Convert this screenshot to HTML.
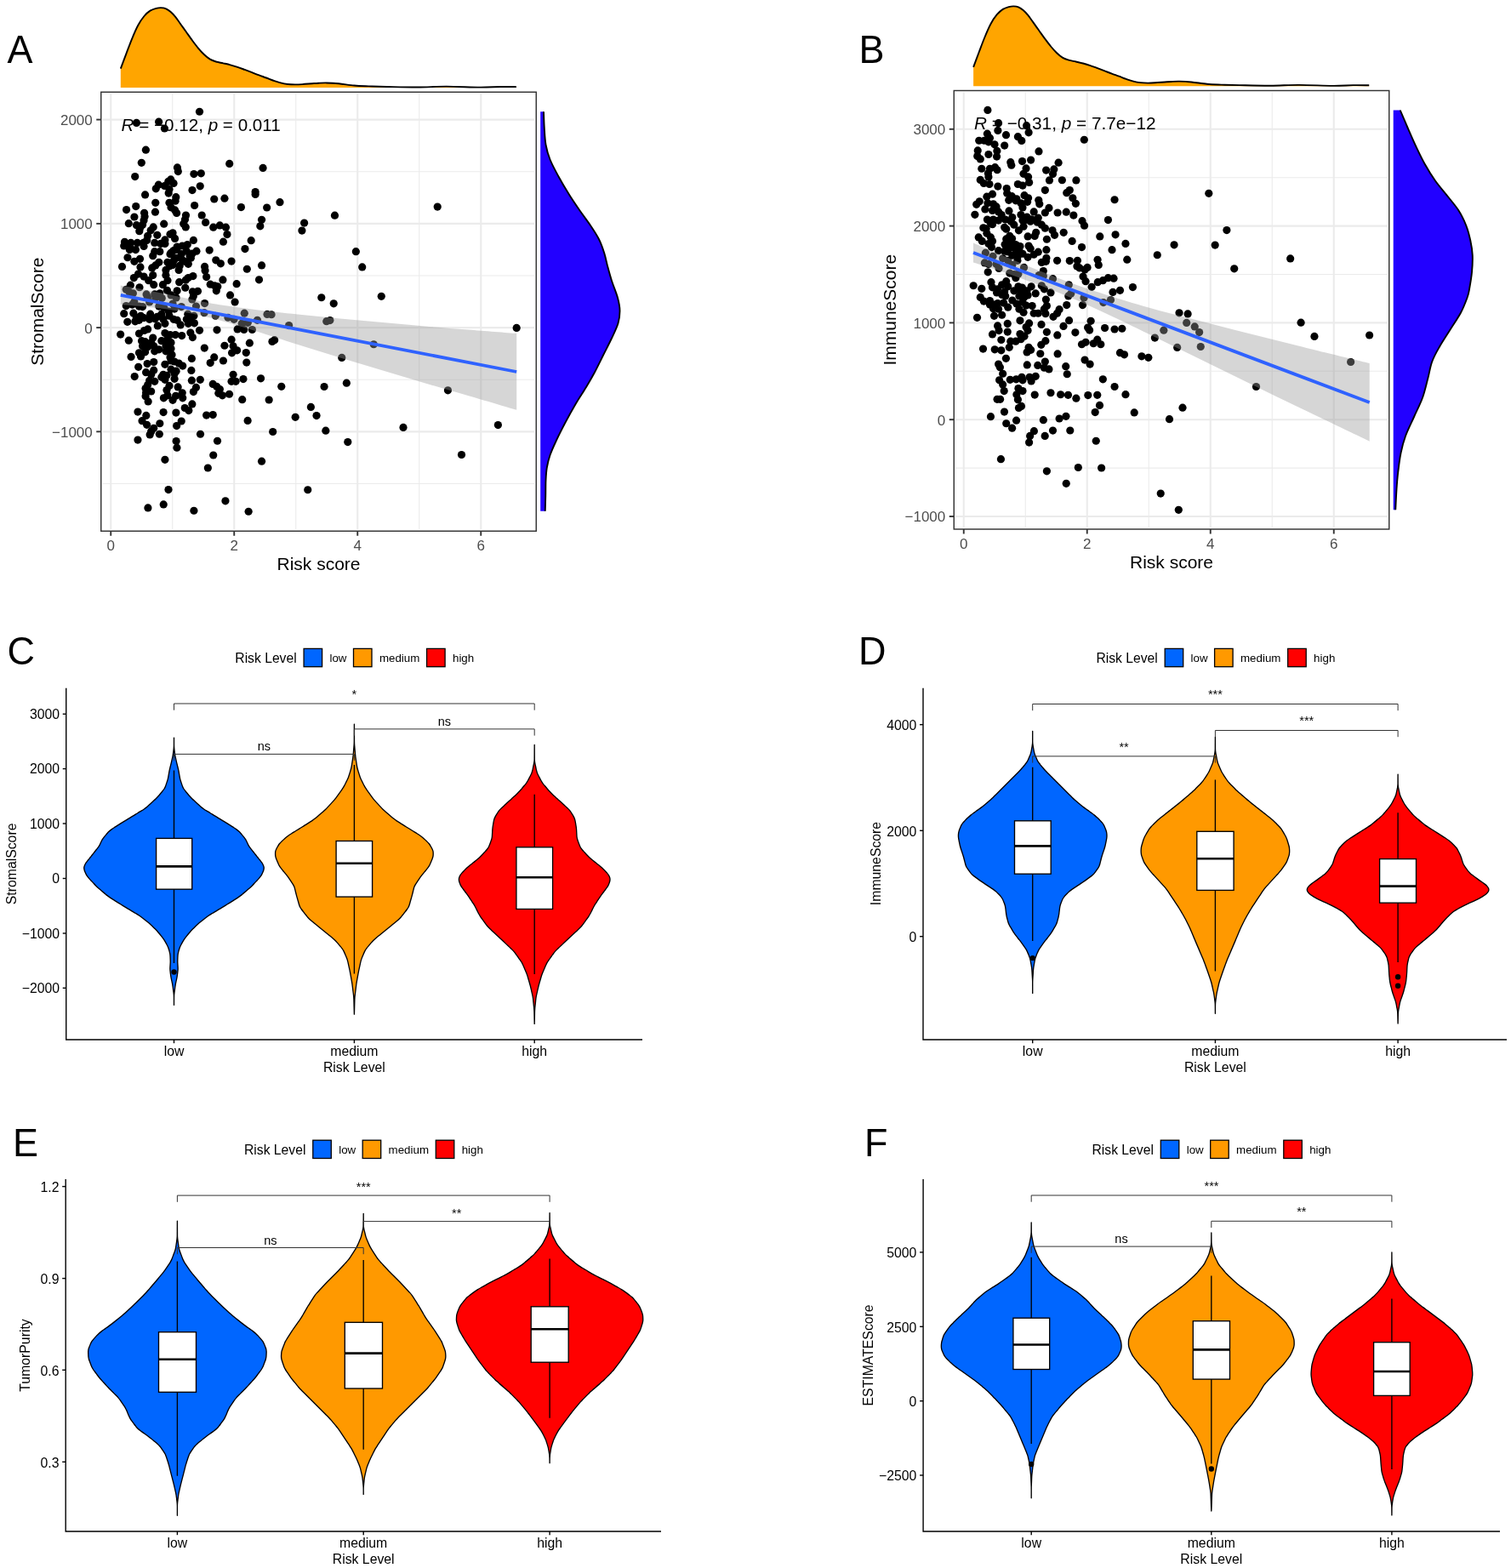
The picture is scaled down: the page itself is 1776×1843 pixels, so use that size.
<!DOCTYPE html>
<html lang="en">
<head>
<meta charset="utf-8">
<title>Risk score versus stromal, immune, ESTIMATE scores and tumor purity</title>
<style>
html,body{margin:0;padding:0;background:#fff;}
body{width:1776px;height:1843px;overflow:hidden;}
svg{display:block;font-family:"Liberation Sans",Arial,Helvetica,sans-serif;}
</style>
</head>
<body>
<svg width="1776" height="1843" viewBox="0 0 1776 1843">
<rect width="1776" height="1843" fill="#fff"/>
<g stroke="#ebebeb" fill="none">
<line x1="202.75" y1="110.35" x2="202.75" y2="622.15" stroke-width="1.1"/>
<line x1="347.75" y1="110.35" x2="347.75" y2="622.15" stroke-width="1.1"/>
<line x1="492.75" y1="110.35" x2="492.75" y2="622.15" stroke-width="1.1"/>
<line x1="120.85" y1="201.73" x2="628.15" y2="201.73" stroke-width="1.1"/>
<line x1="120.85" y1="323.98" x2="628.15" y2="323.98" stroke-width="1.1"/>
<line x1="120.85" y1="446.23" x2="628.15" y2="446.23" stroke-width="1.1"/>
<line x1="120.85" y1="568.48" x2="628.15" y2="568.48" stroke-width="1.1"/>
<line x1="130.25" y1="110.35" x2="130.25" y2="622.15" stroke-width="2.1"/>
<line x1="275.25" y1="110.35" x2="275.25" y2="622.15" stroke-width="2.1"/>
<line x1="420.25" y1="110.35" x2="420.25" y2="622.15" stroke-width="2.1"/>
<line x1="565.25" y1="110.35" x2="565.25" y2="622.15" stroke-width="2.1"/>
<line x1="120.85" y1="140.6" x2="628.15" y2="140.6" stroke-width="2.1"/>
<line x1="120.85" y1="262.85" x2="628.15" y2="262.85" stroke-width="2.1"/>
<line x1="120.85" y1="385.1" x2="628.15" y2="385.1" stroke-width="2.1"/>
<line x1="120.85" y1="507.35" x2="628.15" y2="507.35" stroke-width="2.1"/>
</g>
<g fill="#000">
<circle cx="234.5" cy="131.23" r="4.6"/>
<circle cx="160.44" cy="144.42" r="4.6"/>
<circle cx="186.62" cy="143.21" r="4.6"/>
<circle cx="193.41" cy="151.02" r="4.6"/>
<circle cx="171.4" cy="176.18" r="4.6"/>
<circle cx="166.32" cy="191.3" r="4.6"/>
<circle cx="269.71" cy="192.41" r="4.6"/>
<circle cx="309.08" cy="197.39" r="4.6"/>
<circle cx="208.43" cy="196.88" r="4.6"/>
<circle cx="209.34" cy="201.55" r="4.6"/>
<circle cx="227.91" cy="204.59" r="4.6"/>
<circle cx="236.33" cy="203.78" r="4.6"/>
<circle cx="158.71" cy="207.53" r="4.6"/>
<circle cx="200.72" cy="210.88" r="4.6"/>
<circle cx="197.78" cy="213.42" r="4.6"/>
<circle cx="204.07" cy="215.45" r="4.6"/>
<circle cx="186.31" cy="217.17" r="4.6"/>
<circle cx="193.41" cy="218.49" r="4.6"/>
<circle cx="183.27" cy="221.84" r="4.6"/>
<circle cx="198.99" cy="222.55" r="4.6"/>
<circle cx="235.22" cy="218.79" r="4.6"/>
<circle cx="225.98" cy="223.56" r="4.6"/>
<circle cx="198.18" cy="227.11" r="4.6"/>
<circle cx="170.58" cy="228.94" r="4.6"/>
<circle cx="300.15" cy="225.59" r="4.6"/>
<circle cx="300.15" cy="228.43" r="4.6"/>
<circle cx="206.81" cy="231.68" r="4.6"/>
<circle cx="206.1" cy="236.25" r="4.6"/>
<circle cx="251.75" cy="234.01" r="4.6"/>
<circle cx="263.93" cy="233.2" r="4.6"/>
<circle cx="182.76" cy="238.28" r="4.6"/>
<circle cx="198.99" cy="238.28" r="4.6"/>
<circle cx="228.62" cy="241.52" r="4.6"/>
<circle cx="159.73" cy="242.54" r="4.6"/>
<circle cx="283.41" cy="243.55" r="4.6"/>
<circle cx="201.02" cy="243.86" r="4.6"/>
<circle cx="148.57" cy="246.59" r="4.6"/>
<circle cx="205.59" cy="246.9" r="4.6"/>
<circle cx="182.46" cy="249.13" r="4.6"/>
<circle cx="207.62" cy="250.45" r="4.6"/>
<circle cx="169.57" cy="250.25" r="4.6"/>
<circle cx="218.47" cy="252.99" r="4.6"/>
<circle cx="237.24" cy="252.99" r="4.6"/>
<circle cx="157.9" cy="255.02" r="4.6"/>
<circle cx="170.08" cy="254.51" r="4.6"/>
<circle cx="169.06" cy="259.07" r="4.6"/>
<circle cx="217.46" cy="258.06" r="4.6"/>
<circle cx="307.56" cy="258.36" r="4.6"/>
<circle cx="151.31" cy="262.63" r="4.6"/>
<circle cx="192.7" cy="263.13" r="4.6"/>
<circle cx="241.61" cy="261.41" r="4.6"/>
<circle cx="215.73" cy="262.93" r="4.6"/>
<circle cx="160.44" cy="264.66" r="4.6"/>
<circle cx="167.54" cy="264.15" r="4.6"/>
<circle cx="258.35" cy="264.96" r="4.6"/>
<circle cx="305.83" cy="265.87" r="4.6"/>
<circle cx="218.27" cy="266.89" r="4.6"/>
<circle cx="250.74" cy="267.19" r="4.6"/>
<circle cx="265.45" cy="267.19" r="4.6"/>
<circle cx="180.22" cy="266.89" r="4.6"/>
<circle cx="164.5" cy="268.21" r="4.6"/>
<circle cx="177.18" cy="270.74" r="4.6"/>
<circle cx="163.79" cy="271.76" r="4.6"/>
<circle cx="203.05" cy="273.79" r="4.6"/>
<circle cx="200.01" cy="275.31" r="4.6"/>
<circle cx="266.97" cy="275.61" r="4.6"/>
<circle cx="184.79" cy="276.32" r="4.6"/>
<circle cx="173.63" cy="277.34" r="4.6"/>
<circle cx="205.59" cy="280.38" r="4.6"/>
<circle cx="193.92" cy="281.9" r="4.6"/>
<circle cx="227.4" cy="282.41" r="4.6"/>
<circle cx="295.18" cy="282.72" r="4.6"/>
<circle cx="262.41" cy="284.14" r="4.6"/>
<circle cx="146.54" cy="284.24" r="4.6"/>
<circle cx="153.84" cy="285.45" r="4.6"/>
<circle cx="161.45" cy="285.45" r="4.6"/>
<circle cx="168.56" cy="285.45" r="4.6"/>
<circle cx="172.61" cy="282.41" r="4.6"/>
<circle cx="181.75" cy="285.45" r="4.6"/>
<circle cx="188.85" cy="286.47" r="4.6"/>
<circle cx="193.92" cy="286.47" r="4.6"/>
<circle cx="145.73" cy="289.01" r="4.6"/>
<circle cx="152.83" cy="290.53" r="4.6"/>
<circle cx="169.06" cy="289.51" r="4.6"/>
<circle cx="159.42" cy="293.57" r="4.6"/>
<circle cx="152.32" cy="293.57" r="4.6"/>
<circle cx="208.12" cy="290.02" r="4.6"/>
<circle cx="214.21" cy="289.01" r="4.6"/>
<circle cx="220.3" cy="287.48" r="4.6"/>
<circle cx="287.97" cy="292.56" r="4.6"/>
<circle cx="246.17" cy="294.08" r="4.6"/>
<circle cx="204.07" cy="294.59" r="4.6"/>
<circle cx="230.95" cy="295.15" r="4.6"/>
<circle cx="225.88" cy="298.19" r="4.6"/>
<circle cx="181.75" cy="295.65" r="4.6"/>
<circle cx="187.83" cy="295.65" r="4.6"/>
<circle cx="213.2" cy="298.7" r="4.6"/>
<circle cx="149.99" cy="302.76" r="4.6"/>
<circle cx="200.01" cy="298.7" r="4.6"/>
<circle cx="179.72" cy="300.73" r="4.6"/>
<circle cx="164.5" cy="304.28" r="4.6"/>
<circle cx="157.9" cy="307.32" r="4.6"/>
<circle cx="253.78" cy="305.8" r="4.6"/>
<circle cx="259.36" cy="309.86" r="4.6"/>
<circle cx="272.05" cy="307.12" r="4.6"/>
<circle cx="201.02" cy="297.18" r="4.6"/>
<circle cx="207.11" cy="303.26" r="4.6"/>
<circle cx="219.29" cy="295.15" r="4.6"/>
<circle cx="224.36" cy="303.26" r="4.6"/>
<circle cx="217.26" cy="307.32" r="4.6"/>
<circle cx="196.96" cy="308.34" r="4.6"/>
<circle cx="203.05" cy="311.38" r="4.6"/>
<circle cx="211.17" cy="312.39" r="4.6"/>
<circle cx="221.31" cy="310.37" r="4.6"/>
<circle cx="194.94" cy="317.47" r="4.6"/>
<circle cx="210.15" cy="317.47" r="4.6"/>
<circle cx="186.82" cy="308.34" r="4.6"/>
<circle cx="182.76" cy="311.89" r="4.6"/>
<circle cx="178.7" cy="314.93" r="4.6"/>
<circle cx="165" cy="313.92" r="4.6"/>
<circle cx="143.49" cy="313.41" r="4.6"/>
<circle cx="240.59" cy="313.41" r="4.6"/>
<circle cx="241.1" cy="317.97" r="4.6"/>
<circle cx="290.31" cy="316.25" r="4.6"/>
<circle cx="307.56" cy="311.89" r="4.6"/>
<circle cx="179.72" cy="323.56" r="4.6"/>
<circle cx="162.47" cy="322.03" r="4.6"/>
<circle cx="157.39" cy="326.6" r="4.6"/>
<circle cx="169.06" cy="325.08" r="4.6"/>
<circle cx="174.64" cy="329.64" r="4.6"/>
<circle cx="180.73" cy="334.72" r="4.6"/>
<circle cx="194.94" cy="323.56" r="4.6"/>
<circle cx="196.96" cy="329.64" r="4.6"/>
<circle cx="191.38" cy="334.72" r="4.6"/>
<circle cx="210.66" cy="331.67" r="4.6"/>
<circle cx="226.9" cy="324.57" r="4.6"/>
<circle cx="221.31" cy="326.6" r="4.6"/>
<circle cx="218.27" cy="329.14" r="4.6"/>
<circle cx="217.76" cy="338.27" r="4.6"/>
<circle cx="242.62" cy="325.58" r="4.6"/>
<circle cx="261.9" cy="328.93" r="4.6"/>
<circle cx="304.51" cy="328.83" r="4.6"/>
<circle cx="278.13" cy="333.7" r="4.6"/>
<circle cx="247.19" cy="334.21" r="4.6"/>
<circle cx="252.26" cy="335.73" r="4.6"/>
<circle cx="255.81" cy="336.75" r="4.6"/>
<circle cx="254.29" cy="341.82" r="4.6"/>
<circle cx="153.34" cy="335.22" r="4.6"/>
<circle cx="163.99" cy="337.76" r="4.6"/>
<circle cx="148.26" cy="340.3" r="4.6"/>
<circle cx="156.38" cy="344.86" r="4.6"/>
<circle cx="172.11" cy="345.88" r="4.6"/>
<circle cx="196.46" cy="341.31" r="4.6"/>
<circle cx="208.12" cy="341.82" r="4.6"/>
<circle cx="187.83" cy="344.86" r="4.6"/>
<circle cx="181.75" cy="345.88" r="4.6"/>
<circle cx="201.02" cy="346.89" r="4.6"/>
<circle cx="207.11" cy="349.94" r="4.6"/>
<circle cx="226.39" cy="342.83" r="4.6"/>
<circle cx="232.48" cy="342.33" r="4.6"/>
<circle cx="227.4" cy="347.91" r="4.6"/>
<circle cx="225.88" cy="351.96" r="4.6"/>
<circle cx="270.52" cy="346.89" r="4.6"/>
<circle cx="276.1" cy="355.01" r="4.6"/>
<circle cx="240.59" cy="356.53" r="4.6"/>
<circle cx="148.26" cy="359.57" r="4.6"/>
<circle cx="155.37" cy="358.05" r="4.6"/>
<circle cx="163.48" cy="360.08" r="4.6"/>
<circle cx="167.54" cy="360.59" r="4.6"/>
<circle cx="175.66" cy="355.01" r="4.6"/>
<circle cx="186.82" cy="360.08" r="4.6"/>
<circle cx="192.91" cy="362.11" r="4.6"/>
<circle cx="203.05" cy="357.04" r="4.6"/>
<circle cx="205.08" cy="363.12" r="4.6"/>
<circle cx="213.2" cy="360.59" r="4.6"/>
<circle cx="230.45" cy="360.08" r="4.6"/>
<circle cx="220.81" cy="369.21" r="4.6"/>
<circle cx="227.91" cy="371.24" r="4.6"/>
<circle cx="240.09" cy="367.69" r="4.6"/>
<circle cx="253.28" cy="371.24" r="4.6"/>
<circle cx="267.99" cy="373.27" r="4.6"/>
<circle cx="287.26" cy="368.2" r="4.6"/>
<circle cx="302.48" cy="376.31" r="4.6"/>
<circle cx="275.09" cy="375.3" r="4.6"/>
<circle cx="284.22" cy="380.37" r="4.6"/>
<circle cx="291.32" cy="379.36" r="4.6"/>
<circle cx="145.73" cy="368.71" r="4.6"/>
<circle cx="156.89" cy="368.2" r="4.6"/>
<circle cx="165.51" cy="371.24" r="4.6"/>
<circle cx="160.44" cy="373.27" r="4.6"/>
<circle cx="149.78" cy="378.34" r="4.6"/>
<circle cx="158.92" cy="377.84" r="4.6"/>
<circle cx="163.48" cy="376.31" r="4.6"/>
<circle cx="176.67" cy="369.21" r="4.6"/>
<circle cx="175.66" cy="375.3" r="4.6"/>
<circle cx="184.79" cy="372.26" r="4.6"/>
<circle cx="189.86" cy="369.21" r="4.6"/>
<circle cx="191.89" cy="375.3" r="4.6"/>
<circle cx="198.99" cy="371.24" r="4.6"/>
<circle cx="204.07" cy="375.3" r="4.6"/>
<circle cx="208.12" cy="376.31" r="4.6"/>
<circle cx="212.18" cy="381.9" r="4.6"/>
<circle cx="193.92" cy="380.37" r="4.6"/>
<circle cx="185.3" cy="382.91" r="4.6"/>
<circle cx="219.29" cy="375.3" r="4.6"/>
<circle cx="224.36" cy="376.31" r="4.6"/>
<circle cx="221.31" cy="380.37" r="4.6"/>
<circle cx="228.42" cy="379.87" r="4.6"/>
<circle cx="234.5" cy="388.29" r="4.6"/>
<circle cx="255" cy="387.78" r="4.6"/>
<circle cx="279.15" cy="386.97" r="4.6"/>
<circle cx="286.76" cy="387.48" r="4.6"/>
<circle cx="296.4" cy="387.48" r="4.6"/>
<circle cx="141.67" cy="393.06" r="4.6"/>
<circle cx="151.31" cy="400.16" r="4.6"/>
<circle cx="163.48" cy="392.04" r="4.6"/>
<circle cx="169.57" cy="388.49" r="4.6"/>
<circle cx="173.63" cy="386.97" r="4.6"/>
<circle cx="193.92" cy="391.53" r="4.6"/>
<circle cx="200.01" cy="393.56" r="4.6"/>
<circle cx="206.1" cy="393.56" r="4.6"/>
<circle cx="213.71" cy="394.58" r="4.6"/>
<circle cx="223.85" cy="391.03" r="4.6"/>
<circle cx="226.39" cy="396.61" r="4.6"/>
<circle cx="179.72" cy="397.11" r="4.6"/>
<circle cx="166.53" cy="400.67" r="4.6"/>
<circle cx="170.58" cy="401.68" r="4.6"/>
<circle cx="177.69" cy="402.69" r="4.6"/>
<circle cx="189.86" cy="400.67" r="4.6"/>
<circle cx="195.95" cy="399.65" r="4.6"/>
<circle cx="201.02" cy="402.69" r="4.6"/>
<circle cx="272.05" cy="399.14" r="4.6"/>
<circle cx="293.35" cy="403.2" r="4.6"/>
<circle cx="263.93" cy="406.25" r="4.6"/>
<circle cx="274.07" cy="406.75" r="4.6"/>
<circle cx="278.64" cy="411.83" r="4.6"/>
<circle cx="272.55" cy="414.87" r="4.6"/>
<circle cx="289.29" cy="414.57" r="4.6"/>
<circle cx="240.29" cy="409.09" r="4.6"/>
<circle cx="167.54" cy="406.75" r="4.6"/>
<circle cx="173.63" cy="407.77" r="4.6"/>
<circle cx="180.73" cy="406.75" r="4.6"/>
<circle cx="186.82" cy="410.81" r="4.6"/>
<circle cx="194.94" cy="406.75" r="4.6"/>
<circle cx="201.02" cy="409.8" r="4.6"/>
<circle cx="163.48" cy="414.87" r="4.6"/>
<circle cx="170.58" cy="413.86" r="4.6"/>
<circle cx="181.75" cy="412.84" r="4.6"/>
<circle cx="194.94" cy="412.84" r="4.6"/>
<circle cx="202.04" cy="416.9" r="4.6"/>
<circle cx="165.51" cy="418.93" r="4.6"/>
<circle cx="154.05" cy="419.44" r="4.6"/>
<circle cx="200.01" cy="419.94" r="4.6"/>
<circle cx="225.37" cy="421.47" r="4.6"/>
<circle cx="251.75" cy="419.94" r="4.6"/>
<circle cx="247.19" cy="426.54" r="4.6"/>
<circle cx="262.41" cy="424" r="4.6"/>
<circle cx="289.8" cy="426.03" r="4.6"/>
<circle cx="205.08" cy="425.02" r="4.6"/>
<circle cx="210.15" cy="427.05" r="4.6"/>
<circle cx="214.72" cy="430.09" r="4.6"/>
<circle cx="201.02" cy="424" r="4.6"/>
<circle cx="180.73" cy="425.52" r="4.6"/>
<circle cx="173.12" cy="427.55" r="4.6"/>
<circle cx="193.92" cy="428.36" r="4.6"/>
<circle cx="162.67" cy="431.31" r="4.6"/>
<circle cx="201.02" cy="434.15" r="4.6"/>
<circle cx="207.11" cy="436.18" r="4.6"/>
<circle cx="224.87" cy="435.47" r="4.6"/>
<circle cx="180.73" cy="435.16" r="4.6"/>
<circle cx="171.6" cy="437.7" r="4.6"/>
<circle cx="177.69" cy="440.24" r="4.6"/>
<circle cx="191.89" cy="440.24" r="4.6"/>
<circle cx="195.95" cy="441.25" r="4.6"/>
<circle cx="189.86" cy="443.28" r="4.6"/>
<circle cx="193.92" cy="446.32" r="4.6"/>
<circle cx="205.08" cy="439.22" r="4.6"/>
<circle cx="274.07" cy="440.24" r="4.6"/>
<circle cx="158.21" cy="442.57" r="4.6"/>
<circle cx="205.08" cy="445.31" r="4.6"/>
<circle cx="225.37" cy="447.13" r="4.6"/>
<circle cx="235.32" cy="446.32" r="4.6"/>
<circle cx="272.05" cy="448.35" r="4.6"/>
<circle cx="277.12" cy="448.35" r="4.6"/>
<circle cx="285.95" cy="445.61" r="4.6"/>
<circle cx="306.54" cy="444.8" r="4.6"/>
<circle cx="175.66" cy="447.34" r="4.6"/>
<circle cx="181.75" cy="448.35" r="4.6"/>
<circle cx="173.63" cy="452.41" r="4.6"/>
<circle cx="250.23" cy="451.4" r="4.6"/>
<circle cx="254.8" cy="454.44" r="4.6"/>
<circle cx="258.35" cy="457.48" r="4.6"/>
<circle cx="198.99" cy="453.43" r="4.6"/>
<circle cx="209.14" cy="454.95" r="4.6"/>
<circle cx="230.45" cy="455.45" r="4.6"/>
<circle cx="195.95" cy="458.5" r="4.6"/>
<circle cx="227.4" cy="460.53" r="4.6"/>
<circle cx="171.09" cy="456.47" r="4.6"/>
<circle cx="177.69" cy="460.02" r="4.6"/>
<circle cx="171.6" cy="461.54" r="4.6"/>
<circle cx="256.83" cy="462.25" r="4.6"/>
<circle cx="261.39" cy="464.78" r="4.6"/>
<circle cx="269.51" cy="463.26" r="4.6"/>
<circle cx="171.09" cy="465.8" r="4.6"/>
<circle cx="174.14" cy="471.89" r="4.6"/>
<circle cx="196.96" cy="464.78" r="4.6"/>
<circle cx="192.4" cy="467.83" r="4.6"/>
<circle cx="214.21" cy="461.74" r="4.6"/>
<circle cx="206.6" cy="465.29" r="4.6"/>
<circle cx="214.72" cy="467.83" r="4.6"/>
<circle cx="203.05" cy="470.37" r="4.6"/>
<circle cx="284.73" cy="469.66" r="4.6"/>
<circle cx="225.88" cy="474.93" r="4.6"/>
<circle cx="217.26" cy="479.5" r="4.6"/>
<circle cx="221.82" cy="482.54" r="4.6"/>
<circle cx="161.96" cy="484.06" r="4.6"/>
<circle cx="171.8" cy="488.43" r="4.6"/>
<circle cx="192.09" cy="484.57" r="4.6"/>
<circle cx="206.91" cy="485.08" r="4.6"/>
<circle cx="242.62" cy="488.12" r="4.6"/>
<circle cx="250.23" cy="487.61" r="4.6"/>
<circle cx="167.03" cy="494.72" r="4.6"/>
<circle cx="172.61" cy="499.28" r="4.6"/>
<circle cx="187.83" cy="497.76" r="4.6"/>
<circle cx="213.2" cy="495.02" r="4.6"/>
<circle cx="207.62" cy="500.6" r="4.6"/>
<circle cx="291.12" cy="494.41" r="4.6"/>
<circle cx="180.73" cy="503.34" r="4.6"/>
<circle cx="177.69" cy="506.89" r="4.6"/>
<circle cx="176.16" cy="510.95" r="4.6"/>
<circle cx="187.33" cy="510.24" r="4.6"/>
<circle cx="235.52" cy="510.24" r="4.6"/>
<circle cx="161.96" cy="517.04" r="4.6"/>
<circle cx="207.11" cy="518.56" r="4.6"/>
<circle cx="207.92" cy="526.17" r="4.6"/>
<circle cx="255.51" cy="518.25" r="4.6"/>
<circle cx="250.74" cy="535" r="4.6"/>
<circle cx="193.92" cy="540.37" r="4.6"/>
<circle cx="307.56" cy="542.2" r="4.6"/>
<circle cx="244.35" cy="550.01" r="4.6"/>
<circle cx="197.98" cy="575.58" r="4.6"/>
<circle cx="264.94" cy="588.87" r="4.6"/>
<circle cx="192.2" cy="592.93" r="4.6"/>
<circle cx="173.93" cy="596.89" r="4.6"/>
<circle cx="227.91" cy="600.24" r="4.6"/>
<circle cx="292.13" cy="601.25" r="4.6"/>
<circle cx="328.97" cy="237.7" r="4.6"/>
<circle cx="313.66" cy="244.01" r="4.6"/>
<circle cx="357.62" cy="262.03" r="4.6"/>
<circle cx="354.92" cy="271.04" r="4.6"/>
<circle cx="393.48" cy="253.2" r="4.6"/>
<circle cx="514.2" cy="243.11" r="4.6"/>
<circle cx="418.34" cy="295.72" r="4.6"/>
<circle cx="425.73" cy="313.92" r="4.6"/>
<circle cx="377.8" cy="349.77" r="4.6"/>
<circle cx="392.22" cy="356.8" r="4.6"/>
<circle cx="448.25" cy="348.33" r="4.6"/>
<circle cx="314.02" cy="369.41" r="4.6"/>
<circle cx="319.06" cy="369.77" r="4.6"/>
<circle cx="383.75" cy="377.7" r="4.6"/>
<circle cx="387.89" cy="376.62" r="4.6"/>
<circle cx="339.6" cy="382.57" r="4.6"/>
<circle cx="607.17" cy="385.45" r="4.6"/>
<circle cx="319.96" cy="401.49" r="4.6"/>
<circle cx="322.67" cy="399.68" r="4.6"/>
<circle cx="439.24" cy="404.73" r="4.6"/>
<circle cx="401.77" cy="420.41" r="4.6"/>
<circle cx="330.77" cy="454.32" r="4.6"/>
<circle cx="316.18" cy="470" r="4.6"/>
<circle cx="381.05" cy="454.5" r="4.6"/>
<circle cx="407.35" cy="450.18" r="4.6"/>
<circle cx="365.37" cy="478.47" r="4.6"/>
<circle cx="372.04" cy="488.56" r="4.6"/>
<circle cx="347.17" cy="490.36" r="4.6"/>
<circle cx="320.68" cy="507.48" r="4.6"/>
<circle cx="382.85" cy="506.22" r="4.6"/>
<circle cx="408.79" cy="519.55" r="4.6"/>
<circle cx="474.02" cy="502.43" r="4.6"/>
<circle cx="526.45" cy="458.83" r="4.6"/>
<circle cx="585.37" cy="499.55" r="4.6"/>
<circle cx="542.49" cy="534.5" r="4.6"/>
<circle cx="361.77" cy="575.77" r="4.6"/>
<circle cx="199.01" cy="309.95" r="4.6"/>
<circle cx="152.22" cy="343.64" r="4.6"/>
<circle cx="173.43" cy="349.25" r="4.6"/>
<circle cx="182.79" cy="349.88" r="4.6"/>
<circle cx="190.27" cy="350.5" r="4.6"/>
<circle cx="157.83" cy="354.87" r="4.6"/>
<circle cx="182.16" cy="374.83" r="4.6"/>
<circle cx="169.06" cy="373.58" r="4.6"/>
<circle cx="198.38" cy="366.1" r="4.6"/>
<circle cx="207.84" cy="293.28" r="4.6"/>
<circle cx="204.46" cy="305.95" r="4.6"/>
<circle cx="214.59" cy="305.95" r="4.6"/>
<circle cx="199.39" cy="312.7" r="4.6"/>
<circle cx="223.04" cy="300.88" r="4.6"/>
</g>
<path d="M141.8,335.5C146.5,336.33 160.3,338.67 170,340.5C179.7,342.33 190,344.42 200,346.5C210,348.58 220,351 230,353C240,355 248.33,356.67 260,358.5C271.67,360.33 285,362.17 300,364C315,365.83 333.33,367.75 350,369.5C366.67,371.25 383.33,372.92 400,374.5C416.67,376.08 433.33,377.5 450,379C466.67,380.5 483.33,382.08 500,383.5C516.67,384.92 532.13,386.08 550,387.5C567.87,388.92 597.67,391.25 607.2,392L607.2,481.8C597.67,479 567.87,470.22 550,465C532.13,459.78 516.67,455.42 500,450.5C483.33,445.58 466.67,440.5 450,435.5C433.33,430.5 416.67,425.58 400,420.5C383.33,415.42 366.67,410.25 350,405C333.33,399.75 315,393.67 300,389C285,384.33 271.67,380.25 260,377C248.33,373.75 240,371.67 230,369.5C220,367.33 210,365.5 200,364C190,362.5 179.7,361.5 170,360.5C160.3,359.5 146.5,358.42 141.8,358Z" fill="#999" fill-opacity="0.4"/>
<line x1="141.8" y1="346.8" x2="607.2" y2="437" stroke="#2f62ff" stroke-width="3.8"/>
<text x="142.5" y="154.3" font-size="20.65" text-anchor="start" fill="#000"><tspan font-style="italic">R</tspan> = −0.12, <tspan font-style="italic">p</tspan> = 0.011</text>
<rect x="118.75" y="108.25" width="511.5" height="516" fill="none" stroke="#333" stroke-width="1.45"/>
<g stroke="#333" stroke-width="1.9">
<line x1="130.25" y1="624.25" x2="130.25" y2="629.75"/>
<line x1="275.25" y1="624.25" x2="275.25" y2="629.75"/>
<line x1="420.25" y1="624.25" x2="420.25" y2="629.75"/>
<line x1="565.25" y1="624.25" x2="565.25" y2="629.75"/>
<line x1="113.25" y1="140.6" x2="118.75" y2="140.6"/>
<line x1="113.25" y1="262.85" x2="118.75" y2="262.85"/>
<line x1="113.25" y1="385.1" x2="118.75" y2="385.1"/>
<line x1="113.25" y1="507.35" x2="118.75" y2="507.35"/>
</g>
<text x="130.25" y="646.85" font-size="17.0" text-anchor="middle" fill="#4d4d4d">0</text>
<text x="275.25" y="646.85" font-size="17.0" text-anchor="middle" fill="#4d4d4d">2</text>
<text x="420.25" y="646.85" font-size="17.0" text-anchor="middle" fill="#4d4d4d">4</text>
<text x="565.25" y="646.85" font-size="17.0" text-anchor="middle" fill="#4d4d4d">6</text>
<text x="108.75" y="147" font-size="17.0" text-anchor="end" fill="#4d4d4d">2000</text>
<text x="108.75" y="269.25" font-size="17.0" text-anchor="end" fill="#4d4d4d">1000</text>
<text x="108.75" y="391.5" font-size="17.0" text-anchor="end" fill="#4d4d4d">0</text>
<text x="108.75" y="513.75" font-size="17.0" text-anchor="end" fill="#4d4d4d">−1000</text>
<text x="374.5" y="669.5" font-size="21" text-anchor="middle" fill="#000">Risk score</text>
<text transform="translate(51.3,366.25) rotate(-90)" font-size="21" text-anchor="middle" fill="#000">StromalScore</text>
<path d="M141.82,80.66C142.9,77.77 146.05,69.28 148.3,63.34C150.55,57.41 152.99,50.68 155.34,45.05C157.68,39.41 160.03,33.9 162.38,29.56C164.72,25.22 167.07,21.82 169.41,19C171.76,16.19 174.11,14.19 176.45,12.67C178.8,11.14 181.38,10.44 183.49,9.85C185.6,9.27 187.24,9.1 189.12,9.15C191,9.2 192.88,9.36 194.75,10.14C196.63,10.91 198.51,12.2 200.38,13.8C202.26,15.39 204.14,17.43 206.01,19.71C207.89,21.98 209.53,24.52 211.64,27.45C213.76,30.38 216.34,34.02 218.68,37.3C221.03,40.59 223.37,43.99 225.72,47.16C228.07,50.32 230.41,53.49 232.76,56.31C235.11,59.12 237.45,61.82 239.8,64.05C242.14,66.28 244.49,68.27 246.84,69.68C249.18,71.09 251.29,71.72 253.87,72.49C256.45,73.27 259.5,73.69 262.32,74.32C265.14,74.96 267.95,75.54 270.77,76.3C273.58,77.05 276.4,77.89 279.21,78.83C282.03,79.77 284.84,80.87 287.66,81.93C290.47,82.98 293.29,84.08 296.1,85.16C298.92,86.24 301.73,87.35 304.55,88.4C307.36,89.46 310.18,90.44 313,91.5C315.81,92.55 318.63,93.75 321.44,94.74C324.26,95.72 327.07,96.71 329.89,97.41C332.7,98.11 335.52,98.63 338.33,98.96C341.15,99.29 343.96,99.36 346.78,99.38C349.59,99.4 351.94,99.29 355.23,99.1C358.51,98.91 363.32,98.48 366.49,98.25C369.65,98.03 371.29,97.86 374.22,97.73C377.15,97.59 380.09,97.35 384.08,97.44C388.06,97.54 392.76,97.77 398.15,98.29C403.55,98.8 410.59,100.02 416.45,100.54C422.32,101.06 427.01,101.15 433.34,101.39C439.68,101.62 444.84,101.76 454.46,101.95C464.08,102.14 479.33,102.56 491.06,102.51C502.79,102.46 512.64,101.64 524.84,101.67C537.04,101.69 553.7,102.61 564.26,102.65C574.81,102.7 581.08,102.04 588.19,101.95C595.3,101.85 603.79,102.07 606.91,102.09L606.91,103L141.82,103Z" fill="#ffa500"/>
<path d="M141.82,80.66C142.9,77.77 146.05,69.28 148.3,63.34C150.55,57.41 152.99,50.68 155.34,45.05C157.68,39.41 160.03,33.9 162.38,29.56C164.72,25.22 167.07,21.82 169.41,19C171.76,16.19 174.11,14.19 176.45,12.67C178.8,11.14 181.38,10.44 183.49,9.85C185.6,9.27 187.24,9.1 189.12,9.15C191,9.2 192.88,9.36 194.75,10.14C196.63,10.91 198.51,12.2 200.38,13.8C202.26,15.39 204.14,17.43 206.01,19.71C207.89,21.98 209.53,24.52 211.64,27.45C213.76,30.38 216.34,34.02 218.68,37.3C221.03,40.59 223.37,43.99 225.72,47.16C228.07,50.32 230.41,53.49 232.76,56.31C235.11,59.12 237.45,61.82 239.8,64.05C242.14,66.28 244.49,68.27 246.84,69.68C249.18,71.09 251.29,71.72 253.87,72.49C256.45,73.27 259.5,73.69 262.32,74.32C265.14,74.96 267.95,75.54 270.77,76.3C273.58,77.05 276.4,77.89 279.21,78.83C282.03,79.77 284.84,80.87 287.66,81.93C290.47,82.98 293.29,84.08 296.1,85.16C298.92,86.24 301.73,87.35 304.55,88.4C307.36,89.46 310.18,90.44 313,91.5C315.81,92.55 318.63,93.75 321.44,94.74C324.26,95.72 327.07,96.71 329.89,97.41C332.7,98.11 335.52,98.63 338.33,98.96C341.15,99.29 343.96,99.36 346.78,99.38C349.59,99.4 351.94,99.29 355.23,99.1C358.51,98.91 363.32,98.48 366.49,98.25C369.65,98.03 371.29,97.86 374.22,97.73C377.15,97.59 380.09,97.35 384.08,97.44C388.06,97.54 392.76,97.77 398.15,98.29C403.55,98.8 410.59,100.02 416.45,100.54C422.32,101.06 427.01,101.15 433.34,101.39C439.68,101.62 444.84,101.76 454.46,101.95C464.08,102.14 479.33,102.56 491.06,102.51C502.79,102.46 512.64,101.64 524.84,101.67C537.04,101.69 553.7,102.61 564.26,102.65C574.81,102.7 581.08,102.04 588.19,101.95C595.3,101.85 603.79,102.07 606.91,102.09" fill="none" stroke="#000" stroke-width="1.9" stroke-linejoin="round"/>
<path d="M639,131.25C639.12,134.38 639.33,143.54 639.75,150C640.17,156.46 640.38,163.75 641.5,170C642.62,176.25 644,181.25 646.5,187.5C649,193.75 652.75,200.62 656.5,207.5C660.25,214.38 664.83,222.08 669,228.75C673.17,235.42 677.33,241.46 681.5,247.5C685.67,253.54 690.25,259.38 694,265C697.75,270.62 701.29,275.83 704,281.25C706.71,286.67 708.58,292.29 710.25,297.5C711.92,302.71 712.54,307.08 714,312.5C715.46,317.92 717,323.75 719,330C721,336.25 724.42,344.17 726,350C727.58,355.83 728.42,360 728.5,365C728.58,370 728.08,374.58 726.5,380C724.92,385.42 721.92,391.25 719,397.5C716.08,403.75 712.33,410.83 709,417.5C705.67,424.17 702.33,431.25 699,437.5C695.67,443.75 692.75,448.75 689,455C685.25,461.25 680.67,467.92 676.5,475C672.33,482.08 667.75,490.42 664,497.5C660.25,504.58 656.92,511.25 654,517.5C651.08,523.75 648.38,529.58 646.5,535C644.62,540.42 643.58,545 642.75,550C641.92,555 641.75,559.58 641.5,565C641.25,570.42 641.38,576.54 641.25,582.5C641.12,588.46 640.83,597.71 640.75,600.75L635.2,600.75L635.2,131.25Z" fill="#2200ff"/>
<path d="M639,131.25C639.12,134.38 639.33,143.54 639.75,150C640.17,156.46 640.38,163.75 641.5,170C642.62,176.25 644,181.25 646.5,187.5C649,193.75 652.75,200.62 656.5,207.5C660.25,214.38 664.83,222.08 669,228.75C673.17,235.42 677.33,241.46 681.5,247.5C685.67,253.54 690.25,259.38 694,265C697.75,270.62 701.29,275.83 704,281.25C706.71,286.67 708.58,292.29 710.25,297.5C711.92,302.71 712.54,307.08 714,312.5C715.46,317.92 717,323.75 719,330C721,336.25 724.42,344.17 726,350C727.58,355.83 728.42,360 728.5,365C728.58,370 728.08,374.58 726.5,380C724.92,385.42 721.92,391.25 719,397.5C716.08,403.75 712.33,410.83 709,417.5C705.67,424.17 702.33,431.25 699,437.5C695.67,443.75 692.75,448.75 689,455C685.25,461.25 680.67,467.92 676.5,475C672.33,482.08 667.75,490.42 664,497.5C660.25,504.58 656.92,511.25 654,517.5C651.08,523.75 648.38,529.58 646.5,535C644.62,540.42 643.58,545 642.75,550C641.92,555 641.75,559.58 641.5,565C641.25,570.42 641.38,576.54 641.25,582.5C641.12,588.46 640.83,597.71 640.75,600.75" fill="none" stroke="#000" stroke-width="1.9" stroke-linejoin="round"/>
<text transform="translate(8.6,74.3) scale(1,1.045)" font-size="45" fill="#000">A</text>
<g stroke="#ebebeb" fill="none">
<line x1="1205.25" y1="108.6" x2="1205.25" y2="619.9" stroke-width="1.1"/>
<line x1="1350.25" y1="108.6" x2="1350.25" y2="619.9" stroke-width="1.1"/>
<line x1="1495.25" y1="108.6" x2="1495.25" y2="619.9" stroke-width="1.1"/>
<line x1="1123.35" y1="208.7" x2="1630.65" y2="208.7" stroke-width="1.1"/>
<line x1="1123.35" y1="322.5" x2="1630.65" y2="322.5" stroke-width="1.1"/>
<line x1="1123.35" y1="436.3" x2="1630.65" y2="436.3" stroke-width="1.1"/>
<line x1="1123.35" y1="550.1" x2="1630.65" y2="550.1" stroke-width="1.1"/>
<line x1="1132.75" y1="108.6" x2="1132.75" y2="619.9" stroke-width="2.1"/>
<line x1="1277.75" y1="108.6" x2="1277.75" y2="619.9" stroke-width="2.1"/>
<line x1="1422.75" y1="108.6" x2="1422.75" y2="619.9" stroke-width="2.1"/>
<line x1="1567.75" y1="108.6" x2="1567.75" y2="619.9" stroke-width="2.1"/>
<line x1="1123.35" y1="151.8" x2="1630.65" y2="151.8" stroke-width="2.1"/>
<line x1="1123.35" y1="265.6" x2="1630.65" y2="265.6" stroke-width="2.1"/>
<line x1="1123.35" y1="379.4" x2="1630.65" y2="379.4" stroke-width="2.1"/>
<line x1="1123.35" y1="493.2" x2="1630.65" y2="493.2" stroke-width="2.1"/>
<line x1="1123.35" y1="607" x2="1630.65" y2="607" stroke-width="2.1"/>
</g>
<g fill="#000">
<circle cx="1160.9" cy="129.45" r="4.6"/>
<circle cx="1173.58" cy="144.67" r="4.6"/>
<circle cx="1206.56" cy="147.71" r="4.6"/>
<circle cx="1172.87" cy="153.4" r="4.6"/>
<circle cx="1209.1" cy="155.83" r="4.6"/>
<circle cx="1160.39" cy="157.15" r="4.6"/>
<circle cx="1182.51" cy="158.67" r="4.6"/>
<circle cx="1196.41" cy="160.7" r="4.6"/>
<circle cx="1163.44" cy="162.22" r="4.6"/>
<circle cx="1200.78" cy="165.47" r="4.6"/>
<circle cx="1150.76" cy="165.27" r="4.6"/>
<circle cx="1156.84" cy="165.27" r="4.6"/>
<circle cx="1161.92" cy="166.79" r="4.6"/>
<circle cx="1169.02" cy="169.83" r="4.6"/>
<circle cx="1180.69" cy="171.05" r="4.6"/>
<circle cx="1274.34" cy="164.25" r="4.6"/>
<circle cx="1149.23" cy="176.94" r="4.6"/>
<circle cx="1171.86" cy="177.44" r="4.6"/>
<circle cx="1220.97" cy="177.95" r="4.6"/>
<circle cx="1161.92" cy="181.5" r="4.6"/>
<circle cx="1171.56" cy="184.04" r="4.6"/>
<circle cx="1148.73" cy="183.53" r="4.6"/>
<circle cx="1152.28" cy="186.88" r="4.6"/>
<circle cx="1187.79" cy="190.63" r="4.6"/>
<circle cx="1188.8" cy="194.18" r="4.6"/>
<circle cx="1201.49" cy="189.62" r="4.6"/>
<circle cx="1211.63" cy="188.1" r="4.6"/>
<circle cx="1244.1" cy="191.14" r="4.6"/>
<circle cx="1153.8" cy="198.24" r="4.6"/>
<circle cx="1163.44" cy="198.24" r="4.6"/>
<circle cx="1169.53" cy="196.72" r="4.6"/>
<circle cx="1172.06" cy="199.76" r="4.6"/>
<circle cx="1206.05" cy="197.94" r="4.6"/>
<circle cx="1229.59" cy="200.07" r="4.6"/>
<circle cx="1238.82" cy="198.95" r="4.6"/>
<circle cx="1237.5" cy="204.53" r="4.6"/>
<circle cx="1203.01" cy="204.33" r="4.6"/>
<circle cx="1161.41" cy="203.82" r="4.6"/>
<circle cx="1161.92" cy="207.88" r="4.6"/>
<circle cx="1208.59" cy="207.88" r="4.6"/>
<circle cx="1209.6" cy="214.48" r="4.6"/>
<circle cx="1233.45" cy="211.94" r="4.6"/>
<circle cx="1248.36" cy="211.74" r="4.6"/>
<circle cx="1264.9" cy="211.94" r="4.6"/>
<circle cx="1152.28" cy="211.43" r="4.6"/>
<circle cx="1156.34" cy="215.49" r="4.6"/>
<circle cx="1162.93" cy="216.5" r="4.6"/>
<circle cx="1172.87" cy="219.04" r="4.6"/>
<circle cx="1196.41" cy="216.5" r="4.6"/>
<circle cx="1201.99" cy="218.03" r="4.6"/>
<circle cx="1183.22" cy="221.58" r="4.6"/>
<circle cx="1228.37" cy="223.61" r="4.6"/>
<circle cx="1183.73" cy="227.16" r="4.6"/>
<circle cx="1257.29" cy="223.61" r="4.6"/>
<circle cx="1253.74" cy="226.65" r="4.6"/>
<circle cx="1166.48" cy="228.17" r="4.6"/>
<circle cx="1159.89" cy="231.22" r="4.6"/>
<circle cx="1189.31" cy="230.71" r="4.6"/>
<circle cx="1204.02" cy="229.69" r="4.6"/>
<circle cx="1208.59" cy="232.74" r="4.6"/>
<circle cx="1194.89" cy="233.75" r="4.6"/>
<circle cx="1185.76" cy="235.28" r="4.6"/>
<circle cx="1220.76" cy="235.28" r="4.6"/>
<circle cx="1260.84" cy="232.74" r="4.6"/>
<circle cx="1264.39" cy="239.33" r="4.6"/>
<circle cx="1310.05" cy="234.77" r="4.6"/>
<circle cx="1151.26" cy="236.8" r="4.6"/>
<circle cx="1147.71" cy="240.35" r="4.6"/>
<circle cx="1160.9" cy="238.83" r="4.6"/>
<circle cx="1167.5" cy="239.84" r="4.6"/>
<circle cx="1171.05" cy="242.88" r="4.6"/>
<circle cx="1193.88" cy="235.78" r="4.6"/>
<circle cx="1199.96" cy="238.83" r="4.6"/>
<circle cx="1207.57" cy="237.3" r="4.6"/>
<circle cx="1221.78" cy="239.84" r="4.6"/>
<circle cx="1201.99" cy="243.9" r="4.6"/>
<circle cx="1232.94" cy="244.41" r="4.6"/>
<circle cx="1157.86" cy="245.93" r="4.6"/>
<circle cx="1166.48" cy="247.45" r="4.6"/>
<circle cx="1173.58" cy="248.97" r="4.6"/>
<circle cx="1185.96" cy="247.96" r="4.6"/>
<circle cx="1215.18" cy="248.97" r="4.6"/>
<circle cx="1228.37" cy="249.99" r="4.6"/>
<circle cx="1243.09" cy="249.99" r="4.6"/>
<circle cx="1253.23" cy="249.18" r="4.6"/>
<circle cx="1261.86" cy="253.03" r="4.6"/>
<circle cx="1145.89" cy="252.32" r="4.6"/>
<circle cx="1199.96" cy="252.52" r="4.6"/>
<circle cx="1177.14" cy="252.52" r="4.6"/>
<circle cx="1189.82" cy="255.57" r="4.6"/>
<circle cx="1207.07" cy="255.06" r="4.6"/>
<circle cx="1220.26" cy="256.07" r="4.6"/>
<circle cx="1160.39" cy="258.1" r="4.6"/>
<circle cx="1167.5" cy="258.1" r="4.6"/>
<circle cx="1173.58" cy="259.12" r="4.6"/>
<circle cx="1181.7" cy="258.1" r="4.6"/>
<circle cx="1188.3" cy="260.13" r="4.6"/>
<circle cx="1201.99" cy="259.12" r="4.6"/>
<circle cx="1211.12" cy="260.13" r="4.6"/>
<circle cx="1219.24" cy="261.15" r="4.6"/>
<circle cx="1272" cy="259.63" r="4.6"/>
<circle cx="1302.44" cy="258.61" r="4.6"/>
<circle cx="1191.85" cy="264.19" r="4.6"/>
<circle cx="1166.48" cy="263.68" r="4.6"/>
<circle cx="1203.01" cy="266.22" r="4.6"/>
<circle cx="1224.31" cy="264.19" r="4.6"/>
<circle cx="1274.54" cy="265.21" r="4.6"/>
<circle cx="1228.37" cy="268.25" r="4.6"/>
<circle cx="1237" cy="270.79" r="4.6"/>
<circle cx="1155.83" cy="267.74" r="4.6"/>
<circle cx="1180.69" cy="267.24" r="4.6"/>
<circle cx="1182.72" cy="269.26" r="4.6"/>
<circle cx="1197.43" cy="270.79" r="4.6"/>
<circle cx="1159.89" cy="274.34" r="4.6"/>
<circle cx="1217.72" cy="273.32" r="4.6"/>
<circle cx="1250.19" cy="273.32" r="4.6"/>
<circle cx="1239.53" cy="276.37" r="4.6"/>
<circle cx="1150.25" cy="278.9" r="4.6"/>
<circle cx="1164.45" cy="278.9" r="4.6"/>
<circle cx="1186.77" cy="277.38" r="4.6"/>
<circle cx="1208.08" cy="277.89" r="4.6"/>
<circle cx="1216.2" cy="277.38" r="4.6"/>
<circle cx="1182.72" cy="280.93" r="4.6"/>
<circle cx="1230.4" cy="281.24" r="4.6"/>
<circle cx="1292.8" cy="277.89" r="4.6"/>
<circle cx="1311.06" cy="275.86" r="4.6"/>
<circle cx="1260.13" cy="283.47" r="4.6"/>
<circle cx="1154.31" cy="283.47" r="4.6"/>
<circle cx="1166.48" cy="283.47" r="4.6"/>
<circle cx="1161.92" cy="286.51" r="4.6"/>
<circle cx="1187.79" cy="285.5" r="4.6"/>
<circle cx="1193.88" cy="287.53" r="4.6"/>
<circle cx="1198.95" cy="289.56" r="4.6"/>
<circle cx="1209.1" cy="289.05" r="4.6"/>
<circle cx="1165.47" cy="290.62" r="4.6"/>
<circle cx="1173.58" cy="294.68" r="4.6"/>
<circle cx="1158.37" cy="297.22" r="4.6"/>
<circle cx="1180.69" cy="295.19" r="4.6"/>
<circle cx="1185.76" cy="292.15" r="4.6"/>
<circle cx="1191.85" cy="291.13" r="4.6"/>
<circle cx="1197.94" cy="294.18" r="4.6"/>
<circle cx="1193.88" cy="297.22" r="4.6"/>
<circle cx="1201.99" cy="298.23" r="4.6"/>
<circle cx="1189.82" cy="300.26" r="4.6"/>
<circle cx="1195.91" cy="302.29" r="4.6"/>
<circle cx="1211.12" cy="292.15" r="4.6"/>
<circle cx="1220.26" cy="296.2" r="4.6"/>
<circle cx="1215.18" cy="299.25" r="4.6"/>
<circle cx="1208.08" cy="302.29" r="4.6"/>
<circle cx="1229.9" cy="293.67" r="4.6"/>
<circle cx="1229.9" cy="303.31" r="4.6"/>
<circle cx="1224.31" cy="308.38" r="4.6"/>
<circle cx="1229.39" cy="307.37" r="4.6"/>
<circle cx="1195.91" cy="306.35" r="4.6"/>
<circle cx="1271.49" cy="290.62" r="4.6"/>
<circle cx="1307.01" cy="293.67" r="4.6"/>
<circle cx="1242.58" cy="306.35" r="4.6"/>
<circle cx="1257.29" cy="306.55" r="4.6"/>
<circle cx="1266.42" cy="306.35" r="4.6"/>
<circle cx="1290.06" cy="305.34" r="4.6"/>
<circle cx="1291.28" cy="311.42" r="4.6"/>
<circle cx="1265.91" cy="312.95" r="4.6"/>
<circle cx="1268.96" cy="314.97" r="4.6"/>
<circle cx="1278.09" cy="314.47" r="4.6"/>
<circle cx="1275.05" cy="317" r="4.6"/>
<circle cx="1166.99" cy="301.28" r="4.6"/>
<circle cx="1178.66" cy="303.81" r="4.6"/>
<circle cx="1184.75" cy="306.35" r="4.6"/>
<circle cx="1157.35" cy="308.89" r="4.6"/>
<circle cx="1161.92" cy="310.41" r="4.6"/>
<circle cx="1171.05" cy="310.41" r="4.6"/>
<circle cx="1174.09" cy="315.48" r="4.6"/>
<circle cx="1189.82" cy="311.42" r="4.6"/>
<circle cx="1203.52" cy="314.47" r="4.6"/>
<circle cx="1226.34" cy="318.53" r="4.6"/>
<circle cx="1161.21" cy="319.84" r="4.6"/>
<circle cx="1186.77" cy="321.06" r="4.6"/>
<circle cx="1191.85" cy="322.58" r="4.6"/>
<circle cx="1196.92" cy="322.08" r="4.6"/>
<circle cx="1193.88" cy="326.64" r="4.6"/>
<circle cx="1221.27" cy="323.6" r="4.6"/>
<circle cx="1226.34" cy="324.61" r="4.6"/>
<circle cx="1237.5" cy="327.66" r="4.6"/>
<circle cx="1273.02" cy="325.12" r="4.6"/>
<circle cx="1276.06" cy="330.7" r="4.6"/>
<circle cx="1290.26" cy="331.72" r="4.6"/>
<circle cx="1296.35" cy="329.69" r="4.6"/>
<circle cx="1302.44" cy="326.64" r="4.6"/>
<circle cx="1309.03" cy="327.15" r="4.6"/>
<circle cx="1144.16" cy="335.77" r="4.6"/>
<circle cx="1153.8" cy="339.33" r="4.6"/>
<circle cx="1164.96" cy="331.72" r="4.6"/>
<circle cx="1182.72" cy="330.7" r="4.6"/>
<circle cx="1177.64" cy="334.76" r="4.6"/>
<circle cx="1166.48" cy="337.8" r="4.6"/>
<circle cx="1184.75" cy="336.79" r="4.6"/>
<circle cx="1172.57" cy="339.83" r="4.6"/>
<circle cx="1196.92" cy="336.79" r="4.6"/>
<circle cx="1212.14" cy="336.79" r="4.6"/>
<circle cx="1224.31" cy="335.77" r="4.6"/>
<circle cx="1227.36" cy="339.83" r="4.6"/>
<circle cx="1256.28" cy="334.76" r="4.6"/>
<circle cx="1283.16" cy="337.3" r="4.6"/>
<circle cx="1171.56" cy="343.89" r="4.6"/>
<circle cx="1180.69" cy="342.88" r="4.6"/>
<circle cx="1191.85" cy="341.86" r="4.6"/>
<circle cx="1199.96" cy="342.88" r="4.6"/>
<circle cx="1207.07" cy="341.86" r="4.6"/>
<circle cx="1217.21" cy="344.91" r="4.6"/>
<circle cx="1234.97" cy="343.89" r="4.6"/>
<circle cx="1308.02" cy="343.38" r="4.6"/>
<circle cx="1152.28" cy="349.47" r="4.6"/>
<circle cx="1156.34" cy="354.04" r="4.6"/>
<circle cx="1163.44" cy="353.53" r="4.6"/>
<circle cx="1181.7" cy="347.95" r="4.6"/>
<circle cx="1189.82" cy="353.02" r="4.6"/>
<circle cx="1197.94" cy="347.95" r="4.6"/>
<circle cx="1204.02" cy="348.96" r="4.6"/>
<circle cx="1208.08" cy="346.94" r="4.6"/>
<circle cx="1229.39" cy="352.01" r="4.6"/>
<circle cx="1255.77" cy="347.95" r="4.6"/>
<circle cx="1258.81" cy="344.91" r="4.6"/>
<circle cx="1274.03" cy="349.98" r="4.6"/>
<circle cx="1305.48" cy="352.52" r="4.6"/>
<circle cx="1296.86" cy="355.56" r="4.6"/>
<circle cx="1163.44" cy="358.1" r="4.6"/>
<circle cx="1169.53" cy="358.1" r="4.6"/>
<circle cx="1179.67" cy="356.07" r="4.6"/>
<circle cx="1184.75" cy="361.14" r="4.6"/>
<circle cx="1194.89" cy="357.08" r="4.6"/>
<circle cx="1201.99" cy="355.05" r="4.6"/>
<circle cx="1206.05" cy="359.11" r="4.6"/>
<circle cx="1213.15" cy="359.62" r="4.6"/>
<circle cx="1230.4" cy="359.62" r="4.6"/>
<circle cx="1253.74" cy="358.6" r="4.6"/>
<circle cx="1272.51" cy="358.6" r="4.6"/>
<circle cx="1167.5" cy="362.66" r="4.6"/>
<circle cx="1173.58" cy="363.17" r="4.6"/>
<circle cx="1197.94" cy="363.17" r="4.6"/>
<circle cx="1203.01" cy="367.23" r="4.6"/>
<circle cx="1227.36" cy="363.17" r="4.6"/>
<circle cx="1245.11" cy="363.68" r="4.6"/>
<circle cx="1168.51" cy="371.29" r="4.6"/>
<circle cx="1177.64" cy="370.27" r="4.6"/>
<circle cx="1215.18" cy="368.24" r="4.6"/>
<circle cx="1220.26" cy="368.24" r="4.6"/>
<circle cx="1228.88" cy="368.75" r="4.6"/>
<circle cx="1242.58" cy="368.24" r="4.6"/>
<circle cx="1238.01" cy="372.3" r="4.6"/>
<circle cx="1148.52" cy="373.31" r="4.6"/>
<circle cx="1198.95" cy="376.87" r="4.6"/>
<circle cx="1209.6" cy="379.91" r="4.6"/>
<circle cx="1256.58" cy="376.66" r="4.6"/>
<circle cx="1282.15" cy="377.37" r="4.6"/>
<circle cx="1172.57" cy="382.95" r="4.6"/>
<circle cx="1184.24" cy="380.42" r="4.6"/>
<circle cx="1224.01" cy="381.43" r="4.6"/>
<circle cx="1249.98" cy="383.46" r="4.6"/>
<circle cx="1206.05" cy="384.48" r="4.6"/>
<circle cx="1278.6" cy="384.98" r="4.6"/>
<circle cx="1280.63" cy="388.03" r="4.6"/>
<circle cx="1298.58" cy="385.49" r="4.6"/>
<circle cx="1310.05" cy="387.01" r="4.6"/>
<circle cx="1174.09" cy="388.53" r="4.6"/>
<circle cx="1184.24" cy="390.06" r="4.6"/>
<circle cx="1208.08" cy="388.53" r="4.6"/>
<circle cx="1230.4" cy="390.36" r="4.6"/>
<circle cx="1198.95" cy="392.59" r="4.6"/>
<circle cx="1263.88" cy="390.87" r="4.6"/>
<circle cx="1242.78" cy="393.91" r="4.6"/>
<circle cx="1166.48" cy="392.9" r="4.6"/>
<circle cx="1204.02" cy="395.13" r="4.6"/>
<circle cx="1176.83" cy="399.49" r="4.6"/>
<circle cx="1187.79" cy="401.22" r="4.6"/>
<circle cx="1193.88" cy="401.22" r="4.6"/>
<circle cx="1199.96" cy="398.68" r="4.6"/>
<circle cx="1228.88" cy="400.71" r="4.6"/>
<circle cx="1223.81" cy="405.28" r="4.6"/>
<circle cx="1271.49" cy="404.77" r="4.6"/>
<circle cx="1276.06" cy="402.23" r="4.6"/>
<circle cx="1285.19" cy="403.75" r="4.6"/>
<circle cx="1289.76" cy="399.19" r="4.6"/>
<circle cx="1293.82" cy="404.77" r="4.6"/>
<circle cx="1155.52" cy="410.04" r="4.6"/>
<circle cx="1169.22" cy="410.86" r="4.6"/>
<circle cx="1176.83" cy="411.87" r="4.6"/>
<circle cx="1186.27" cy="408.32" r="4.6"/>
<circle cx="1209.1" cy="408.32" r="4.6"/>
<circle cx="1211.63" cy="411.36" r="4.6"/>
<circle cx="1207.07" cy="413.9" r="4.6"/>
<circle cx="1222.79" cy="415.73" r="4.6"/>
<circle cx="1243.09" cy="415.93" r="4.6"/>
<circle cx="1182.41" cy="421.31" r="4.6"/>
<circle cx="1275.05" cy="423.03" r="4.6"/>
<circle cx="1281.13" cy="428.1" r="4.6"/>
<circle cx="1228.37" cy="425.06" r="4.6"/>
<circle cx="1173.58" cy="428.1" r="4.6"/>
<circle cx="1175.41" cy="431.66" r="4.6"/>
<circle cx="1207.27" cy="428.92" r="4.6"/>
<circle cx="1219.75" cy="429.42" r="4.6"/>
<circle cx="1227.36" cy="432.16" r="4.6"/>
<circle cx="1232.94" cy="433.89" r="4.6"/>
<circle cx="1252.72" cy="430.64" r="4.6"/>
<circle cx="1178.66" cy="439.26" r="4.6"/>
<circle cx="1254.25" cy="439.77" r="4.6"/>
<circle cx="1174.6" cy="446.87" r="4.6"/>
<circle cx="1187.28" cy="446.37" r="4.6"/>
<circle cx="1194.38" cy="445.86" r="4.6"/>
<circle cx="1200.98" cy="443.32" r="4.6"/>
<circle cx="1201.99" cy="446.87" r="4.6"/>
<circle cx="1210.11" cy="443.32" r="4.6"/>
<circle cx="1217.21" cy="442.31" r="4.6"/>
<circle cx="1212.14" cy="447.89" r="4.6"/>
<circle cx="1296.35" cy="445.86" r="4.6"/>
<circle cx="1178.66" cy="451.95" r="4.6"/>
<circle cx="1196.92" cy="456.51" r="4.6"/>
<circle cx="1201.99" cy="459.56" r="4.6"/>
<circle cx="1180.18" cy="459.56" r="4.6"/>
<circle cx="1310.05" cy="454.48" r="4.6"/>
<circle cx="1194.89" cy="463.77" r="4.6"/>
<circle cx="1216.2" cy="464.07" r="4.6"/>
<circle cx="1234.97" cy="461.74" r="4.6"/>
<circle cx="1246.64" cy="463.77" r="4.6"/>
<circle cx="1255.46" cy="464.28" r="4.6"/>
<circle cx="1264.9" cy="468.13" r="4.6"/>
<circle cx="1278.8" cy="464.58" r="4.6"/>
<circle cx="1289.76" cy="464.28" r="4.6"/>
<circle cx="1172.06" cy="469.35" r="4.6"/>
<circle cx="1175.61" cy="469.35" r="4.6"/>
<circle cx="1196.41" cy="469.86" r="4.6"/>
<circle cx="1200.47" cy="477.47" r="4.6"/>
<circle cx="1197.43" cy="479.5" r="4.6"/>
<circle cx="1292.5" cy="476.45" r="4.6"/>
<circle cx="1287.22" cy="484.57" r="4.6"/>
<circle cx="1180.48" cy="484.06" r="4.6"/>
<circle cx="1164.45" cy="489.64" r="4.6"/>
<circle cx="1194.59" cy="494.21" r="4.6"/>
<circle cx="1226.34" cy="493.7" r="4.6"/>
<circle cx="1245.11" cy="491.98" r="4.6"/>
<circle cx="1252.93" cy="489.34" r="4.6"/>
<circle cx="1182.72" cy="497.76" r="4.6"/>
<circle cx="1189.62" cy="503.14" r="4.6"/>
<circle cx="1215.39" cy="506.69" r="4.6"/>
<circle cx="1210.62" cy="512.47" r="4.6"/>
<circle cx="1209.6" cy="520.08" r="4.6"/>
<circle cx="1228.17" cy="512.47" r="4.6"/>
<circle cx="1237.5" cy="506.08" r="4.6"/>
<circle cx="1257.8" cy="505.98" r="4.6"/>
<circle cx="1288.24" cy="518.25" r="4.6"/>
<circle cx="1176.43" cy="539.66" r="4.6"/>
<circle cx="1230.4" cy="553.87" r="4.6"/>
<circle cx="1267.33" cy="549.5" r="4.6"/>
<circle cx="1294.63" cy="550.01" r="4.6"/>
<circle cx="1253.23" cy="568.28" r="4.6"/>
<circle cx="1322.96" cy="286.41" r="4.6"/>
<circle cx="1324.77" cy="305.15" r="4.6"/>
<circle cx="1360.26" cy="299.75" r="4.6"/>
<circle cx="1380.08" cy="287.86" r="4.6"/>
<circle cx="1420.8" cy="227.32" r="4.6"/>
<circle cx="1441.88" cy="270.56" r="4.6"/>
<circle cx="1428.19" cy="288.04" r="4.6"/>
<circle cx="1450.71" cy="315.78" r="4.6"/>
<circle cx="1516.66" cy="303.89" r="4.6"/>
<circle cx="1316.48" cy="341.37" r="4.6"/>
<circle cx="1331.43" cy="337.59" r="4.6"/>
<circle cx="1386.03" cy="367.86" r="4.6"/>
<circle cx="1396.12" cy="368.94" r="4.6"/>
<circle cx="1394.68" cy="379.39" r="4.6"/>
<circle cx="1404.23" cy="383.89" r="4.6"/>
<circle cx="1409.63" cy="390.56" r="4.6"/>
<circle cx="1367.83" cy="388.22" r="4.6"/>
<circle cx="1357.38" cy="397.05" r="4.6"/>
<circle cx="1383.68" cy="408.4" r="4.6"/>
<circle cx="1411.25" cy="407.5" r="4.6"/>
<circle cx="1529.09" cy="379.21" r="4.6"/>
<circle cx="1544.95" cy="395.42" r="4.6"/>
<circle cx="1609.63" cy="393.98" r="4.6"/>
<circle cx="1587.65" cy="425.51" r="4.6"/>
<circle cx="1318.82" cy="386.23" r="4.6"/>
<circle cx="1316.48" cy="414.7" r="4.6"/>
<circle cx="1321.52" cy="416.86" r="4.6"/>
<circle cx="1341.88" cy="418.85" r="4.6"/>
<circle cx="1349.81" cy="420.29" r="4.6"/>
<circle cx="1322.96" cy="463.69" r="4.6"/>
<circle cx="1333.23" cy="484.95" r="4.6"/>
<circle cx="1389.99" cy="479.19" r="4.6"/>
<circle cx="1374.5" cy="492.7" r="4.6"/>
<circle cx="1476.48" cy="454.5" r="4.6"/>
<circle cx="1364.23" cy="580.09" r="4.6"/>
<circle cx="1385.31" cy="599.37" r="4.6"/>
<circle cx="1212.63" cy="257.84" r="4.6"/>
<circle cx="1184.13" cy="295.83" r="4.6"/>
<circle cx="1181.12" cy="287.36" r="4.6"/>
<circle cx="1189.57" cy="280.61" r="4.6"/>
<circle cx="1177.74" cy="346.49" r="4.6"/>
<circle cx="1172.68" cy="356.62" r="4.6"/>
<circle cx="1201.39" cy="338.04" r="4.6"/>
<circle cx="1164.23" cy="262.03" r="4.6"/>
<circle cx="1159.16" cy="268.78" r="4.6"/>
<circle cx="1204.77" cy="258.65" r="4.6"/>
</g>
<path d="M1144,285.5C1150,288.08 1167.33,295.67 1180,301C1192.67,306.33 1206.67,312.17 1220,317.5C1233.33,322.83 1246.67,328.17 1260,333C1273.33,337.83 1285,341.75 1300,346.5C1315,351.25 1333.33,356.83 1350,361.5C1366.67,366.17 1383.33,370.17 1400,374.5C1416.67,378.83 1433.33,383.25 1450,387.5C1466.67,391.75 1483.33,395.83 1500,400C1516.67,404.17 1531.72,408 1550,412.5C1568.28,417 1599.75,424.58 1609.7,427L1609.7,518.7C1599.75,513.92 1568.28,498.78 1550,490C1531.72,481.22 1516.67,474.08 1500,466C1483.33,457.92 1466.67,449.67 1450,441.5C1433.33,433.33 1416.67,425.17 1400,417C1383.33,408.83 1366.67,400.58 1350,392.5C1333.33,384.42 1315,375.5 1300,368.5C1285,361.5 1273.33,356.17 1260,350.5C1246.67,344.83 1233.33,339.58 1220,334.5C1206.67,329.42 1192.67,324.33 1180,320C1167.33,315.67 1150,310.42 1144,308.5Z" fill="#999" fill-opacity="0.4"/>
<line x1="1144" y1="297" x2="1609.7" y2="473" stroke="#2f62ff" stroke-width="3.8"/>
<text x="1145" y="151.8" font-size="20.75" text-anchor="start" fill="#000"><tspan font-style="italic">R</tspan> = −0.31, <tspan font-style="italic">p</tspan> = 7.7e−12</text>
<rect x="1121.25" y="106.5" width="511.5" height="515.5" fill="none" stroke="#333" stroke-width="1.45"/>
<g stroke="#333" stroke-width="1.9">
<line x1="1132.75" y1="622" x2="1132.75" y2="627.5"/>
<line x1="1277.75" y1="622" x2="1277.75" y2="627.5"/>
<line x1="1422.75" y1="622" x2="1422.75" y2="627.5"/>
<line x1="1567.75" y1="622" x2="1567.75" y2="627.5"/>
<line x1="1115.75" y1="151.8" x2="1121.25" y2="151.8"/>
<line x1="1115.75" y1="265.6" x2="1121.25" y2="265.6"/>
<line x1="1115.75" y1="379.4" x2="1121.25" y2="379.4"/>
<line x1="1115.75" y1="493.2" x2="1121.25" y2="493.2"/>
<line x1="1115.75" y1="607" x2="1121.25" y2="607"/>
</g>
<text x="1132.75" y="644.6" font-size="17.0" text-anchor="middle" fill="#4d4d4d">0</text>
<text x="1277.75" y="644.6" font-size="17.0" text-anchor="middle" fill="#4d4d4d">2</text>
<text x="1422.75" y="644.6" font-size="17.0" text-anchor="middle" fill="#4d4d4d">4</text>
<text x="1567.75" y="644.6" font-size="17.0" text-anchor="middle" fill="#4d4d4d">6</text>
<text x="1111.25" y="158.2" font-size="17.0" text-anchor="end" fill="#4d4d4d">3000</text>
<text x="1111.25" y="272" font-size="17.0" text-anchor="end" fill="#4d4d4d">2000</text>
<text x="1111.25" y="385.8" font-size="17.0" text-anchor="end" fill="#4d4d4d">1000</text>
<text x="1111.25" y="499.6" font-size="17.0" text-anchor="end" fill="#4d4d4d">0</text>
<text x="1111.25" y="613.4" font-size="17.0" text-anchor="end" fill="#4d4d4d">−1000</text>
<text x="1377" y="667.5" font-size="21" text-anchor="middle" fill="#000">Risk score</text>
<text transform="translate(1053,364.25) rotate(-90)" font-size="21" text-anchor="middle" fill="#000">ImmuneScore</text>
<path d="M1144.12,78.86C1145.2,75.97 1148.35,67.48 1150.6,61.54C1152.85,55.61 1155.29,48.88 1157.64,43.25C1159.98,37.61 1162.33,32.1 1164.68,27.76C1167.02,23.42 1169.37,20.02 1171.71,17.2C1174.06,14.39 1176.41,12.39 1178.75,10.87C1181.1,9.34 1183.68,8.64 1185.79,8.05C1187.9,7.47 1189.54,7.3 1191.42,7.35C1193.3,7.4 1195.18,7.56 1197.05,8.34C1198.93,9.11 1200.81,10.4 1202.68,12C1204.56,13.59 1206.44,15.63 1208.31,17.91C1210.19,20.18 1211.83,22.72 1213.94,25.65C1216.06,28.58 1218.64,32.22 1220.98,35.5C1223.33,38.79 1225.67,42.19 1228.02,45.36C1230.37,48.52 1232.71,51.69 1235.06,54.51C1237.41,57.32 1239.75,60.02 1242.1,62.25C1244.44,64.48 1246.79,66.47 1249.14,67.88C1251.48,69.29 1253.59,69.92 1256.17,70.69C1258.75,71.47 1261.8,71.89 1264.62,72.52C1267.44,73.16 1270.25,73.74 1273.07,74.5C1275.88,75.25 1278.7,76.09 1281.51,77.03C1284.33,77.97 1287.14,79.07 1289.96,80.13C1292.77,81.18 1295.59,82.28 1298.4,83.36C1301.22,84.44 1304.03,85.55 1306.85,86.6C1309.66,87.66 1312.48,88.64 1315.3,89.7C1318.11,90.75 1320.93,91.95 1323.74,92.94C1326.56,93.92 1329.37,94.91 1332.19,95.61C1335,96.31 1337.82,96.83 1340.63,97.16C1343.45,97.49 1346.26,97.56 1349.08,97.58C1351.89,97.6 1354.24,97.49 1357.53,97.3C1360.81,97.11 1365.62,96.68 1368.79,96.45C1371.95,96.23 1373.59,96.06 1376.52,95.93C1379.45,95.79 1382.39,95.55 1386.38,95.64C1390.36,95.74 1395.06,95.97 1400.45,96.49C1405.85,97 1412.89,98.22 1418.75,98.74C1424.62,99.26 1429.31,99.35 1435.64,99.59C1441.98,99.82 1447.14,99.96 1456.76,100.15C1466.38,100.34 1481.63,100.76 1493.36,100.71C1505.09,100.66 1514.94,99.84 1527.14,99.87C1539.34,99.89 1556,100.81 1566.56,100.85C1577.11,100.9 1583.38,100.24 1590.49,100.15C1597.6,100.05 1606.09,100.27 1609.21,100.29L1609.21,101.2L1144.12,101.2Z" fill="#ffa500"/>
<path d="M1144.12,78.86C1145.2,75.97 1148.35,67.48 1150.6,61.54C1152.85,55.61 1155.29,48.88 1157.64,43.25C1159.98,37.61 1162.33,32.1 1164.68,27.76C1167.02,23.42 1169.37,20.02 1171.71,17.2C1174.06,14.39 1176.41,12.39 1178.75,10.87C1181.1,9.34 1183.68,8.64 1185.79,8.05C1187.9,7.47 1189.54,7.3 1191.42,7.35C1193.3,7.4 1195.18,7.56 1197.05,8.34C1198.93,9.11 1200.81,10.4 1202.68,12C1204.56,13.59 1206.44,15.63 1208.31,17.91C1210.19,20.18 1211.83,22.72 1213.94,25.65C1216.06,28.58 1218.64,32.22 1220.98,35.5C1223.33,38.79 1225.67,42.19 1228.02,45.36C1230.37,48.52 1232.71,51.69 1235.06,54.51C1237.41,57.32 1239.75,60.02 1242.1,62.25C1244.44,64.48 1246.79,66.47 1249.14,67.88C1251.48,69.29 1253.59,69.92 1256.17,70.69C1258.75,71.47 1261.8,71.89 1264.62,72.52C1267.44,73.16 1270.25,73.74 1273.07,74.5C1275.88,75.25 1278.7,76.09 1281.51,77.03C1284.33,77.97 1287.14,79.07 1289.96,80.13C1292.77,81.18 1295.59,82.28 1298.4,83.36C1301.22,84.44 1304.03,85.55 1306.85,86.6C1309.66,87.66 1312.48,88.64 1315.3,89.7C1318.11,90.75 1320.93,91.95 1323.74,92.94C1326.56,93.92 1329.37,94.91 1332.19,95.61C1335,96.31 1337.82,96.83 1340.63,97.16C1343.45,97.49 1346.26,97.56 1349.08,97.58C1351.89,97.6 1354.24,97.49 1357.53,97.3C1360.81,97.11 1365.62,96.68 1368.79,96.45C1371.95,96.23 1373.59,96.06 1376.52,95.93C1379.45,95.79 1382.39,95.55 1386.38,95.64C1390.36,95.74 1395.06,95.97 1400.45,96.49C1405.85,97 1412.89,98.22 1418.75,98.74C1424.62,99.26 1429.31,99.35 1435.64,99.59C1441.98,99.82 1447.14,99.96 1456.76,100.15C1466.38,100.34 1481.63,100.76 1493.36,100.71C1505.09,100.66 1514.94,99.84 1527.14,99.87C1539.34,99.89 1556,100.81 1566.56,100.85C1577.11,100.9 1583.38,100.24 1590.49,100.15C1597.6,100.05 1606.09,100.27 1609.21,100.29" fill="none" stroke="#000" stroke-width="1.9" stroke-linejoin="round"/>
<path d="M1645.75,129.5C1647.21,132.92 1651.38,142.83 1654.5,150C1657.62,157.17 1661.17,165.42 1664.5,172.5C1667.83,179.58 1670.75,185.83 1674.5,192.5C1678.25,199.17 1682.42,206.04 1687,212.5C1691.58,218.96 1697.42,225.42 1702,231.25C1706.58,237.08 1710.96,241.88 1714.5,247.5C1718.04,253.12 1720.96,259.17 1723.25,265C1725.54,270.83 1727,276.67 1728.25,282.5C1729.5,288.33 1730.46,293.75 1730.75,300C1731.04,306.25 1730.62,313.33 1730,320C1729.38,326.67 1727.92,335 1727,340C1726.08,345 1726.17,345.42 1724.5,350C1722.83,354.58 1720.33,361.25 1717,367.5C1713.67,373.75 1708.67,380.83 1704.5,387.5C1700.33,394.17 1695.54,401.25 1692,407.5C1688.46,413.75 1685.54,418.75 1683.25,425C1680.96,431.25 1680.12,437.92 1678.25,445C1676.38,452.08 1674.71,460 1672,467.5C1669.29,475 1665.33,482.5 1662,490C1658.67,497.5 1654.58,505.42 1652,512.5C1649.42,519.58 1647.96,525.42 1646.5,532.5C1645.04,539.58 1644.08,547.92 1643.25,555C1642.42,562.08 1642,567.62 1641.5,575C1641,582.38 1640.46,595.21 1640.25,599.25L1637.7,599.25L1637.7,129.5Z" fill="#2200ff"/>
<path d="M1645.75,129.5C1647.21,132.92 1651.38,142.83 1654.5,150C1657.62,157.17 1661.17,165.42 1664.5,172.5C1667.83,179.58 1670.75,185.83 1674.5,192.5C1678.25,199.17 1682.42,206.04 1687,212.5C1691.58,218.96 1697.42,225.42 1702,231.25C1706.58,237.08 1710.96,241.88 1714.5,247.5C1718.04,253.12 1720.96,259.17 1723.25,265C1725.54,270.83 1727,276.67 1728.25,282.5C1729.5,288.33 1730.46,293.75 1730.75,300C1731.04,306.25 1730.62,313.33 1730,320C1729.38,326.67 1727.92,335 1727,340C1726.08,345 1726.17,345.42 1724.5,350C1722.83,354.58 1720.33,361.25 1717,367.5C1713.67,373.75 1708.67,380.83 1704.5,387.5C1700.33,394.17 1695.54,401.25 1692,407.5C1688.46,413.75 1685.54,418.75 1683.25,425C1680.96,431.25 1680.12,437.92 1678.25,445C1676.38,452.08 1674.71,460 1672,467.5C1669.29,475 1665.33,482.5 1662,490C1658.67,497.5 1654.58,505.42 1652,512.5C1649.42,519.58 1647.96,525.42 1646.5,532.5C1645.04,539.58 1644.08,547.92 1643.25,555C1642.42,562.08 1642,567.62 1641.5,575C1641,582.38 1640.46,595.21 1640.25,599.25" fill="none" stroke="#000" stroke-width="1.9" stroke-linejoin="round"/>
<text transform="translate(1009.5,74.3) scale(1,1.045)" font-size="45" fill="#000">B</text>
<path d="M204.5,867.21C204.5,867.71 204.51,869.2 204.51,870.2C204.51,871.19 204.52,872.19 204.52,873.19C204.53,874.18 204.52,875.18 204.54,876.18C204.57,877.18 204.62,878.17 204.7,879.17C204.77,880.17 204.9,881.16 205.01,882.16C205.13,883.16 205.23,884.15 205.37,885.15C205.5,886.15 205.65,887.14 205.84,888.14C206.02,889.14 206.25,890.13 206.47,891.13C206.68,892.13 206.9,893.12 207.12,894.12C207.35,895.12 207.58,896.12 207.82,897.11C208.06,898.11 208.31,899.11 208.56,900.1C208.81,901.1 209.07,902.1 209.31,903.09C209.54,904.09 209.77,905.09 209.96,906.08C210.16,907.08 210.32,908.08 210.49,909.07C210.67,910.07 210.83,911.07 211.01,912.06C211.19,913.06 211.34,914.06 211.57,915.05C211.8,916.05 212.1,917.05 212.4,918.05C212.71,919.04 213.06,920.04 213.4,921.04C213.73,922.03 214.02,923.03 214.42,924.03C214.83,925.02 215.23,926.02 215.84,927.02C216.45,928.01 217.3,929.01 218.09,930.01C218.88,931 219.74,932 220.58,933C221.42,933.99 222.22,934.99 223.12,935.99C224.02,936.98 224.98,937.98 225.99,938.98C227,939.98 228.12,940.97 229.2,941.97C230.27,942.97 231.35,943.96 232.44,944.96C233.53,945.96 234.54,946.95 235.73,947.95C236.92,948.95 238.15,949.94 239.58,950.94C241.01,951.94 242.71,952.93 244.32,953.93C245.92,954.93 247.58,955.92 249.22,956.92C250.85,957.92 252.49,958.92 254.12,959.91C255.76,960.91 257.39,961.91 259.03,962.9C260.66,963.9 262.31,964.9 263.92,965.89C265.54,966.89 267.16,967.89 268.74,968.88C270.32,969.88 271.89,970.88 273.42,971.87C274.95,972.87 276.6,973.87 277.95,974.86C279.29,975.86 280.45,976.86 281.48,977.85C282.51,978.85 283.27,979.85 284.13,980.85C284.99,981.84 285.88,982.84 286.66,983.84C287.44,984.83 288.2,985.83 288.81,986.83C289.41,987.82 289.8,988.82 290.28,989.82C290.76,990.81 291.13,991.81 291.67,992.81C292.21,993.8 292.83,994.8 293.52,995.8C294.22,996.79 295.05,997.79 295.82,998.79C296.6,999.78 297.38,1000.78 298.17,1001.78C298.95,1002.78 299.73,1003.77 300.52,1004.77C301.3,1005.77 302.1,1006.76 302.89,1007.76C303.68,1008.76 304.5,1009.75 305.28,1010.75C306.06,1011.75 306.91,1012.74 307.58,1013.74C308.25,1014.74 308.86,1015.73 309.3,1016.73C309.74,1017.73 310.15,1018.72 310.24,1019.72C310.32,1020.72 310.08,1021.72 309.82,1022.71C309.56,1023.71 309.09,1024.71 308.67,1025.7C308.24,1026.7 307.88,1027.7 307.27,1028.69C306.66,1029.69 305.85,1030.69 305.02,1031.68C304.19,1032.68 303.2,1033.68 302.28,1034.67C301.36,1035.67 300.43,1036.67 299.5,1037.66C298.57,1038.66 297.67,1039.66 296.67,1040.65C295.67,1041.65 294.61,1042.65 293.5,1043.65C292.39,1044.64 291.18,1045.64 290.02,1046.64C288.85,1047.63 287.68,1048.63 286.5,1049.63C285.31,1050.62 284.2,1051.62 282.92,1052.62C281.63,1053.61 280.26,1054.61 278.78,1055.61C277.3,1056.6 275.63,1057.6 274.04,1058.6C272.44,1059.59 270.83,1060.59 269.22,1061.59C267.6,1062.58 266,1063.58 264.37,1064.58C262.75,1065.58 261.1,1066.57 259.45,1067.57C257.8,1068.57 256.13,1069.56 254.47,1070.56C252.81,1071.56 251.11,1072.55 249.5,1073.55C247.89,1074.55 246.27,1075.54 244.82,1076.54C243.38,1077.54 242.13,1078.53 240.83,1079.53C239.53,1080.53 238.27,1081.52 237.02,1082.52C235.77,1083.52 234.48,1084.52 233.32,1085.51C232.16,1086.51 231.11,1087.51 230.07,1088.5C229.02,1089.5 228.05,1090.5 227.06,1091.49C226.08,1092.49 225.06,1093.49 224.15,1094.48C223.24,1095.48 222.42,1096.48 221.6,1097.47C220.79,1098.47 220.02,1099.47 219.26,1100.46C218.49,1101.46 217.69,1102.46 217,1103.45C216.3,1104.45 215.69,1105.45 215.09,1106.45C214.49,1107.44 213.94,1108.44 213.39,1109.44C212.84,1110.43 212.25,1111.43 211.8,1112.43C211.35,1113.42 211.01,1114.42 210.68,1115.42C210.36,1116.41 210.1,1117.41 209.85,1118.41C209.6,1119.4 209.34,1120.4 209.19,1121.4C209.03,1122.39 209,1123.39 208.93,1124.39C208.87,1125.38 208.84,1126.38 208.81,1127.38C208.78,1128.38 208.74,1129.37 208.75,1130.37C208.76,1131.37 208.83,1132.36 208.88,1133.36C208.93,1134.36 209.02,1135.35 209.06,1136.35C209.1,1137.35 209.16,1138.34 209.12,1139.34C209.09,1140.34 208.97,1141.33 208.86,1142.33C208.75,1143.33 208.62,1144.32 208.48,1145.32C208.35,1146.32 208.22,1147.32 208.05,1148.31C207.88,1149.31 207.67,1150.31 207.46,1151.3C207.26,1152.3 207.03,1153.3 206.82,1154.29C206.62,1155.29 206.4,1156.29 206.23,1157.28C206.06,1158.28 205.93,1159.28 205.79,1160.27C205.65,1161.27 205.53,1162.27 205.4,1163.26C205.27,1164.26 205.13,1165.26 205.01,1166.25C204.89,1167.25 204.75,1168.25 204.67,1169.25C204.59,1170.24 204.56,1171.24 204.54,1172.24C204.51,1173.23 204.53,1174.23 204.52,1175.23C204.52,1176.22 204.52,1177.22 204.51,1178.22C204.51,1179.21 204.5,1180.71 204.5,1181.21L204.49,1178.22C204.49,1177.72 204.48,1176.22 204.48,1175.23C204.47,1174.23 204.49,1173.23 204.46,1172.24C204.44,1171.24 204.41,1170.24 204.33,1169.25C204.25,1168.25 204.11,1167.25 203.99,1166.25C203.87,1165.26 203.73,1164.26 203.6,1163.26C203.47,1162.27 203.35,1161.27 203.21,1160.27C203.07,1159.28 202.94,1158.28 202.77,1157.28C202.6,1156.29 202.38,1155.29 202.18,1154.29C201.97,1153.3 201.74,1152.3 201.54,1151.3C201.33,1150.31 201.12,1149.31 200.95,1148.31C200.78,1147.32 200.65,1146.32 200.52,1145.32C200.38,1144.32 200.25,1143.33 200.14,1142.33C200.03,1141.33 199.91,1140.34 199.88,1139.34C199.84,1138.34 199.9,1137.35 199.94,1136.35C199.98,1135.35 200.07,1134.36 200.12,1133.36C200.17,1132.36 200.24,1131.37 200.25,1130.37C200.26,1129.37 200.22,1128.38 200.19,1127.38C200.16,1126.38 200.13,1125.38 200.07,1124.39C200,1123.39 199.97,1122.39 199.81,1121.4C199.66,1120.4 199.4,1119.4 199.15,1118.41C198.9,1117.41 198.64,1116.41 198.32,1115.42C197.99,1114.42 197.65,1113.42 197.2,1112.43C196.75,1111.43 196.16,1110.43 195.61,1109.44C195.06,1108.44 194.51,1107.44 193.91,1106.45C193.31,1105.45 192.7,1104.45 192,1103.45C191.31,1102.46 190.51,1101.46 189.74,1100.46C188.98,1099.47 188.21,1098.47 187.4,1097.47C186.58,1096.48 185.76,1095.48 184.85,1094.48C183.94,1093.49 182.92,1092.49 181.94,1091.49C180.95,1090.5 179.98,1089.5 178.93,1088.5C177.89,1087.51 176.84,1086.51 175.68,1085.51C174.52,1084.52 173.23,1083.52 171.98,1082.52C170.73,1081.52 169.47,1080.53 168.17,1079.53C166.87,1078.53 165.62,1077.54 164.18,1076.54C162.73,1075.54 161.11,1074.55 159.5,1073.55C157.89,1072.55 156.19,1071.56 154.53,1070.56C152.87,1069.56 151.2,1068.57 149.55,1067.57C147.9,1066.57 146.25,1065.58 144.63,1064.58C143,1063.58 141.4,1062.58 139.78,1061.59C138.17,1060.59 136.56,1059.59 134.96,1058.6C133.37,1057.6 131.7,1056.6 130.22,1055.61C128.74,1054.61 127.37,1053.61 126.08,1052.62C124.8,1051.62 123.69,1050.62 122.5,1049.63C121.32,1048.63 120.15,1047.63 118.98,1046.64C117.82,1045.64 116.61,1044.64 115.5,1043.65C114.39,1042.65 113.33,1041.65 112.33,1040.65C111.33,1039.66 110.43,1038.66 109.5,1037.66C108.57,1036.67 107.64,1035.67 106.72,1034.67C105.8,1033.68 104.81,1032.68 103.98,1031.68C103.15,1030.69 102.34,1029.69 101.73,1028.69C101.12,1027.7 100.76,1026.7 100.33,1025.7C99.91,1024.71 99.44,1023.71 99.18,1022.71C98.92,1021.72 98.68,1020.72 98.76,1019.72C98.85,1018.72 99.26,1017.73 99.7,1016.73C100.14,1015.73 100.75,1014.74 101.42,1013.74C102.09,1012.74 102.94,1011.75 103.72,1010.75C104.5,1009.75 105.32,1008.76 106.11,1007.76C106.9,1006.76 107.7,1005.77 108.48,1004.77C109.27,1003.77 110.05,1002.78 110.83,1001.78C111.62,1000.78 112.4,999.78 113.18,998.79C113.95,997.79 114.78,996.79 115.48,995.8C116.17,994.8 116.79,993.8 117.33,992.81C117.87,991.81 118.24,990.81 118.72,989.82C119.2,988.82 119.59,987.82 120.19,986.83C120.8,985.83 121.56,984.83 122.34,983.84C123.12,982.84 124.01,981.84 124.87,980.85C125.73,979.85 126.49,978.85 127.52,977.85C128.55,976.86 129.71,975.86 131.05,974.86C132.4,973.87 134.05,972.87 135.58,971.87C137.11,970.88 138.68,969.88 140.26,968.88C141.84,967.89 143.46,966.89 145.08,965.89C146.69,964.9 148.34,963.9 149.97,962.9C151.61,961.91 153.24,960.91 154.88,959.91C156.51,958.92 158.15,957.92 159.78,956.92C161.42,955.92 163.08,954.93 164.68,953.93C166.29,952.93 167.99,951.94 169.42,950.94C170.85,949.94 172.08,948.95 173.27,947.95C174.46,946.95 175.47,945.96 176.56,944.96C177.65,943.96 178.73,942.97 179.8,941.97C180.88,940.97 182,939.98 183.01,938.98C184.02,937.98 184.98,936.98 185.88,935.99C186.78,934.99 187.58,933.99 188.42,933C189.26,932 190.12,931 190.91,930.01C191.7,929.01 192.55,928.01 193.16,927.02C193.77,926.02 194.17,925.02 194.58,924.03C194.98,923.03 195.27,922.03 195.6,921.04C195.94,920.04 196.29,919.04 196.6,918.05C196.9,917.05 197.2,916.05 197.43,915.05C197.66,914.06 197.81,913.06 197.99,912.06C198.17,911.07 198.33,910.07 198.51,909.07C198.68,908.08 198.84,907.08 199.04,906.08C199.23,905.09 199.46,904.09 199.69,903.09C199.93,902.1 200.19,901.1 200.44,900.1C200.69,899.11 200.94,898.11 201.18,897.11C201.42,896.12 201.65,895.12 201.88,894.12C202.1,893.12 202.32,892.13 202.53,891.13C202.75,890.13 202.98,889.14 203.16,888.14C203.35,887.14 203.5,886.15 203.63,885.15C203.77,884.15 203.87,883.16 203.99,882.16C204.1,881.16 204.23,880.17 204.3,879.17C204.38,878.17 204.43,877.18 204.46,876.18C204.48,875.18 204.47,874.18 204.48,873.19C204.48,872.19 204.49,871.19 204.49,870.2C204.49,869.2 204.5,867.71 204.5,867.21Z" fill="#0066ff" stroke="#000" stroke-width="1.35" stroke-linejoin="round"/>
<path d="M416.4,851.16C416.4,851.66 416.41,853.16 416.41,854.15C416.41,855.15 416.42,856.15 416.42,857.14C416.43,858.14 416.43,859.14 416.43,860.14C416.44,861.13 416.44,862.13 416.44,863.13C416.45,864.12 416.45,865.12 416.45,866.12C416.46,867.12 416.46,868.11 416.47,869.11C416.47,870.11 416.46,871.1 416.49,872.1C416.51,873.1 416.54,874.09 416.6,875.09C416.66,876.09 416.76,877.09 416.84,878.08C416.92,879.08 417.01,880.08 417.1,881.07C417.18,882.07 417.27,883.07 417.35,884.07C417.44,885.06 417.51,886.06 417.61,887.06C417.71,888.05 417.81,889.05 417.94,890.05C418.06,891.05 418.23,892.04 418.38,893.04C418.53,894.04 418.68,895.03 418.84,896.03C418.99,897.03 419.14,898.02 419.3,899.02C419.47,900.02 419.61,901.02 419.82,902.01C420.03,903.01 420.31,904.01 420.59,905C420.87,906 421.2,907 421.5,908C421.81,908.99 422.11,909.99 422.44,910.99C422.76,911.98 423.06,912.98 423.46,913.98C423.85,914.98 424.33,915.97 424.81,916.97C425.29,917.97 425.81,918.96 426.31,919.96C426.81,920.96 427.3,921.95 427.82,922.95C428.35,923.95 428.86,924.95 429.47,925.94C430.08,926.94 430.79,927.94 431.48,928.93C432.17,929.93 432.9,930.93 433.62,931.93C434.33,932.92 435.04,933.92 435.76,934.92C436.47,935.91 437.16,936.91 437.93,937.91C438.7,938.9 439.52,939.9 440.39,940.9C441.25,941.9 442.2,942.89 443.11,943.89C444.03,944.89 444.95,945.88 445.88,946.88C446.8,947.88 447.69,948.88 448.66,949.87C449.63,950.87 450.63,951.87 451.71,952.86C452.79,953.86 453.98,954.86 455.13,955.86C456.28,956.85 457.44,957.85 458.62,958.85C459.79,959.84 460.9,960.84 462.17,961.84C463.45,962.83 464.82,963.83 466.29,964.83C467.76,965.83 469.41,966.82 470.99,967.82C472.57,968.82 474.18,969.81 475.78,970.81C477.37,971.81 478.97,972.81 480.56,973.8C482.16,974.8 483.76,975.8 485.35,976.79C486.94,977.79 488.58,978.79 490.12,979.78C491.66,980.78 493.22,981.78 494.57,982.78C495.91,983.77 497.03,984.77 498.19,985.77C499.34,986.76 500.47,987.76 501.5,988.76C502.53,989.76 503.56,990.75 504.35,991.75C505.15,992.75 505.69,993.74 506.28,994.74C506.87,995.74 507.46,996.74 507.91,997.73C508.37,998.73 508.8,999.73 509.01,1000.72C509.23,1001.72 509.21,1002.72 509.2,1003.71C509.19,1004.71 509.15,1005.71 508.95,1006.71C508.74,1007.7 508.35,1008.7 507.98,1009.7C507.61,1010.69 507.16,1011.69 506.75,1012.69C506.33,1013.69 505.96,1014.68 505.48,1015.68C505.01,1016.68 504.54,1017.67 503.89,1018.67C503.25,1019.67 502.4,1020.67 501.6,1021.66C500.81,1022.66 499.95,1023.66 499.12,1024.65C498.29,1025.65 497.44,1026.65 496.64,1027.64C495.84,1028.64 495.05,1029.64 494.32,1030.64C493.59,1031.63 492.94,1032.63 492.27,1033.63C491.59,1034.62 490.93,1035.62 490.27,1036.62C489.62,1037.62 488.89,1038.61 488.33,1039.61C487.76,1040.61 487.26,1041.6 486.88,1042.6C486.49,1043.6 486.3,1044.59 486.03,1045.59C485.76,1046.59 485.53,1047.59 485.28,1048.58C485.03,1049.58 484.79,1050.58 484.53,1051.57C484.27,1052.57 484,1053.57 483.72,1054.57C483.45,1055.56 483.16,1056.56 482.87,1057.56C482.59,1058.55 482.31,1059.55 482.02,1060.55C481.73,1061.55 481.49,1062.54 481.15,1063.54C480.81,1064.54 480.49,1065.53 479.95,1066.53C479.41,1067.53 478.64,1068.52 477.91,1069.52C477.18,1070.52 476.35,1071.52 475.57,1072.51C474.79,1073.51 474.02,1074.51 473.22,1075.5C472.42,1076.5 471.7,1077.5 470.79,1078.5C469.88,1079.49 468.86,1080.49 467.76,1081.49C466.65,1082.48 465.36,1083.48 464.15,1084.48C462.93,1085.48 461.69,1086.47 460.46,1087.47C459.24,1088.47 458.01,1089.46 456.78,1090.46C455.56,1091.46 454.33,1092.45 453.1,1093.45C451.87,1094.45 450.65,1095.45 449.42,1096.44C448.19,1097.44 446.96,1098.44 445.74,1099.43C444.51,1100.43 443.24,1101.43 442.07,1102.43C440.91,1103.42 439.74,1104.42 438.74,1105.42C437.73,1106.41 436.92,1107.41 436.06,1108.41C435.2,1109.4 434.39,1110.4 433.56,1111.4C432.74,1112.4 431.85,1113.39 431.1,1114.39C430.35,1115.39 429.64,1116.38 429.07,1117.38C428.5,1118.38 428.12,1119.38 427.68,1120.37C427.24,1121.37 426.84,1122.37 426.42,1123.36C426.01,1124.36 425.56,1125.36 425.19,1126.36C424.82,1127.35 424.49,1128.35 424.21,1129.35C423.93,1130.34 423.74,1131.34 423.51,1132.34C423.29,1133.33 423.08,1134.33 422.86,1135.33C422.64,1136.33 422.42,1137.32 422.2,1138.32C421.99,1139.32 421.77,1140.31 421.57,1141.31C421.37,1142.31 421.18,1143.31 421,1144.3C420.81,1145.3 420.64,1146.3 420.46,1147.29C420.28,1148.29 420.1,1149.29 419.92,1150.28C419.74,1151.28 419.55,1152.28 419.38,1153.28C419.22,1154.27 419.06,1155.27 418.92,1156.27C418.78,1157.26 418.66,1158.26 418.54,1159.26C418.42,1160.26 418.29,1161.25 418.17,1162.25C418.05,1163.25 417.93,1164.24 417.8,1165.24C417.68,1166.24 417.55,1167.24 417.44,1168.23C417.32,1169.23 417.18,1170.23 417.09,1171.22C417,1172.22 416.94,1173.22 416.89,1174.21C416.84,1175.21 416.83,1176.21 416.8,1177.21C416.77,1178.2 416.75,1179.2 416.72,1180.2C416.7,1181.19 416.67,1182.19 416.65,1183.19C416.62,1184.19 416.59,1185.18 416.57,1186.18C416.54,1187.18 416.52,1188.17 416.49,1189.17C416.46,1190.17 416.41,1191.66 416.4,1192.16L416.31,1189.17C416.3,1188.67 416.26,1187.18 416.23,1186.18C416.21,1185.18 416.18,1184.19 416.15,1183.19C416.13,1182.19 416.1,1181.19 416.08,1180.2C416.05,1179.2 416.03,1178.2 416,1177.21C415.97,1176.21 415.96,1175.21 415.91,1174.21C415.86,1173.22 415.8,1172.22 415.71,1171.22C415.62,1170.23 415.48,1169.23 415.36,1168.23C415.25,1167.24 415.12,1166.24 415,1165.24C414.87,1164.24 414.75,1163.25 414.63,1162.25C414.51,1161.25 414.38,1160.26 414.26,1159.26C414.14,1158.26 414.02,1157.26 413.88,1156.27C413.74,1155.27 413.58,1154.27 413.42,1153.28C413.25,1152.28 413.06,1151.28 412.88,1150.28C412.7,1149.29 412.52,1148.29 412.34,1147.29C412.16,1146.3 411.99,1145.3 411.8,1144.3C411.62,1143.31 411.43,1142.31 411.23,1141.31C411.03,1140.31 410.81,1139.32 410.6,1138.32C410.38,1137.32 410.16,1136.33 409.94,1135.33C409.72,1134.33 409.51,1133.33 409.29,1132.34C409.06,1131.34 408.87,1130.34 408.59,1129.35C408.31,1128.35 407.98,1127.35 407.61,1126.36C407.24,1125.36 406.79,1124.36 406.38,1123.36C405.96,1122.37 405.56,1121.37 405.12,1120.37C404.68,1119.38 404.3,1118.38 403.73,1117.38C403.16,1116.38 402.45,1115.39 401.7,1114.39C400.95,1113.39 400.06,1112.4 399.24,1111.4C398.41,1110.4 397.6,1109.4 396.74,1108.41C395.88,1107.41 395.07,1106.41 394.06,1105.42C393.06,1104.42 391.89,1103.42 390.73,1102.43C389.56,1101.43 388.29,1100.43 387.06,1099.43C385.84,1098.44 384.61,1097.44 383.38,1096.44C382.15,1095.45 380.93,1094.45 379.7,1093.45C378.47,1092.45 377.24,1091.46 376.02,1090.46C374.79,1089.46 373.56,1088.47 372.34,1087.47C371.11,1086.47 369.87,1085.48 368.65,1084.48C367.44,1083.48 366.15,1082.48 365.04,1081.49C363.94,1080.49 362.92,1079.49 362.01,1078.5C361.1,1077.5 360.38,1076.5 359.58,1075.5C358.78,1074.51 358.01,1073.51 357.23,1072.51C356.45,1071.52 355.62,1070.52 354.89,1069.52C354.16,1068.52 353.39,1067.53 352.85,1066.53C352.31,1065.53 351.99,1064.54 351.65,1063.54C351.31,1062.54 351.07,1061.55 350.78,1060.55C350.49,1059.55 350.21,1058.55 349.93,1057.56C349.64,1056.56 349.35,1055.56 349.08,1054.57C348.8,1053.57 348.53,1052.57 348.27,1051.57C348.01,1050.58 347.77,1049.58 347.52,1048.58C347.27,1047.59 347.04,1046.59 346.77,1045.59C346.5,1044.59 346.31,1043.6 345.92,1042.6C345.54,1041.6 345.04,1040.61 344.47,1039.61C343.91,1038.61 343.18,1037.62 342.53,1036.62C341.87,1035.62 341.21,1034.62 340.53,1033.63C339.86,1032.63 339.21,1031.63 338.48,1030.64C337.75,1029.64 336.96,1028.64 336.16,1027.64C335.36,1026.65 334.51,1025.65 333.68,1024.65C332.85,1023.66 331.99,1022.66 331.2,1021.66C330.4,1020.67 329.55,1019.67 328.91,1018.67C328.26,1017.67 327.79,1016.68 327.32,1015.68C326.84,1014.68 326.47,1013.69 326.05,1012.69C325.64,1011.69 325.19,1010.69 324.82,1009.7C324.45,1008.7 324.06,1007.7 323.85,1006.71C323.65,1005.71 323.61,1004.71 323.6,1003.71C323.59,1002.72 323.57,1001.72 323.79,1000.72C324,999.73 324.43,998.73 324.89,997.73C325.34,996.74 325.93,995.74 326.52,994.74C327.11,993.74 327.65,992.75 328.45,991.75C329.24,990.75 330.27,989.76 331.3,988.76C332.33,987.76 333.46,986.76 334.61,985.77C335.77,984.77 336.89,983.77 338.23,982.78C339.58,981.78 341.14,980.78 342.68,979.78C344.22,978.79 345.86,977.79 347.45,976.79C349.04,975.8 350.64,974.8 352.24,973.8C353.83,972.81 355.43,971.81 357.02,970.81C358.62,969.81 360.23,968.82 361.81,967.82C363.39,966.82 365.04,965.83 366.51,964.83C367.98,963.83 369.35,962.83 370.63,961.84C371.9,960.84 373.01,959.84 374.18,958.85C375.36,957.85 376.52,956.85 377.67,955.86C378.82,954.86 380.01,953.86 381.09,952.86C382.17,951.87 383.17,950.87 384.14,949.87C385.11,948.88 386,947.88 386.92,946.88C387.85,945.88 388.77,944.89 389.69,943.89C390.6,942.89 391.55,941.9 392.41,940.9C393.28,939.9 394.1,938.9 394.87,937.91C395.64,936.91 396.33,935.91 397.04,934.92C397.76,933.92 398.47,932.92 399.18,931.93C399.9,930.93 400.63,929.93 401.32,928.93C402.01,927.94 402.72,926.94 403.33,925.94C403.94,924.95 404.45,923.95 404.98,922.95C405.5,921.95 405.99,920.96 406.49,919.96C406.99,918.96 407.51,917.97 407.99,916.97C408.47,915.97 408.95,914.98 409.34,913.98C409.74,912.98 410.04,911.98 410.36,910.99C410.69,909.99 410.99,908.99 411.3,908C411.6,907 411.93,906 412.21,905C412.49,904.01 412.77,903.01 412.98,902.01C413.19,901.02 413.33,900.02 413.5,899.02C413.66,898.02 413.81,897.03 413.96,896.03C414.12,895.03 414.27,894.04 414.42,893.04C414.57,892.04 414.74,891.05 414.86,890.05C414.99,889.05 415.09,888.05 415.19,887.06C415.29,886.06 415.36,885.06 415.45,884.07C415.53,883.07 415.62,882.07 415.7,881.07C415.79,880.08 415.88,879.08 415.96,878.08C416.04,877.09 416.14,876.09 416.2,875.09C416.26,874.09 416.29,873.1 416.31,872.1C416.34,871.1 416.33,870.11 416.33,869.11C416.34,868.11 416.34,867.12 416.35,866.12C416.35,865.12 416.35,864.12 416.36,863.13C416.36,862.13 416.36,861.13 416.37,860.14C416.37,859.14 416.37,858.14 416.38,857.14C416.38,856.15 416.39,855.15 416.39,854.15C416.39,853.16 416.4,851.66 416.4,851.16Z" fill="#ff9900" stroke="#000" stroke-width="1.35" stroke-linejoin="round"/>
<path d="M628.2,875.41C628.2,875.91 628.21,877.41 628.21,878.41C628.22,879.42 628.22,880.42 628.23,881.42C628.23,882.43 628.23,883.43 628.24,884.43C628.24,885.44 628.25,886.44 628.25,887.44C628.26,888.45 628.25,889.45 628.27,890.45C628.28,891.45 628.25,892.46 628.32,893.46C628.39,894.46 628.52,895.47 628.68,896.47C628.84,897.47 629.07,898.48 629.28,899.48C629.48,900.48 629.69,901.48 629.9,902.49C630.11,903.49 630.28,904.49 630.53,905.5C630.78,906.5 631.02,907.5 631.4,908.51C631.78,909.51 632.32,910.51 632.81,911.52C633.3,912.52 633.84,913.52 634.36,914.52C634.88,915.53 635.36,916.53 635.93,917.53C636.51,918.54 637.12,919.54 637.84,920.54C638.56,921.55 639.43,922.55 640.25,923.55C641.07,924.56 641.92,925.56 642.77,926.56C643.61,927.56 644.41,928.57 645.31,929.57C646.22,930.57 647.17,931.58 648.18,932.58C649.2,933.58 650.33,934.59 651.42,935.59C652.51,936.59 653.61,937.59 654.7,938.6C655.8,939.6 656.89,940.6 657.99,941.61C659.08,942.61 660.17,943.61 661.27,944.62C662.36,945.62 663.47,946.62 664.55,947.63C665.64,948.63 666.8,949.63 667.78,950.63C668.76,951.64 669.66,952.64 670.42,953.64C671.18,954.65 671.71,955.65 672.33,956.65C672.94,957.66 673.58,958.66 674.11,959.66C674.64,960.67 675.15,961.67 675.5,962.67C675.84,963.67 675.97,964.68 676.17,965.68C676.37,966.68 676.51,967.69 676.68,968.69C676.84,969.69 677.02,970.7 677.17,971.7C677.31,972.7 677.43,973.71 677.52,974.71C677.61,975.71 677.65,976.71 677.7,977.72C677.76,978.72 677.79,979.72 677.85,980.73C677.91,981.73 677.92,982.73 678.06,983.74C678.2,984.74 678.42,985.74 678.7,986.74C678.98,987.75 679.4,988.75 679.76,989.75C680.12,990.76 680.47,991.76 680.86,992.76C681.26,993.77 681.56,994.77 682.13,995.77C682.69,996.78 683.44,997.78 684.25,998.78C685.05,999.78 686.05,1000.79 686.96,1001.79C687.87,1002.79 688.77,1003.8 689.72,1004.8C690.67,1005.8 691.56,1006.81 692.64,1007.81C693.71,1008.81 694.93,1009.82 696.15,1010.82C697.37,1011.82 698.7,1012.82 699.97,1013.83C701.24,1014.83 702.55,1015.83 703.77,1016.84C704.99,1017.84 706.18,1018.84 707.28,1019.85C708.38,1020.85 709.36,1021.85 710.37,1022.85C711.37,1023.86 712.44,1024.86 713.3,1025.86C714.16,1026.87 714.93,1027.87 715.51,1028.87C716.1,1029.88 716.56,1030.88 716.8,1031.88C717.03,1032.89 717.05,1033.89 716.92,1034.89C716.8,1035.89 716.4,1036.9 716.05,1037.9C715.7,1038.9 715.35,1039.91 714.81,1040.91C714.28,1041.91 713.56,1042.92 712.86,1043.92C712.16,1044.92 711.36,1045.93 710.61,1046.93C709.86,1047.93 709.1,1048.93 708.36,1049.94C707.62,1050.94 706.88,1051.94 706.17,1052.95C705.46,1053.95 704.8,1054.95 704.12,1055.96C703.45,1056.96 702.78,1057.96 702.12,1058.96C701.45,1059.97 700.76,1060.97 700.12,1061.97C699.49,1062.98 698.87,1063.98 698.3,1064.98C697.74,1065.99 697.26,1066.99 696.74,1067.99C696.23,1069 695.75,1070 695.24,1071C694.73,1072 694.26,1073.01 693.7,1074.01C693.15,1075.01 692.55,1076.02 691.9,1077.02C691.25,1078.02 690.5,1079.03 689.79,1080.03C689.08,1081.03 688.36,1082.04 687.64,1083.04C686.93,1084.04 686.24,1085.04 685.49,1086.05C684.73,1087.05 684.01,1088.05 683.13,1089.06C682.24,1090.06 681.19,1091.06 680.16,1092.07C679.13,1093.07 678.03,1094.07 676.96,1095.08C675.89,1096.08 674.82,1097.08 673.75,1098.08C672.68,1099.09 671.61,1100.09 670.54,1101.09C669.47,1102.1 668.4,1103.1 667.33,1104.1C666.26,1105.11 665.19,1106.11 664.12,1107.11C663.05,1108.11 661.98,1109.12 660.91,1110.12C659.84,1111.12 658.76,1112.13 657.7,1113.13C656.64,1114.13 655.52,1115.14 654.53,1116.14C653.54,1117.14 652.6,1118.15 651.76,1119.15C650.93,1120.15 650.25,1121.15 649.52,1122.16C648.79,1123.16 648.09,1124.16 647.37,1125.17C646.65,1126.17 645.92,1127.17 645.22,1128.18C644.53,1129.18 643.8,1130.18 643.21,1131.19C642.62,1132.19 642.16,1133.19 641.69,1134.19C641.22,1135.2 640.82,1136.2 640.38,1137.2C639.95,1138.21 639.52,1139.21 639.09,1140.21C638.66,1141.22 638.21,1142.22 637.81,1143.22C637.41,1144.22 637.03,1145.23 636.7,1146.23C636.36,1147.23 636.09,1148.24 635.79,1149.24C635.49,1150.24 635.2,1151.25 634.91,1152.25C634.62,1153.25 634.32,1154.26 634.03,1155.26C633.75,1156.26 633.45,1157.26 633.19,1158.27C632.93,1159.27 632.69,1160.27 632.46,1161.28C632.22,1162.28 632,1163.28 631.77,1164.29C631.54,1165.29 631.31,1166.29 631.08,1167.3C630.86,1168.3 630.61,1169.3 630.42,1170.3C630.22,1171.31 630.05,1172.31 629.91,1173.31C629.78,1174.32 629.7,1175.32 629.59,1176.32C629.49,1177.33 629.4,1178.33 629.3,1179.33C629.2,1180.34 629.1,1181.34 629,1182.34C628.9,1183.34 628.79,1184.35 628.71,1185.35C628.63,1186.35 628.55,1187.36 628.51,1188.36C628.46,1189.36 628.45,1190.37 628.43,1191.37C628.41,1192.37 628.39,1193.37 628.37,1194.38C628.36,1195.38 628.34,1196.38 628.32,1197.39C628.3,1198.39 628.28,1199.39 628.26,1200.4C628.24,1201.4 628.21,1202.9 628.2,1203.41L628.14,1200.4C628.13,1199.89 628.1,1198.39 628.08,1197.39C628.06,1196.38 628.04,1195.38 628.03,1194.38C628.01,1193.37 627.99,1192.37 627.97,1191.37C627.95,1190.37 627.94,1189.36 627.89,1188.36C627.85,1187.36 627.77,1186.35 627.69,1185.35C627.61,1184.35 627.5,1183.34 627.4,1182.34C627.3,1181.34 627.2,1180.34 627.1,1179.33C627,1178.33 626.91,1177.33 626.81,1176.32C626.7,1175.32 626.62,1174.32 626.49,1173.31C626.35,1172.31 626.18,1171.31 625.98,1170.3C625.79,1169.3 625.54,1168.3 625.32,1167.3C625.09,1166.29 624.86,1165.29 624.63,1164.29C624.4,1163.28 624.18,1162.28 623.94,1161.28C623.71,1160.27 623.47,1159.27 623.21,1158.27C622.95,1157.26 622.65,1156.26 622.37,1155.26C622.08,1154.26 621.78,1153.25 621.49,1152.25C621.2,1151.25 620.91,1150.24 620.61,1149.24C620.31,1148.24 620.04,1147.23 619.7,1146.23C619.37,1145.23 618.99,1144.22 618.59,1143.22C618.19,1142.22 617.74,1141.22 617.31,1140.21C616.88,1139.21 616.45,1138.21 616.02,1137.2C615.58,1136.2 615.18,1135.2 614.71,1134.19C614.24,1133.19 613.78,1132.19 613.19,1131.19C612.6,1130.18 611.87,1129.18 611.18,1128.18C610.48,1127.17 609.75,1126.17 609.03,1125.17C608.31,1124.16 607.61,1123.16 606.88,1122.16C606.15,1121.15 605.47,1120.15 604.64,1119.15C603.8,1118.15 602.86,1117.14 601.87,1116.14C600.88,1115.14 599.76,1114.13 598.7,1113.13C597.64,1112.13 596.56,1111.12 595.49,1110.12C594.42,1109.12 593.35,1108.11 592.28,1107.11C591.21,1106.11 590.14,1105.11 589.07,1104.1C588,1103.1 586.93,1102.1 585.86,1101.09C584.79,1100.09 583.72,1099.09 582.65,1098.08C581.58,1097.08 580.51,1096.08 579.44,1095.08C578.37,1094.07 577.27,1093.07 576.24,1092.07C575.21,1091.06 574.16,1090.06 573.27,1089.06C572.39,1088.05 571.67,1087.05 570.91,1086.05C570.16,1085.04 569.47,1084.04 568.76,1083.04C568.04,1082.04 567.32,1081.03 566.61,1080.03C565.9,1079.03 565.15,1078.02 564.5,1077.02C563.85,1076.02 563.25,1075.01 562.7,1074.01C562.14,1073.01 561.67,1072 561.16,1071C560.65,1070 560.17,1069 559.66,1067.99C559.14,1066.99 558.66,1065.99 558.1,1064.98C557.53,1063.98 556.91,1062.98 556.28,1061.97C555.64,1060.97 554.95,1059.97 554.28,1058.96C553.62,1057.96 552.95,1056.96 552.28,1055.96C551.6,1054.95 550.94,1053.95 550.23,1052.95C549.52,1051.94 548.78,1050.94 548.04,1049.94C547.3,1048.93 546.54,1047.93 545.79,1046.93C545.04,1045.93 544.24,1044.92 543.54,1043.92C542.84,1042.92 542.12,1041.91 541.59,1040.91C541.05,1039.91 540.7,1038.9 540.35,1037.9C540,1036.9 539.6,1035.89 539.48,1034.89C539.35,1033.89 539.37,1032.89 539.6,1031.88C539.84,1030.88 540.3,1029.88 540.89,1028.87C541.47,1027.87 542.24,1026.87 543.1,1025.86C543.96,1024.86 545.03,1023.86 546.03,1022.85C547.04,1021.85 548.02,1020.85 549.12,1019.85C550.22,1018.84 551.41,1017.84 552.63,1016.84C553.85,1015.83 555.16,1014.83 556.43,1013.83C557.7,1012.82 559.03,1011.82 560.25,1010.82C561.47,1009.82 562.69,1008.81 563.76,1007.81C564.84,1006.81 565.73,1005.8 566.68,1004.8C567.63,1003.8 568.53,1002.79 569.44,1001.79C570.35,1000.79 571.35,999.78 572.15,998.78C572.96,997.78 573.71,996.78 574.27,995.77C574.84,994.77 575.14,993.77 575.54,992.76C575.93,991.76 576.28,990.76 576.64,989.75C577,988.75 577.42,987.75 577.7,986.74C577.98,985.74 578.2,984.74 578.34,983.74C578.48,982.73 578.49,981.73 578.55,980.73C578.61,979.72 578.64,978.72 578.7,977.72C578.75,976.71 578.79,975.71 578.88,974.71C578.97,973.71 579.09,972.7 579.23,971.7C579.38,970.7 579.56,969.69 579.72,968.69C579.89,967.69 580.03,966.68 580.23,965.68C580.43,964.68 580.56,963.67 580.9,962.67C581.25,961.67 581.76,960.67 582.29,959.66C582.82,958.66 583.46,957.66 584.07,956.65C584.69,955.65 585.22,954.65 585.98,953.64C586.74,952.64 587.64,951.64 588.62,950.63C589.6,949.63 590.76,948.63 591.85,947.63C592.93,946.62 594.04,945.62 595.13,944.62C596.23,943.61 597.32,942.61 598.41,941.61C599.51,940.6 600.6,939.6 601.7,938.6C602.79,937.59 603.89,936.59 604.98,935.59C606.07,934.59 607.2,933.58 608.22,932.58C609.23,931.58 610.18,930.57 611.09,929.57C611.99,928.57 612.79,927.56 613.63,926.56C614.48,925.56 615.33,924.56 616.15,923.55C616.97,922.55 617.84,921.55 618.56,920.54C619.28,919.54 619.89,918.54 620.47,917.53C621.04,916.53 621.52,915.53 622.04,914.52C622.56,913.52 623.1,912.52 623.59,911.52C624.08,910.51 624.62,909.51 625,908.51C625.38,907.5 625.62,906.5 625.87,905.5C626.12,904.49 626.29,903.49 626.5,902.49C626.71,901.48 626.92,900.48 627.12,899.48C627.33,898.48 627.56,897.47 627.72,896.47C627.88,895.47 628.01,894.46 628.08,893.46C628.15,892.46 628.12,891.45 628.13,890.45C628.15,889.45 628.14,888.45 628.15,887.44C628.15,886.44 628.16,885.44 628.16,884.43C628.17,883.43 628.17,882.43 628.17,881.42C628.18,880.42 628.18,879.42 628.19,878.41C628.19,877.41 628.2,875.91 628.2,875.41Z" fill="#ff0000" stroke="#000" stroke-width="1.35" stroke-linejoin="round"/>
<path d="M204.5,905.4L204.5,985.4M204.5,1045.2L204.5,1132" stroke="#000" stroke-width="1.35" fill="none"/>
<rect x="183.6" y="985.4" width="42.1" height="59.8" fill="#fff" stroke="#000" stroke-width="1.35"/>
<line x1="183.6" y1="1018.4" x2="225.7" y2="1018.4" stroke="#000" stroke-width="2.6"/>
<circle cx="204.5" cy="1142.5" r="3.2" fill="#000"/>
<path d="M416.4,898.9L416.4,988.5M416.4,1054.1L416.4,1144.4" stroke="#000" stroke-width="1.35" fill="none"/>
<rect x="395.1" y="988.5" width="42.5" height="65.6" fill="#fff" stroke="#000" stroke-width="1.35"/>
<line x1="395.1" y1="1014.7" x2="437.6" y2="1014.7" stroke="#000" stroke-width="2.6"/>
<path d="M628.2,933.8L628.2,995.8M628.2,1068.5L628.2,1145" stroke="#000" stroke-width="1.35" fill="none"/>
<rect x="606.9" y="995.8" width="42.7" height="72.7" fill="#fff" stroke="#000" stroke-width="1.35"/>
<line x1="606.9" y1="1031.2" x2="649.6" y2="1031.2" stroke="#000" stroke-width="2.6"/>
<path d="M204.5,834.7L204.5,827L628.2,827L628.2,834.7" fill="none" stroke="#333" stroke-width="1"/>
<text x="416.35" y="820.5" font-size="14.5" text-anchor="middle" fill="#000">*</text>
<path d="M416.4,864.6L416.4,856.9L628.2,856.9L628.2,864.6" fill="none" stroke="#333" stroke-width="1"/>
<text x="522.3" y="852.5" font-size="14.5" text-anchor="middle" fill="#000">ns</text>
<path d="M204.5,894.1L204.5,886.4L416.4,886.4L416.4,894.1" fill="none" stroke="#333" stroke-width="1"/>
<text x="310.45" y="882" font-size="14.5" text-anchor="middle" fill="#000">ns</text>
<path d="M77.75,808.75L77.75,1222L755,1222" fill="none" stroke="#000" stroke-width="1.4"/>
<g stroke="#000" stroke-width="1.4">
<line x1="73.75" y1="839.25" x2="77.75" y2="839.25"/>
<line x1="73.75" y1="903.6" x2="77.75" y2="903.6"/>
<line x1="73.75" y1="968" x2="77.75" y2="968"/>
<line x1="73.75" y1="1032.5" x2="77.75" y2="1032.5"/>
<line x1="73.75" y1="1097" x2="77.75" y2="1097"/>
<line x1="73.75" y1="1161.3" x2="77.75" y2="1161.3"/>
<line x1="204.5" y1="1222" x2="204.5" y2="1226.2"/>
<line x1="416.4" y1="1222" x2="416.4" y2="1226.2"/>
<line x1="628.2" y1="1222" x2="628.2" y2="1226.2"/>
</g>
<text x="70.05" y="844.85" font-size="15.8" text-anchor="end" fill="#000">3000</text>
<text x="70.05" y="909.2" font-size="15.8" text-anchor="end" fill="#000">2000</text>
<text x="70.05" y="973.6" font-size="15.8" text-anchor="end" fill="#000">1000</text>
<text x="70.05" y="1038.1" font-size="15.8" text-anchor="end" fill="#000">0</text>
<text x="70.05" y="1102.6" font-size="15.8" text-anchor="end" fill="#000">−1000</text>
<text x="70.05" y="1166.9" font-size="15.8" text-anchor="end" fill="#000">−2000</text>
<text x="204.5" y="1240.8" font-size="15.8" text-anchor="middle" fill="#000">low</text>
<text x="416.4" y="1240.8" font-size="15.8" text-anchor="middle" fill="#000">medium</text>
<text x="628.2" y="1240.8" font-size="15.8" text-anchor="middle" fill="#000">high</text>
<text x="416.4" y="1260" font-size="15.8" text-anchor="middle" fill="#000">Risk Level</text>
<text transform="translate(18.6,1015.4) rotate(-90)" font-size="15.8" text-anchor="middle" fill="#000">StromalScore</text>
<text x="276.3" y="778.7" font-size="15.7" text-anchor="start" fill="#000">Risk Level</text>
<rect x="357.1" y="762.4" width="21.5" height="21.3" fill="#0066ff" stroke="#000" stroke-width="1.3"/>
<text x="387.5" y="778.1" font-size="13.33" text-anchor="start" fill="#000">low</text>
<rect x="415.5" y="762.4" width="21.5" height="21.3" fill="#ff9900" stroke="#000" stroke-width="1.3"/>
<text x="445.9" y="778.1" font-size="13.33" text-anchor="start" fill="#000">medium</text>
<rect x="501.6" y="762.4" width="21.5" height="21.3" fill="#ff0000" stroke="#000" stroke-width="1.3"/>
<text x="532" y="778.1" font-size="13.33" text-anchor="start" fill="#000">high</text>
<text transform="translate(8.5,781) scale(1,1.045)" font-size="45" fill="#000">C</text>
<path d="M1213.7,859.44C1213.7,859.94 1213.7,861.44 1213.7,862.43C1213.7,863.43 1213.7,864.43 1213.7,865.42C1213.7,866.42 1213.7,867.42 1213.7,868.41C1213.7,869.41 1213.68,870.41 1213.71,871.4C1213.74,872.4 1213.76,873.4 1213.87,874.39C1213.97,875.39 1214.15,876.39 1214.32,877.38C1214.48,878.38 1214.66,879.38 1214.84,880.37C1215.02,881.37 1215.16,882.37 1215.38,883.36C1215.61,884.36 1215.85,885.36 1216.19,886.36C1216.52,887.35 1216.97,888.35 1217.38,889.35C1217.79,890.34 1218.18,891.34 1218.65,892.34C1219.12,893.33 1219.57,894.33 1220.2,895.33C1220.83,896.32 1221.64,897.32 1222.41,898.32C1223.18,899.31 1224.01,900.31 1224.82,901.31C1225.64,902.3 1226.44,903.3 1227.33,904.3C1228.22,905.29 1229.19,906.29 1230.16,907.29C1231.13,908.28 1232.15,909.28 1233.14,910.28C1234.14,911.27 1235.14,912.27 1236.14,913.27C1237.13,914.26 1238.13,915.26 1239.13,916.26C1240.12,917.25 1241.12,918.25 1242.12,919.25C1243.11,920.25 1244.11,921.24 1245.11,922.24C1246.1,923.24 1247.1,924.23 1248.1,925.23C1249.09,926.23 1250.09,927.22 1251.09,928.22C1252.09,929.22 1253.08,930.21 1254.08,931.21C1255.08,932.21 1256.07,933.2 1257.07,934.2C1258.07,935.2 1259.04,936.19 1260.07,937.19C1261.11,938.19 1262.16,939.18 1263.28,940.18C1264.4,941.18 1265.62,942.17 1266.8,943.17C1267.99,944.17 1269.18,945.16 1270.4,946.16C1271.62,947.16 1272.83,948.15 1274.13,949.15C1275.43,950.15 1276.83,951.14 1278.2,952.14C1279.58,953.14 1281.02,954.14 1282.38,955.13C1283.75,956.13 1285.17,957.13 1286.39,958.12C1287.62,959.12 1288.68,960.12 1289.74,961.11C1290.8,962.11 1291.77,963.11 1292.75,964.1C1293.72,965.1 1294.79,966.1 1295.59,967.09C1296.4,968.09 1297.02,969.09 1297.56,970.08C1298.1,971.08 1298.42,972.08 1298.82,973.07C1299.22,974.07 1299.66,975.07 1299.98,976.06C1300.3,977.06 1300.57,978.06 1300.74,979.05C1300.9,980.05 1300.97,981.05 1300.98,982.04C1300.99,983.04 1300.92,984.04 1300.8,985.03C1300.68,986.03 1300.44,987.03 1300.25,988.03C1300.06,989.02 1299.86,990.02 1299.65,991.02C1299.45,992.01 1299.26,993.01 1299.02,994.01C1298.78,995 1298.5,996 1298.2,997C1297.9,997.99 1297.55,998.99 1297.22,999.99C1296.89,1000.98 1296.55,1001.98 1296.22,1002.98C1295.9,1003.97 1295.56,1004.97 1295.26,1005.97C1294.95,1006.96 1294.68,1007.96 1294.42,1008.96C1294.15,1009.95 1293.92,1010.95 1293.67,1011.95C1293.41,1012.94 1293.2,1013.94 1292.91,1014.94C1292.63,1015.93 1292.4,1016.93 1291.95,1017.93C1291.5,1018.92 1290.86,1019.92 1290.23,1020.92C1289.6,1021.92 1288.88,1022.91 1288.15,1023.91C1287.42,1024.91 1286.8,1025.9 1285.87,1026.9C1284.93,1027.9 1283.77,1028.89 1282.53,1029.89C1281.29,1030.89 1279.8,1031.88 1278.42,1032.88C1277.03,1033.88 1275.65,1034.87 1274.21,1035.87C1272.78,1036.87 1271.31,1037.86 1269.81,1038.86C1268.31,1039.86 1266.72,1040.85 1265.19,1041.85C1263.67,1042.85 1262.04,1043.84 1260.65,1044.84C1259.26,1045.84 1258,1046.83 1256.86,1047.83C1255.72,1048.83 1254.77,1049.82 1253.79,1050.82C1252.81,1051.82 1251.75,1052.81 1250.96,1053.81C1250.16,1054.81 1249.55,1055.8 1249.01,1056.8C1248.48,1057.8 1248.16,1058.8 1247.75,1059.79C1247.35,1060.79 1246.92,1061.79 1246.59,1062.78C1246.26,1063.78 1245.98,1064.78 1245.77,1065.77C1245.57,1066.77 1245.49,1067.77 1245.37,1068.76C1245.24,1069.76 1245.14,1070.76 1245.02,1071.75C1244.89,1072.75 1244.8,1073.75 1244.64,1074.74C1244.48,1075.74 1244.28,1076.74 1244.06,1077.73C1243.84,1078.73 1243.56,1079.73 1243.3,1080.72C1243.04,1081.72 1242.82,1082.72 1242.5,1083.71C1242.17,1084.71 1241.8,1085.71 1241.33,1086.7C1240.87,1087.7 1240.25,1088.7 1239.68,1089.69C1239.11,1090.69 1238.52,1091.69 1237.94,1092.69C1237.35,1093.68 1236.8,1094.68 1236.16,1095.68C1235.52,1096.67 1234.84,1097.67 1234.11,1098.67C1233.37,1099.66 1232.54,1100.66 1231.75,1101.66C1230.96,1102.65 1230.14,1103.65 1229.36,1104.65C1228.58,1105.64 1227.81,1106.64 1227.07,1107.64C1226.33,1108.63 1225.63,1109.63 1224.93,1110.63C1224.22,1111.62 1223.49,1112.62 1222.82,1113.62C1222.15,1114.61 1221.46,1115.61 1220.91,1116.61C1220.35,1117.6 1219.94,1118.6 1219.5,1119.6C1219.05,1120.59 1218.65,1121.59 1218.25,1122.59C1217.85,1123.58 1217.42,1124.58 1217.1,1125.58C1216.79,1126.58 1216.56,1127.57 1216.34,1128.57C1216.12,1129.57 1215.97,1130.56 1215.79,1131.56C1215.6,1132.56 1215.41,1133.55 1215.24,1134.55C1215.07,1135.55 1214.89,1136.54 1214.76,1137.54C1214.64,1138.54 1214.57,1139.53 1214.49,1140.53C1214.41,1141.53 1214.36,1142.52 1214.3,1143.52C1214.24,1144.52 1214.18,1145.51 1214.11,1146.51C1214.05,1147.51 1213.98,1148.5 1213.93,1149.5C1213.87,1150.5 1213.8,1151.49 1213.76,1152.49C1213.73,1153.49 1213.71,1154.48 1213.7,1155.48C1213.69,1156.48 1213.7,1157.47 1213.7,1158.47C1213.7,1159.47 1213.7,1160.47 1213.7,1161.46C1213.7,1162.46 1213.7,1163.46 1213.7,1164.45C1213.7,1165.45 1213.7,1166.94 1213.7,1167.44L1213.7,1164.45C1213.7,1163.95 1213.7,1162.46 1213.7,1161.46C1213.7,1160.47 1213.7,1159.47 1213.7,1158.47C1213.7,1157.47 1213.71,1156.48 1213.7,1155.48C1213.69,1154.48 1213.67,1153.49 1213.64,1152.49C1213.6,1151.49 1213.53,1150.5 1213.47,1149.5C1213.42,1148.5 1213.35,1147.51 1213.29,1146.51C1213.22,1145.51 1213.16,1144.52 1213.1,1143.52C1213.04,1142.52 1212.99,1141.53 1212.91,1140.53C1212.83,1139.53 1212.76,1138.54 1212.64,1137.54C1212.51,1136.54 1212.33,1135.55 1212.16,1134.55C1211.99,1133.55 1211.8,1132.56 1211.61,1131.56C1211.43,1130.56 1211.28,1129.57 1211.06,1128.57C1210.84,1127.57 1210.61,1126.58 1210.3,1125.58C1209.98,1124.58 1209.55,1123.58 1209.15,1122.59C1208.75,1121.59 1208.35,1120.59 1207.9,1119.6C1207.46,1118.6 1207.05,1117.6 1206.49,1116.61C1205.94,1115.61 1205.25,1114.61 1204.58,1113.62C1203.91,1112.62 1203.18,1111.62 1202.47,1110.63C1201.77,1109.63 1201.07,1108.63 1200.33,1107.64C1199.59,1106.64 1198.82,1105.64 1198.04,1104.65C1197.26,1103.65 1196.44,1102.65 1195.65,1101.66C1194.86,1100.66 1194.03,1099.66 1193.29,1098.67C1192.56,1097.67 1191.88,1096.67 1191.24,1095.68C1190.6,1094.68 1190.05,1093.68 1189.46,1092.69C1188.88,1091.69 1188.29,1090.69 1187.72,1089.69C1187.15,1088.7 1186.53,1087.7 1186.07,1086.7C1185.6,1085.71 1185.23,1084.71 1184.9,1083.71C1184.58,1082.72 1184.36,1081.72 1184.1,1080.72C1183.84,1079.73 1183.56,1078.73 1183.34,1077.73C1183.12,1076.74 1182.92,1075.74 1182.76,1074.74C1182.6,1073.75 1182.51,1072.75 1182.38,1071.75C1182.26,1070.76 1182.16,1069.76 1182.03,1068.76C1181.91,1067.77 1181.83,1066.77 1181.63,1065.77C1181.42,1064.78 1181.14,1063.78 1180.81,1062.78C1180.48,1061.79 1180.05,1060.79 1179.65,1059.79C1179.24,1058.8 1178.92,1057.8 1178.39,1056.8C1177.85,1055.8 1177.24,1054.81 1176.44,1053.81C1175.65,1052.81 1174.59,1051.82 1173.61,1050.82C1172.63,1049.82 1171.68,1048.83 1170.54,1047.83C1169.4,1046.83 1168.14,1045.84 1166.75,1044.84C1165.36,1043.84 1163.73,1042.85 1162.21,1041.85C1160.68,1040.85 1159.09,1039.86 1157.59,1038.86C1156.09,1037.86 1154.62,1036.87 1153.19,1035.87C1151.75,1034.87 1150.37,1033.88 1148.98,1032.88C1147.6,1031.88 1146.11,1030.89 1144.87,1029.89C1143.63,1028.89 1142.47,1027.9 1141.53,1026.9C1140.6,1025.9 1139.98,1024.91 1139.25,1023.91C1138.52,1022.91 1137.8,1021.92 1137.17,1020.92C1136.54,1019.92 1135.9,1018.92 1135.45,1017.93C1135,1016.93 1134.77,1015.93 1134.49,1014.94C1134.2,1013.94 1133.99,1012.94 1133.73,1011.95C1133.48,1010.95 1133.25,1009.95 1132.98,1008.96C1132.72,1007.96 1132.45,1006.96 1132.14,1005.97C1131.84,1004.97 1131.5,1003.97 1131.18,1002.98C1130.85,1001.98 1130.51,1000.98 1130.18,999.99C1129.85,998.99 1129.5,997.99 1129.2,997C1128.9,996 1128.62,995 1128.38,994.01C1128.14,993.01 1127.95,992.01 1127.75,991.02C1127.54,990.02 1127.34,989.02 1127.15,988.03C1126.96,987.03 1126.72,986.03 1126.6,985.03C1126.48,984.04 1126.41,983.04 1126.42,982.04C1126.43,981.05 1126.5,980.05 1126.66,979.05C1126.83,978.06 1127.1,977.06 1127.42,976.06C1127.74,975.07 1128.18,974.07 1128.58,973.07C1128.98,972.08 1129.3,971.08 1129.84,970.08C1130.38,969.09 1131,968.09 1131.81,967.09C1132.61,966.1 1133.68,965.1 1134.65,964.1C1135.63,963.11 1136.6,962.11 1137.66,961.11C1138.72,960.12 1139.78,959.12 1141.01,958.12C1142.23,957.13 1143.65,956.13 1145.02,955.13C1146.38,954.14 1147.82,953.14 1149.2,952.14C1150.57,951.14 1151.97,950.15 1153.27,949.15C1154.57,948.15 1155.78,947.16 1157,946.16C1158.22,945.16 1159.41,944.17 1160.6,943.17C1161.78,942.17 1163,941.18 1164.12,940.18C1165.24,939.18 1166.29,938.19 1167.33,937.19C1168.36,936.19 1169.33,935.2 1170.33,934.2C1171.33,933.2 1172.32,932.21 1173.32,931.21C1174.32,930.21 1175.31,929.22 1176.31,928.22C1177.31,927.22 1178.31,926.23 1179.3,925.23C1180.3,924.23 1181.3,923.24 1182.29,922.24C1183.29,921.24 1184.29,920.25 1185.28,919.25C1186.28,918.25 1187.28,917.25 1188.27,916.26C1189.27,915.26 1190.27,914.26 1191.26,913.27C1192.26,912.27 1193.26,911.27 1194.26,910.28C1195.25,909.28 1196.27,908.28 1197.24,907.29C1198.21,906.29 1199.18,905.29 1200.07,904.3C1200.96,903.3 1201.76,902.3 1202.58,901.31C1203.39,900.31 1204.22,899.31 1204.99,898.32C1205.76,897.32 1206.57,896.32 1207.2,895.33C1207.83,894.33 1208.28,893.33 1208.75,892.34C1209.22,891.34 1209.61,890.34 1210.02,889.35C1210.43,888.35 1210.88,887.35 1211.21,886.36C1211.55,885.36 1211.79,884.36 1212.02,883.36C1212.24,882.37 1212.38,881.37 1212.56,880.37C1212.74,879.38 1212.92,878.38 1213.08,877.38C1213.25,876.39 1213.43,875.39 1213.53,874.39C1213.64,873.4 1213.66,872.4 1213.69,871.4C1213.72,870.41 1213.7,869.41 1213.7,868.41C1213.7,867.42 1213.7,866.42 1213.7,865.42C1213.7,864.43 1213.7,863.43 1213.7,862.43C1213.7,861.44 1213.7,859.94 1213.7,859.44Z" fill="#0066ff" stroke="#000" stroke-width="1.35" stroke-linejoin="round"/>
<path d="M1428.4,866.37C1428.4,866.87 1428.41,868.37 1428.42,869.38C1428.42,870.38 1428.43,871.38 1428.43,872.39C1428.44,873.39 1428.44,874.39 1428.45,875.4C1428.45,876.4 1428.45,877.4 1428.46,878.41C1428.47,879.41 1428.45,880.41 1428.51,881.41C1428.57,882.42 1428.68,883.42 1428.83,884.42C1428.97,885.43 1429.19,886.43 1429.38,887.43C1429.57,888.44 1429.76,889.44 1429.96,890.44C1430.15,891.45 1430.32,892.45 1430.54,893.45C1430.76,894.45 1430.97,895.46 1431.29,896.46C1431.61,897.46 1432.06,898.47 1432.47,899.47C1432.88,900.47 1433.33,901.48 1433.77,902.48C1434.2,903.48 1434.61,904.49 1435.09,905.49C1435.56,906.49 1436.05,907.49 1436.63,908.5C1437.21,909.5 1437.91,910.5 1438.56,911.51C1439.22,912.51 1439.9,913.51 1440.58,914.52C1441.26,915.52 1441.88,916.52 1442.63,917.53C1443.38,918.53 1444.18,919.53 1445.08,920.53C1445.98,921.54 1447.03,922.54 1448.02,923.54C1449.02,924.55 1450.02,925.55 1451.03,926.55C1452.04,927.56 1453.02,928.56 1454.08,929.56C1455.13,930.57 1456.23,931.57 1457.36,932.57C1458.49,933.57 1459.68,934.58 1460.85,935.58C1462.01,936.58 1463.18,937.59 1464.36,938.59C1465.53,939.59 1466.69,940.6 1467.9,941.6C1469.11,942.6 1470.36,943.61 1471.62,944.61C1472.87,945.61 1474.16,946.62 1475.44,947.62C1476.72,948.62 1477.99,949.62 1479.27,950.63C1480.55,951.63 1481.82,952.63 1483.1,953.64C1484.38,954.64 1485.65,955.64 1486.93,956.65C1488.21,957.65 1489.49,958.65 1490.76,959.66C1492.02,960.66 1493.33,961.66 1494.51,962.66C1495.69,963.67 1496.77,964.67 1497.83,965.67C1498.89,966.68 1499.87,967.68 1500.87,968.68C1501.86,969.69 1502.92,970.69 1503.81,971.69C1504.7,972.7 1505.5,973.7 1506.21,974.7C1506.91,975.7 1507.44,976.71 1508.03,977.71C1508.63,978.71 1509.21,979.72 1509.79,980.72C1510.36,981.72 1510.98,982.73 1511.47,983.73C1511.96,984.73 1512.36,985.74 1512.72,986.74C1513.08,987.74 1513.35,988.74 1513.65,989.75C1513.96,990.75 1514.27,991.75 1514.55,992.76C1514.83,993.76 1515.16,994.76 1515.34,995.77C1515.52,996.77 1515.57,997.77 1515.62,998.78C1515.66,999.78 1515.67,1000.78 1515.61,1001.78C1515.54,1002.79 1515.46,1003.79 1515.23,1004.79C1515.01,1005.8 1514.62,1006.8 1514.28,1007.8C1513.94,1008.81 1513.59,1009.81 1513.19,1010.81C1512.79,1011.82 1512.4,1012.82 1511.86,1013.82C1511.32,1014.82 1510.62,1015.83 1509.96,1016.83C1509.29,1017.83 1508.57,1018.84 1507.85,1019.84C1507.14,1020.84 1506.45,1021.85 1505.65,1022.85C1504.86,1023.85 1503.98,1024.86 1503.1,1025.86C1502.22,1026.86 1501.28,1027.87 1500.37,1028.87C1499.46,1029.87 1498.55,1030.87 1497.64,1031.88C1496.73,1032.88 1495.81,1033.88 1494.9,1034.89C1493.99,1035.89 1493.08,1036.89 1492.17,1037.9C1491.26,1038.9 1490.33,1039.9 1489.43,1040.91C1488.54,1041.91 1487.61,1042.91 1486.8,1043.91C1485.98,1044.92 1485.27,1045.92 1484.56,1046.92C1483.85,1047.93 1483.21,1048.93 1482.54,1049.93C1481.87,1050.94 1481.21,1051.94 1480.54,1052.94C1479.87,1053.95 1479.2,1054.95 1478.53,1055.95C1477.86,1056.95 1477.19,1057.96 1476.52,1058.96C1475.86,1059.96 1475.19,1060.97 1474.52,1061.97C1473.85,1062.97 1473.17,1063.98 1472.52,1064.98C1471.86,1065.98 1471.2,1066.99 1470.58,1067.99C1469.96,1068.99 1469.38,1069.99 1468.78,1071C1468.19,1072 1467.61,1073 1467.03,1074.01C1466.44,1075.01 1465.85,1076.01 1465.28,1077.02C1464.71,1078.02 1464.15,1079.02 1463.62,1080.03C1463.08,1081.03 1462.59,1082.03 1462.09,1083.03C1461.58,1084.04 1461.08,1085.04 1460.58,1086.04C1460.08,1087.05 1459.57,1088.05 1459.09,1089.05C1458.61,1090.06 1458.14,1091.06 1457.7,1092.06C1457.26,1093.07 1456.85,1094.07 1456.43,1095.07C1456.01,1096.07 1455.59,1097.08 1455.18,1098.08C1454.76,1099.08 1454.34,1100.09 1453.92,1101.09C1453.5,1102.09 1453.07,1103.1 1452.64,1104.1C1452.22,1105.1 1451.79,1106.11 1451.36,1107.11C1450.93,1108.11 1450.5,1109.12 1450.07,1110.12C1449.64,1111.12 1449.21,1112.12 1448.78,1113.13C1448.35,1114.13 1447.92,1115.13 1447.49,1116.14C1447.06,1117.14 1446.63,1118.14 1446.2,1119.15C1445.77,1120.15 1445.33,1121.15 1444.9,1122.16C1444.47,1123.16 1444.04,1124.16 1443.61,1125.16C1443.19,1126.17 1442.75,1127.17 1442.34,1128.17C1441.93,1129.18 1441.55,1130.18 1441.18,1131.18C1440.8,1132.19 1440.45,1133.19 1440.09,1134.19C1439.73,1135.2 1439.37,1136.2 1439.01,1137.2C1438.65,1138.2 1438.28,1139.21 1437.93,1140.21C1437.57,1141.21 1437.21,1142.22 1436.86,1143.22C1436.51,1144.22 1436.17,1145.23 1435.83,1146.23C1435.49,1147.23 1435.14,1148.24 1434.8,1149.24C1434.46,1150.24 1434.11,1151.24 1433.79,1152.25C1433.47,1153.25 1433.16,1154.25 1432.89,1155.26C1432.63,1156.26 1432.41,1157.26 1432.18,1158.27C1431.94,1159.27 1431.72,1160.27 1431.49,1161.28C1431.26,1162.28 1431.02,1163.28 1430.8,1164.28C1430.58,1165.29 1430.34,1166.29 1430.15,1167.29C1429.97,1168.3 1429.82,1169.3 1429.67,1170.3C1429.53,1171.31 1429.41,1172.31 1429.27,1173.31C1429.14,1174.32 1429,1175.32 1428.88,1176.32C1428.76,1177.32 1428.63,1178.33 1428.56,1179.33C1428.49,1180.33 1428.48,1181.34 1428.46,1182.34C1428.44,1183.34 1428.45,1184.35 1428.44,1185.35C1428.43,1186.35 1428.43,1187.36 1428.42,1188.36C1428.41,1189.36 1428.4,1190.87 1428.4,1191.37L1428.38,1188.36C1428.38,1187.86 1428.37,1186.35 1428.36,1185.35C1428.35,1184.35 1428.36,1183.34 1428.34,1182.34C1428.32,1181.34 1428.31,1180.33 1428.24,1179.33C1428.17,1178.33 1428.04,1177.32 1427.92,1176.32C1427.8,1175.32 1427.66,1174.32 1427.53,1173.31C1427.39,1172.31 1427.27,1171.31 1427.13,1170.3C1426.98,1169.3 1426.83,1168.3 1426.65,1167.29C1426.46,1166.29 1426.22,1165.29 1426,1164.28C1425.78,1163.28 1425.54,1162.28 1425.31,1161.28C1425.08,1160.27 1424.86,1159.27 1424.62,1158.27C1424.39,1157.26 1424.17,1156.26 1423.91,1155.26C1423.64,1154.25 1423.33,1153.25 1423.01,1152.25C1422.69,1151.24 1422.34,1150.24 1422,1149.24C1421.66,1148.24 1421.31,1147.23 1420.97,1146.23C1420.63,1145.23 1420.29,1144.22 1419.94,1143.22C1419.59,1142.22 1419.23,1141.21 1418.87,1140.21C1418.52,1139.21 1418.15,1138.2 1417.79,1137.2C1417.43,1136.2 1417.07,1135.2 1416.71,1134.19C1416.35,1133.19 1416,1132.19 1415.62,1131.18C1415.25,1130.18 1414.87,1129.18 1414.46,1128.17C1414.05,1127.17 1413.61,1126.17 1413.19,1125.16C1412.76,1124.16 1412.33,1123.16 1411.9,1122.16C1411.47,1121.15 1411.03,1120.15 1410.6,1119.15C1410.17,1118.14 1409.74,1117.14 1409.31,1116.14C1408.88,1115.13 1408.45,1114.13 1408.02,1113.13C1407.59,1112.12 1407.16,1111.12 1406.73,1110.12C1406.3,1109.12 1405.87,1108.11 1405.44,1107.11C1405.01,1106.11 1404.58,1105.1 1404.16,1104.1C1403.73,1103.1 1403.3,1102.09 1402.88,1101.09C1402.46,1100.09 1402.04,1099.08 1401.62,1098.08C1401.21,1097.08 1400.79,1096.07 1400.37,1095.07C1399.95,1094.07 1399.54,1093.07 1399.1,1092.06C1398.66,1091.06 1398.19,1090.06 1397.71,1089.05C1397.23,1088.05 1396.72,1087.05 1396.22,1086.04C1395.72,1085.04 1395.22,1084.04 1394.71,1083.03C1394.21,1082.03 1393.72,1081.03 1393.18,1080.03C1392.65,1079.02 1392.09,1078.02 1391.52,1077.02C1390.95,1076.01 1390.36,1075.01 1389.77,1074.01C1389.19,1073 1388.61,1072 1388.02,1071C1387.42,1069.99 1386.84,1068.99 1386.22,1067.99C1385.6,1066.99 1384.94,1065.98 1384.28,1064.98C1383.63,1063.98 1382.95,1062.97 1382.28,1061.97C1381.61,1060.97 1380.94,1059.96 1380.28,1058.96C1379.61,1057.96 1378.94,1056.95 1378.27,1055.95C1377.6,1054.95 1376.93,1053.95 1376.26,1052.94C1375.59,1051.94 1374.93,1050.94 1374.26,1049.93C1373.59,1048.93 1372.95,1047.93 1372.24,1046.92C1371.53,1045.92 1370.82,1044.92 1370,1043.91C1369.19,1042.91 1368.26,1041.91 1367.37,1040.91C1366.47,1039.9 1365.54,1038.9 1364.63,1037.9C1363.72,1036.89 1362.81,1035.89 1361.9,1034.89C1360.99,1033.88 1360.07,1032.88 1359.16,1031.88C1358.25,1030.87 1357.34,1029.87 1356.43,1028.87C1355.52,1027.87 1354.58,1026.86 1353.7,1025.86C1352.82,1024.86 1351.94,1023.85 1351.15,1022.85C1350.35,1021.85 1349.66,1020.84 1348.95,1019.84C1348.23,1018.84 1347.51,1017.83 1346.84,1016.83C1346.18,1015.83 1345.48,1014.82 1344.94,1013.82C1344.4,1012.82 1344.01,1011.82 1343.61,1010.81C1343.21,1009.81 1342.86,1008.81 1342.52,1007.8C1342.18,1006.8 1341.79,1005.8 1341.57,1004.79C1341.34,1003.79 1341.26,1002.79 1341.19,1001.78C1341.13,1000.78 1341.14,999.78 1341.18,998.78C1341.23,997.77 1341.28,996.77 1341.46,995.77C1341.64,994.76 1341.97,993.76 1342.25,992.76C1342.53,991.75 1342.84,990.75 1343.15,989.75C1343.45,988.74 1343.72,987.74 1344.08,986.74C1344.44,985.74 1344.84,984.73 1345.33,983.73C1345.82,982.73 1346.44,981.72 1347.01,980.72C1347.59,979.72 1348.17,978.71 1348.77,977.71C1349.36,976.71 1349.89,975.7 1350.59,974.7C1351.3,973.7 1352.1,972.7 1352.99,971.69C1353.88,970.69 1354.94,969.69 1355.93,968.68C1356.93,967.68 1357.91,966.68 1358.97,965.67C1360.03,964.67 1361.11,963.67 1362.29,962.66C1363.47,961.66 1364.78,960.66 1366.04,959.66C1367.31,958.65 1368.59,957.65 1369.87,956.65C1371.15,955.64 1372.42,954.64 1373.7,953.64C1374.98,952.63 1376.25,951.63 1377.53,950.63C1378.81,949.62 1380.08,948.62 1381.36,947.62C1382.64,946.62 1383.93,945.61 1385.18,944.61C1386.44,943.61 1387.69,942.6 1388.9,941.6C1390.11,940.6 1391.27,939.59 1392.44,938.59C1393.62,937.59 1394.79,936.58 1395.95,935.58C1397.12,934.58 1398.31,933.57 1399.44,932.57C1400.57,931.57 1401.67,930.57 1402.72,929.56C1403.78,928.56 1404.76,927.56 1405.77,926.55C1406.78,925.55 1407.78,924.55 1408.78,923.54C1409.77,922.54 1410.82,921.54 1411.72,920.53C1412.62,919.53 1413.42,918.53 1414.17,917.53C1414.92,916.52 1415.54,915.52 1416.22,914.52C1416.9,913.51 1417.58,912.51 1418.24,911.51C1418.89,910.5 1419.59,909.5 1420.17,908.5C1420.75,907.49 1421.24,906.49 1421.71,905.49C1422.19,904.49 1422.6,903.48 1423.03,902.48C1423.47,901.48 1423.92,900.47 1424.33,899.47C1424.74,898.47 1425.19,897.46 1425.51,896.46C1425.83,895.46 1426.04,894.45 1426.26,893.45C1426.48,892.45 1426.65,891.45 1426.84,890.44C1427.04,889.44 1427.23,888.44 1427.42,887.43C1427.61,886.43 1427.83,885.43 1427.97,884.42C1428.12,883.42 1428.23,882.42 1428.29,881.41C1428.35,880.41 1428.33,879.41 1428.34,878.41C1428.35,877.4 1428.35,876.4 1428.35,875.4C1428.36,874.39 1428.36,873.39 1428.37,872.39C1428.37,871.38 1428.38,870.38 1428.38,869.38C1428.39,868.37 1428.4,866.87 1428.4,866.37Z" fill="#ff9900" stroke="#000" stroke-width="1.35" stroke-linejoin="round"/>
<path d="M1643.1,910.07C1643.1,910.57 1643.11,912.06 1643.12,913.06C1643.12,914.05 1643.13,915.05 1643.14,916.05C1643.14,917.04 1643.14,918.04 1643.16,919.04C1643.17,920.03 1643.14,921.03 1643.2,922.03C1643.26,923.02 1643.37,924.02 1643.52,925.02C1643.67,926.01 1643.9,927.01 1644.1,928.01C1644.3,929 1644.49,930 1644.71,931C1644.93,931.99 1645.09,932.99 1645.39,933.99C1645.7,934.98 1646.11,935.98 1646.55,936.98C1647,937.97 1647.56,938.97 1648.07,939.97C1648.58,940.96 1649.09,941.96 1649.62,942.96C1650.16,943.95 1650.65,944.95 1651.29,945.94C1651.93,946.94 1652.69,947.94 1653.46,948.93C1654.24,949.93 1655.11,950.93 1655.94,951.92C1656.77,952.92 1657.59,953.92 1658.45,954.91C1659.31,955.91 1660.13,956.91 1661.11,957.9C1662.1,958.9 1663.23,959.9 1664.34,960.89C1665.46,961.89 1666.66,962.89 1667.82,963.88C1668.98,964.88 1670.11,965.88 1671.32,966.87C1672.54,967.87 1673.72,968.87 1675.11,969.86C1676.49,970.86 1678.08,971.86 1679.63,972.85C1681.18,973.85 1682.82,974.85 1684.41,975.84C1686,976.84 1687.6,977.84 1689.17,978.83C1690.75,979.83 1692.31,980.83 1693.87,981.82C1695.42,982.82 1697.01,983.82 1698.51,984.81C1700.01,985.81 1701.58,986.81 1702.88,987.8C1704.17,988.8 1705.22,989.8 1706.28,990.79C1707.35,991.79 1708.34,992.79 1709.28,993.78C1710.22,994.78 1711.19,995.77 1711.93,996.77C1712.68,997.77 1713.19,998.76 1713.74,999.76C1714.29,1000.76 1714.76,1001.75 1715.24,1002.75C1715.73,1003.75 1716.24,1004.74 1716.66,1005.74C1717.08,1006.74 1717.41,1007.73 1717.75,1008.73C1718.08,1009.73 1718.34,1010.72 1718.66,1011.72C1718.97,1012.72 1719.21,1013.71 1719.64,1014.71C1720.06,1015.71 1720.59,1016.7 1721.19,1017.7C1721.79,1018.7 1722.53,1019.69 1723.23,1020.69C1723.93,1021.69 1724.55,1022.68 1725.39,1023.68C1726.23,1024.68 1727.15,1025.67 1728.26,1026.67C1729.38,1027.67 1730.78,1028.66 1732.08,1029.66C1733.38,1030.66 1734.72,1031.65 1736.08,1032.65C1737.43,1033.65 1738.81,1034.64 1740.2,1035.64C1741.59,1036.64 1743.12,1037.63 1744.41,1038.63C1745.69,1039.63 1747,1040.62 1747.89,1041.62C1748.77,1042.62 1749.46,1043.61 1749.73,1044.61C1750,1045.6 1749.93,1046.6 1749.5,1047.6C1749.08,1048.59 1748.28,1049.59 1747.16,1050.59C1746.04,1051.58 1744.4,1052.58 1742.79,1053.58C1741.18,1054.57 1739.42,1055.57 1737.5,1056.57C1735.58,1057.56 1733.44,1058.56 1731.28,1059.56C1729.13,1060.55 1726.7,1061.55 1724.57,1062.55C1722.44,1063.54 1720.41,1064.54 1718.51,1065.54C1716.62,1066.53 1714.89,1067.53 1713.2,1068.53C1711.51,1069.52 1709.76,1070.52 1708.35,1071.52C1706.95,1072.51 1705.86,1073.51 1704.76,1074.51C1703.66,1075.5 1702.74,1076.5 1701.75,1077.5C1700.75,1078.49 1699.74,1079.49 1698.81,1080.49C1697.87,1081.48 1696.98,1082.48 1696.12,1083.48C1695.25,1084.47 1694.44,1085.47 1693.61,1086.47C1692.78,1087.46 1691.97,1088.46 1691.12,1089.46C1690.26,1090.45 1689.46,1091.45 1688.49,1092.44C1687.52,1093.44 1686.42,1094.44 1685.31,1095.43C1684.2,1096.43 1683,1097.43 1681.84,1098.42C1680.68,1099.42 1679.52,1100.42 1678.35,1101.41C1677.18,1102.41 1676.02,1103.41 1674.84,1104.4C1673.66,1105.4 1672.47,1106.4 1671.28,1107.39C1670.09,1108.39 1668.86,1109.39 1667.69,1110.38C1666.53,1111.38 1665.28,1112.38 1664.27,1113.37C1663.26,1114.37 1662.43,1115.37 1661.64,1116.36C1660.84,1117.36 1660.2,1118.36 1659.51,1119.35C1658.82,1120.35 1658.06,1121.35 1657.49,1122.34C1656.92,1123.34 1656.46,1124.34 1656.09,1125.33C1655.72,1126.33 1655.55,1127.33 1655.3,1128.32C1655.05,1129.32 1654.79,1130.32 1654.59,1131.31C1654.39,1132.31 1654.2,1133.31 1654.08,1134.3C1653.96,1135.3 1653.93,1136.3 1653.87,1137.29C1653.81,1138.29 1653.77,1139.29 1653.72,1140.28C1653.67,1141.28 1653.62,1142.27 1653.56,1143.27C1653.5,1144.27 1653.43,1145.26 1653.34,1146.26C1653.26,1147.26 1653.15,1148.25 1653.05,1149.25C1652.95,1150.25 1652.87,1151.24 1652.74,1152.24C1652.62,1153.24 1652.49,1154.23 1652.29,1155.23C1652.1,1156.23 1651.84,1157.22 1651.6,1158.22C1651.35,1159.22 1651.09,1160.21 1650.84,1161.21C1650.59,1162.21 1650.35,1163.2 1650.07,1164.2C1649.8,1165.2 1649.52,1166.19 1649.2,1167.19C1648.89,1168.19 1648.53,1169.18 1648.19,1170.18C1647.84,1171.18 1647.49,1172.17 1647.14,1173.17C1646.8,1174.17 1646.43,1175.16 1646.13,1176.16C1645.82,1177.16 1645.55,1178.15 1645.32,1179.15C1645.09,1180.15 1644.92,1181.14 1644.73,1182.14C1644.54,1183.14 1644.36,1184.13 1644.18,1185.13C1644,1186.13 1643.79,1187.12 1643.66,1188.12C1643.53,1189.12 1643.44,1190.11 1643.39,1191.11C1643.33,1192.1 1643.33,1193.1 1643.3,1194.1C1643.28,1195.09 1643.26,1196.09 1643.24,1197.09C1643.22,1198.08 1643.2,1199.08 1643.18,1200.08C1643.15,1201.07 1643.11,1202.57 1643.1,1203.07L1643.02,1200.08C1643.01,1199.58 1642.98,1198.08 1642.96,1197.09C1642.94,1196.09 1642.92,1195.09 1642.9,1194.1C1642.87,1193.1 1642.87,1192.1 1642.81,1191.11C1642.76,1190.11 1642.67,1189.12 1642.54,1188.12C1642.41,1187.12 1642.2,1186.13 1642.02,1185.13C1641.84,1184.13 1641.66,1183.14 1641.47,1182.14C1641.28,1181.14 1641.11,1180.15 1640.88,1179.15C1640.65,1178.15 1640.38,1177.16 1640.07,1176.16C1639.77,1175.16 1639.4,1174.17 1639.06,1173.17C1638.71,1172.17 1638.36,1171.18 1638.01,1170.18C1637.67,1169.18 1637.31,1168.19 1637,1167.19C1636.68,1166.19 1636.4,1165.2 1636.13,1164.2C1635.85,1163.2 1635.61,1162.21 1635.36,1161.21C1635.11,1160.21 1634.85,1159.22 1634.6,1158.22C1634.36,1157.22 1634.1,1156.23 1633.91,1155.23C1633.71,1154.23 1633.58,1153.24 1633.46,1152.24C1633.33,1151.24 1633.25,1150.25 1633.15,1149.25C1633.05,1148.25 1632.94,1147.26 1632.86,1146.26C1632.77,1145.26 1632.7,1144.27 1632.64,1143.27C1632.58,1142.27 1632.53,1141.28 1632.48,1140.28C1632.43,1139.29 1632.39,1138.29 1632.33,1137.29C1632.27,1136.3 1632.24,1135.3 1632.12,1134.3C1632,1133.31 1631.81,1132.31 1631.61,1131.31C1631.41,1130.32 1631.15,1129.32 1630.9,1128.32C1630.65,1127.33 1630.48,1126.33 1630.11,1125.33C1629.74,1124.34 1629.28,1123.34 1628.71,1122.34C1628.14,1121.35 1627.38,1120.35 1626.69,1119.35C1626,1118.36 1625.36,1117.36 1624.56,1116.36C1623.77,1115.37 1622.94,1114.37 1621.93,1113.37C1620.92,1112.38 1619.67,1111.38 1618.51,1110.38C1617.34,1109.39 1616.11,1108.39 1614.92,1107.39C1613.73,1106.4 1612.54,1105.4 1611.36,1104.4C1610.18,1103.41 1609.02,1102.41 1607.85,1101.41C1606.68,1100.42 1605.52,1099.42 1604.36,1098.42C1603.2,1097.43 1602,1096.43 1600.89,1095.43C1599.78,1094.44 1598.68,1093.44 1597.71,1092.44C1596.74,1091.45 1595.94,1090.45 1595.08,1089.46C1594.23,1088.46 1593.42,1087.46 1592.59,1086.47C1591.76,1085.47 1590.95,1084.47 1590.08,1083.48C1589.22,1082.48 1588.33,1081.48 1587.39,1080.49C1586.46,1079.49 1585.45,1078.49 1584.45,1077.5C1583.46,1076.5 1582.54,1075.5 1581.44,1074.51C1580.34,1073.51 1579.25,1072.51 1577.85,1071.52C1576.44,1070.52 1574.69,1069.52 1573,1068.53C1571.31,1067.53 1569.58,1066.53 1567.69,1065.54C1565.79,1064.54 1563.76,1063.54 1561.63,1062.55C1559.5,1061.55 1557.07,1060.55 1554.92,1059.56C1552.76,1058.56 1550.62,1057.56 1548.7,1056.57C1546.78,1055.57 1545.02,1054.57 1543.41,1053.58C1541.8,1052.58 1540.16,1051.58 1539.04,1050.59C1537.92,1049.59 1537.12,1048.59 1536.7,1047.6C1536.27,1046.6 1536.2,1045.6 1536.47,1044.61C1536.74,1043.61 1537.43,1042.62 1538.31,1041.62C1539.2,1040.62 1540.51,1039.63 1541.79,1038.63C1543.08,1037.63 1544.61,1036.64 1546,1035.64C1547.39,1034.64 1548.77,1033.65 1550.12,1032.65C1551.48,1031.65 1552.82,1030.66 1554.12,1029.66C1555.42,1028.66 1556.82,1027.67 1557.94,1026.67C1559.05,1025.67 1559.97,1024.68 1560.81,1023.68C1561.65,1022.68 1562.27,1021.69 1562.97,1020.69C1563.67,1019.69 1564.41,1018.7 1565.01,1017.7C1565.61,1016.7 1566.14,1015.71 1566.56,1014.71C1566.99,1013.71 1567.23,1012.72 1567.54,1011.72C1567.86,1010.72 1568.12,1009.73 1568.45,1008.73C1568.79,1007.73 1569.12,1006.74 1569.54,1005.74C1569.96,1004.74 1570.47,1003.75 1570.96,1002.75C1571.44,1001.75 1571.91,1000.76 1572.46,999.76C1573.01,998.76 1573.52,997.77 1574.27,996.77C1575.01,995.77 1575.98,994.78 1576.92,993.78C1577.86,992.79 1578.85,991.79 1579.92,990.79C1580.98,989.8 1582.03,988.8 1583.32,987.8C1584.62,986.81 1586.19,985.81 1587.69,984.81C1589.19,983.82 1590.78,982.82 1592.33,981.82C1593.89,980.83 1595.45,979.83 1597.03,978.83C1598.6,977.84 1600.2,976.84 1601.79,975.84C1603.38,974.85 1605.02,973.85 1606.57,972.85C1608.12,971.86 1609.71,970.86 1611.09,969.86C1612.48,968.87 1613.66,967.87 1614.88,966.87C1616.09,965.88 1617.22,964.88 1618.38,963.88C1619.54,962.89 1620.74,961.89 1621.86,960.89C1622.97,959.9 1624.1,958.9 1625.09,957.9C1626.07,956.91 1626.89,955.91 1627.75,954.91C1628.61,953.92 1629.43,952.92 1630.26,951.92C1631.09,950.93 1631.96,949.93 1632.74,948.93C1633.51,947.94 1634.27,946.94 1634.91,945.94C1635.55,944.95 1636.04,943.95 1636.58,942.96C1637.11,941.96 1637.62,940.96 1638.13,939.97C1638.64,938.97 1639.2,937.97 1639.65,936.98C1640.09,935.98 1640.5,934.98 1640.81,933.99C1641.11,932.99 1641.27,931.99 1641.49,931C1641.71,930 1641.9,929 1642.1,928.01C1642.3,927.01 1642.53,926.01 1642.68,925.02C1642.83,924.02 1642.94,923.02 1643,922.03C1643.06,921.03 1643.03,920.03 1643.04,919.04C1643.06,918.04 1643.06,917.04 1643.06,916.05C1643.07,915.05 1643.08,914.05 1643.08,913.06C1643.09,912.06 1643.1,910.57 1643.1,910.07Z" fill="#ff0000" stroke="#000" stroke-width="1.35" stroke-linejoin="round"/>
<path d="M1213.7,901.8L1213.7,964.8M1213.7,1027.2L1213.7,1105.9" stroke="#000" stroke-width="1.35" fill="none"/>
<rect x="1192.5" y="964.8" width="42.7" height="62.4" fill="#fff" stroke="#000" stroke-width="1.35"/>
<line x1="1192.5" y1="994.4" x2="1235.2" y2="994.4" stroke="#000" stroke-width="2.6"/>
<circle cx="1213.7" cy="1126.1" r="3.2" fill="#000"/>
<path d="M1428.4,916.4L1428.4,977.3M1428.4,1046.4L1428.4,1141.5" stroke="#000" stroke-width="1.35" fill="none"/>
<rect x="1406.8" y="977.3" width="43.3" height="69.1" fill="#fff" stroke="#000" stroke-width="1.35"/>
<line x1="1406.8" y1="1009.3" x2="1450.1" y2="1009.3" stroke="#000" stroke-width="2.6"/>
<path d="M1643.1,955.3L1643.1,1009.6M1643.1,1061.2L1643.1,1131.1" stroke="#000" stroke-width="1.35" fill="none"/>
<rect x="1621.6" y="1009.6" width="42.9" height="51.6" fill="#fff" stroke="#000" stroke-width="1.35"/>
<line x1="1621.6" y1="1041.6" x2="1664.5" y2="1041.6" stroke="#000" stroke-width="2.6"/>
<circle cx="1643.1" cy="1148.3" r="3.2" fill="#000"/>
<circle cx="1643.1" cy="1158.7" r="3.2" fill="#000"/>
<path d="M1213.7,835.2L1213.7,827.5L1643.1,827.5L1643.1,835.2" fill="none" stroke="#333" stroke-width="1"/>
<text x="1428.4" y="820.7" font-size="14.5" text-anchor="middle" fill="#000">***</text>
<path d="M1428.4,866.2L1428.4,858.5L1643.1,858.5L1643.1,866.2" fill="none" stroke="#333" stroke-width="1"/>
<text x="1535.75" y="851.7" font-size="14.5" text-anchor="middle" fill="#000">***</text>
<path d="M1213.7,896.6L1213.7,888.9L1428.4,888.9L1428.4,896.6" fill="none" stroke="#333" stroke-width="1"/>
<text x="1321.05" y="882.5" font-size="14.5" text-anchor="middle" fill="#000">**</text>
<path d="M1085,808.75L1085,1222L1771,1222" fill="none" stroke="#000" stroke-width="1.4"/>
<g stroke="#000" stroke-width="1.4">
<line x1="1081" y1="851.7" x2="1085" y2="851.7"/>
<line x1="1081" y1="976.3" x2="1085" y2="976.3"/>
<line x1="1081" y1="1100.7" x2="1085" y2="1100.7"/>
<line x1="1213.7" y1="1222" x2="1213.7" y2="1226.2"/>
<line x1="1428.4" y1="1222" x2="1428.4" y2="1226.2"/>
<line x1="1643.1" y1="1222" x2="1643.1" y2="1226.2"/>
</g>
<text x="1077.3" y="858.2" font-size="15.8" text-anchor="end" fill="#000">4000</text>
<text x="1077.3" y="982.8" font-size="15.8" text-anchor="end" fill="#000">2000</text>
<text x="1077.3" y="1107.2" font-size="15.8" text-anchor="end" fill="#000">0</text>
<text x="1213.7" y="1240.8" font-size="15.8" text-anchor="middle" fill="#000">low</text>
<text x="1428.4" y="1240.8" font-size="15.8" text-anchor="middle" fill="#000">medium</text>
<text x="1643.1" y="1240.8" font-size="15.8" text-anchor="middle" fill="#000">high</text>
<text x="1428.4" y="1260" font-size="15.8" text-anchor="middle" fill="#000">Risk Level</text>
<text transform="translate(1035,1015) rotate(-90)" font-size="15.8" text-anchor="middle" fill="#000">ImmuneScore</text>
<text x="1288.4" y="778.7" font-size="15.7" text-anchor="start" fill="#000">Risk Level</text>
<rect x="1369.2" y="762.4" width="21.5" height="21.3" fill="#0066ff" stroke="#000" stroke-width="1.3"/>
<text x="1399.6" y="778.1" font-size="13.33" text-anchor="start" fill="#000">low</text>
<rect x="1427.6" y="762.4" width="21.5" height="21.3" fill="#ff9900" stroke="#000" stroke-width="1.3"/>
<text x="1458" y="778.1" font-size="13.33" text-anchor="start" fill="#000">medium</text>
<rect x="1513.7" y="762.4" width="21.5" height="21.3" fill="#ff0000" stroke="#000" stroke-width="1.3"/>
<text x="1544.1" y="778.1" font-size="13.33" text-anchor="start" fill="#000">high</text>
<text transform="translate(1009,781) scale(1,1.045)" font-size="45" fill="#000">D</text>
<path d="M208.4,1435.25C208.4,1435.75 208.41,1437.25 208.42,1438.26C208.42,1439.26 208.43,1440.26 208.43,1441.27C208.44,1442.27 208.44,1443.27 208.45,1444.27C208.45,1445.28 208.46,1446.28 208.46,1447.28C208.47,1448.29 208.47,1449.29 208.48,1450.29C208.49,1451.29 208.47,1452.3 208.52,1453.3C208.57,1454.3 208.66,1455.31 208.77,1456.31C208.88,1457.31 209.04,1458.31 209.19,1459.32C209.33,1460.32 209.47,1461.32 209.62,1462.33C209.77,1463.33 209.89,1464.33 210.06,1465.34C210.23,1466.34 210.38,1467.34 210.63,1468.34C210.89,1469.35 211.26,1470.35 211.61,1471.35C211.96,1472.36 212.36,1473.36 212.73,1474.36C213.11,1475.36 213.47,1476.37 213.85,1477.37C214.23,1478.37 214.56,1479.38 215.01,1480.38C215.46,1481.38 215.95,1482.38 216.53,1483.39C217.11,1484.39 217.82,1485.39 218.49,1486.4C219.15,1487.4 219.83,1488.4 220.5,1489.4C221.18,1490.41 221.83,1491.41 222.55,1492.41C223.26,1493.42 224.01,1494.42 224.8,1495.42C225.59,1496.43 226.45,1497.43 227.28,1498.43C228.11,1499.43 228.95,1500.44 229.79,1501.44C230.63,1502.44 231.46,1503.45 232.3,1504.45C233.15,1505.45 234,1506.45 234.85,1507.46C235.7,1508.46 236.57,1509.46 237.43,1510.47C238.28,1511.47 239.14,1512.47 240,1513.47C240.86,1514.48 241.71,1515.48 242.59,1516.48C243.46,1517.49 244.32,1518.49 245.25,1519.49C246.18,1520.49 247.17,1521.5 248.16,1522.5C249.14,1523.5 250.16,1524.51 251.16,1525.51C252.17,1526.51 253.17,1527.51 254.17,1528.52C255.18,1529.52 256.17,1530.52 257.19,1531.53C258.21,1532.53 259.24,1533.53 260.3,1534.54C261.35,1535.54 262.44,1536.54 263.52,1537.54C264.59,1538.55 265.68,1539.55 266.76,1540.55C267.84,1541.56 268.9,1542.56 270.01,1543.56C271.11,1544.56 272.21,1545.57 273.4,1546.57C274.59,1547.57 275.88,1548.58 277.14,1549.58C278.4,1550.58 279.69,1551.58 280.97,1552.59C282.25,1553.59 283.51,1554.59 284.82,1555.6C286.13,1556.6 287.47,1557.6 288.84,1558.6C290.21,1559.61 291.64,1560.61 293.04,1561.61C294.43,1562.62 295.9,1563.62 297.21,1564.62C298.53,1565.63 299.81,1566.63 300.91,1567.63C302.01,1568.63 302.87,1569.64 303.8,1570.64C304.73,1571.64 305.65,1572.65 306.5,1573.65C307.35,1574.65 308.24,1575.65 308.9,1576.66C309.56,1577.66 310,1578.66 310.46,1579.67C310.92,1580.67 311.29,1581.67 311.67,1582.67C312.05,1583.68 312.5,1584.68 312.74,1585.68C312.98,1586.69 313.07,1587.69 313.13,1588.69C313.18,1589.69 313.08,1590.7 313.04,1591.7C313,1592.7 313.01,1593.71 312.88,1594.71C312.76,1595.71 312.57,1596.71 312.3,1597.72C312.02,1598.72 311.59,1599.72 311.22,1600.73C310.85,1601.73 310.46,1602.73 310.07,1603.74C309.67,1604.74 309.34,1605.74 308.86,1606.74C308.37,1607.75 307.81,1608.75 307.16,1609.75C306.51,1610.76 305.71,1611.76 304.97,1612.76C304.22,1613.76 303.47,1614.77 302.71,1615.77C301.95,1616.77 301.22,1617.78 300.42,1618.78C299.62,1619.78 298.77,1620.78 297.89,1621.79C297.02,1622.79 296.07,1623.79 295.16,1624.8C294.24,1625.8 293.32,1626.8 292.4,1627.8C291.48,1628.81 290.57,1629.81 289.62,1630.81C288.67,1631.82 287.7,1632.82 286.72,1633.82C285.73,1634.83 284.72,1635.83 283.72,1636.83C282.72,1637.83 281.7,1638.84 280.71,1639.84C279.73,1640.84 278.69,1641.85 277.81,1642.85C276.93,1643.85 276.16,1644.85 275.42,1645.86C274.68,1646.86 274.06,1647.86 273.39,1648.87C272.71,1649.87 272.03,1650.87 271.38,1651.87C270.73,1652.88 270.04,1653.88 269.47,1654.88C268.9,1655.89 268.42,1656.89 267.96,1657.89C267.5,1658.89 267.11,1659.9 266.69,1660.9C266.27,1661.9 265.88,1662.91 265.43,1663.91C264.99,1664.91 264.6,1665.91 264.04,1666.92C263.48,1667.92 262.78,1668.92 262.08,1669.93C261.38,1670.93 260.59,1671.93 259.84,1672.94C259.08,1673.94 258.38,1674.94 257.57,1675.94C256.76,1676.95 256.04,1677.95 254.99,1678.95C253.94,1679.96 252.59,1680.96 251.27,1681.96C249.96,1682.96 248.48,1683.97 247.08,1684.97C245.69,1685.97 244.26,1686.98 242.92,1687.98C241.58,1688.98 240.31,1689.98 239.06,1690.99C237.81,1691.99 236.63,1692.99 235.43,1694C234.23,1695 232.96,1696 231.87,1697C230.77,1698.01 229.74,1699.01 228.87,1700.01C228,1701.02 227.36,1702.02 226.63,1703.02C225.91,1704.03 225.19,1705.03 224.54,1706.03C223.88,1707.03 223.21,1708.04 222.71,1709.04C222.2,1710.04 221.87,1711.05 221.5,1712.05C221.13,1713.05 220.83,1714.05 220.49,1715.06C220.16,1716.06 219.81,1717.06 219.49,1718.07C219.17,1719.07 218.84,1720.07 218.55,1721.07C218.26,1722.08 218.02,1723.08 217.76,1724.08C217.5,1725.09 217.25,1726.09 216.99,1727.09C216.74,1728.09 216.49,1729.1 216.23,1730.1C215.98,1731.1 215.72,1732.11 215.47,1733.11C215.21,1734.11 214.95,1735.11 214.69,1736.12C214.44,1737.12 214.18,1738.12 213.92,1739.13C213.66,1740.13 213.4,1741.13 213.15,1742.14C212.89,1743.14 212.64,1744.14 212.4,1745.14C212.16,1746.15 211.93,1747.15 211.69,1748.15C211.46,1749.16 211.22,1750.16 210.99,1751.16C210.76,1752.16 210.51,1753.17 210.3,1754.17C210.09,1755.17 209.9,1756.18 209.74,1757.18C209.58,1758.18 209.47,1759.18 209.34,1760.19C209.22,1761.19 209.1,1762.19 208.98,1763.2C208.86,1764.2 208.72,1765.2 208.62,1766.2C208.53,1767.21 208.46,1768.21 208.42,1769.21C208.39,1770.22 208.4,1771.22 208.4,1772.22C208.4,1773.23 208.4,1774.23 208.4,1775.23C208.4,1776.23 208.4,1777.24 208.4,1778.24C208.4,1779.24 208.4,1780.75 208.4,1781.25L208.4,1778.24C208.4,1777.74 208.4,1776.23 208.4,1775.23C208.4,1774.23 208.4,1773.23 208.4,1772.22C208.4,1771.22 208.41,1770.22 208.38,1769.21C208.34,1768.21 208.27,1767.21 208.18,1766.2C208.08,1765.2 207.94,1764.2 207.82,1763.2C207.7,1762.19 207.58,1761.19 207.46,1760.19C207.33,1759.18 207.22,1758.18 207.06,1757.18C206.9,1756.18 206.71,1755.17 206.5,1754.17C206.29,1753.17 206.04,1752.16 205.81,1751.16C205.58,1750.16 205.34,1749.16 205.11,1748.15C204.87,1747.15 204.64,1746.15 204.4,1745.14C204.16,1744.14 203.91,1743.14 203.65,1742.14C203.4,1741.13 203.14,1740.13 202.88,1739.13C202.62,1738.12 202.36,1737.12 202.11,1736.12C201.85,1735.11 201.59,1734.11 201.33,1733.11C201.08,1732.11 200.82,1731.1 200.57,1730.1C200.31,1729.1 200.06,1728.09 199.81,1727.09C199.55,1726.09 199.3,1725.09 199.04,1724.08C198.78,1723.08 198.54,1722.08 198.25,1721.07C197.96,1720.07 197.63,1719.07 197.31,1718.07C196.99,1717.06 196.64,1716.06 196.31,1715.06C195.97,1714.05 195.67,1713.05 195.3,1712.05C194.93,1711.05 194.6,1710.04 194.09,1709.04C193.59,1708.04 192.92,1707.03 192.26,1706.03C191.61,1705.03 190.89,1704.03 190.17,1703.02C189.44,1702.02 188.8,1701.02 187.93,1700.01C187.06,1699.01 186.03,1698.01 184.93,1697C183.84,1696 182.57,1695 181.37,1694C180.17,1692.99 178.99,1691.99 177.74,1690.99C176.49,1689.98 175.22,1688.98 173.88,1687.98C172.54,1686.98 171.11,1685.97 169.72,1684.97C168.32,1683.97 166.84,1682.96 165.53,1681.96C164.21,1680.96 162.86,1679.96 161.81,1678.95C160.76,1677.95 160.04,1676.95 159.23,1675.94C158.42,1674.94 157.72,1673.94 156.96,1672.94C156.21,1671.93 155.42,1670.93 154.72,1669.93C154.02,1668.92 153.32,1667.92 152.76,1666.92C152.2,1665.91 151.81,1664.91 151.37,1663.91C150.92,1662.91 150.53,1661.9 150.11,1660.9C149.69,1659.9 149.3,1658.89 148.84,1657.89C148.38,1656.89 147.9,1655.89 147.33,1654.88C146.76,1653.88 146.07,1652.88 145.42,1651.87C144.77,1650.87 144.09,1649.87 143.41,1648.87C142.74,1647.86 142.12,1646.86 141.38,1645.86C140.64,1644.85 139.87,1643.85 138.99,1642.85C138.11,1641.85 137.07,1640.84 136.09,1639.84C135.1,1638.84 134.08,1637.83 133.08,1636.83C132.08,1635.83 131.07,1634.83 130.08,1633.82C129.1,1632.82 128.13,1631.82 127.18,1630.81C126.23,1629.81 125.32,1628.81 124.4,1627.8C123.48,1626.8 122.56,1625.8 121.64,1624.8C120.73,1623.79 119.78,1622.79 118.91,1621.79C118.03,1620.78 117.18,1619.78 116.38,1618.78C115.58,1617.78 114.85,1616.77 114.09,1615.77C113.33,1614.77 112.58,1613.76 111.83,1612.76C111.09,1611.76 110.29,1610.76 109.64,1609.75C108.99,1608.75 108.43,1607.75 107.94,1606.74C107.46,1605.74 107.13,1604.74 106.73,1603.74C106.34,1602.73 105.95,1601.73 105.58,1600.73C105.21,1599.72 104.78,1598.72 104.5,1597.72C104.23,1596.71 104.04,1595.71 103.92,1594.71C103.79,1593.71 103.8,1592.7 103.76,1591.7C103.72,1590.7 103.62,1589.69 103.67,1588.69C103.73,1587.69 103.82,1586.69 104.06,1585.68C104.3,1584.68 104.75,1583.68 105.13,1582.67C105.51,1581.67 105.88,1580.67 106.34,1579.67C106.8,1578.66 107.24,1577.66 107.9,1576.66C108.56,1575.65 109.45,1574.65 110.3,1573.65C111.15,1572.65 112.07,1571.64 113,1570.64C113.93,1569.64 114.79,1568.63 115.89,1567.63C116.99,1566.63 118.27,1565.63 119.59,1564.62C120.9,1563.62 122.37,1562.62 123.76,1561.61C125.16,1560.61 126.59,1559.61 127.96,1558.6C129.33,1557.6 130.67,1556.6 131.98,1555.6C133.29,1554.59 134.55,1553.59 135.83,1552.59C137.11,1551.58 138.4,1550.58 139.66,1549.58C140.92,1548.58 142.21,1547.57 143.4,1546.57C144.59,1545.57 145.69,1544.56 146.79,1543.56C147.9,1542.56 148.96,1541.56 150.04,1540.55C151.12,1539.55 152.21,1538.55 153.28,1537.54C154.36,1536.54 155.45,1535.54 156.5,1534.54C157.56,1533.53 158.59,1532.53 159.61,1531.53C160.63,1530.52 161.62,1529.52 162.63,1528.52C163.63,1527.51 164.63,1526.51 165.64,1525.51C166.64,1524.51 167.66,1523.5 168.64,1522.5C169.63,1521.5 170.62,1520.49 171.55,1519.49C172.48,1518.49 173.34,1517.49 174.21,1516.48C175.09,1515.48 175.94,1514.48 176.8,1513.47C177.66,1512.47 178.52,1511.47 179.37,1510.47C180.23,1509.46 181.1,1508.46 181.95,1507.46C182.8,1506.45 183.65,1505.45 184.5,1504.45C185.34,1503.45 186.17,1502.44 187.01,1501.44C187.85,1500.44 188.69,1499.43 189.52,1498.43C190.35,1497.43 191.21,1496.43 192,1495.42C192.79,1494.42 193.54,1493.42 194.25,1492.41C194.97,1491.41 195.62,1490.41 196.3,1489.4C196.97,1488.4 197.65,1487.4 198.31,1486.4C198.98,1485.39 199.69,1484.39 200.27,1483.39C200.85,1482.38 201.34,1481.38 201.79,1480.38C202.24,1479.38 202.57,1478.37 202.95,1477.37C203.33,1476.37 203.69,1475.36 204.07,1474.36C204.44,1473.36 204.84,1472.36 205.19,1471.35C205.54,1470.35 205.91,1469.35 206.17,1468.34C206.42,1467.34 206.57,1466.34 206.74,1465.34C206.91,1464.33 207.03,1463.33 207.18,1462.33C207.33,1461.32 207.47,1460.32 207.61,1459.32C207.76,1458.31 207.92,1457.31 208.03,1456.31C208.14,1455.31 208.23,1454.3 208.28,1453.3C208.33,1452.3 208.31,1451.29 208.32,1450.29C208.33,1449.29 208.33,1448.29 208.34,1447.28C208.34,1446.28 208.35,1445.28 208.35,1444.27C208.36,1443.27 208.36,1442.27 208.37,1441.27C208.37,1440.26 208.38,1439.26 208.38,1438.26C208.39,1437.25 208.4,1435.75 208.4,1435.25Z" fill="#0066ff" stroke="#000" stroke-width="1.35" stroke-linejoin="round"/>
<path d="M427.2,1426.43C427.2,1426.93 427.21,1428.43 427.22,1429.43C427.22,1430.43 427.23,1431.43 427.24,1432.43C427.24,1433.43 427.25,1434.43 427.25,1435.43C427.26,1436.43 427.26,1437.43 427.27,1438.43C427.29,1439.43 427.26,1440.43 427.34,1441.43C427.42,1442.43 427.58,1443.43 427.76,1444.43C427.95,1445.43 428.23,1446.43 428.46,1447.43C428.7,1448.43 428.94,1449.43 429.19,1450.43C429.43,1451.43 429.65,1452.43 429.95,1453.43C430.26,1454.43 430.63,1455.43 431.03,1456.43C431.42,1457.43 431.88,1458.43 432.3,1459.43C432.73,1460.43 433.16,1461.43 433.6,1462.43C434.04,1463.43 434.45,1464.43 434.96,1465.43C435.47,1466.43 436.06,1467.43 436.67,1468.43C437.27,1469.43 437.95,1470.43 438.59,1471.43C439.23,1472.43 439.88,1473.43 440.53,1474.43C441.17,1475.43 441.79,1476.43 442.47,1477.43C443.16,1478.43 443.84,1479.43 444.65,1480.43C445.45,1481.43 446.39,1482.43 447.3,1483.43C448.21,1484.43 449.16,1485.43 450.08,1486.43C451.01,1487.43 451.94,1488.43 452.87,1489.43C453.8,1490.43 454.72,1491.43 455.67,1492.43C456.62,1493.43 457.59,1494.43 458.57,1495.43C459.55,1496.43 460.56,1497.43 461.56,1498.43C462.56,1499.43 463.56,1500.43 464.56,1501.43C465.56,1502.43 466.56,1503.43 467.56,1504.43C468.55,1505.43 469.55,1506.43 470.52,1507.43C471.48,1508.43 472.42,1509.43 473.36,1510.43C474.29,1511.43 475.21,1512.43 476.14,1513.43C477.07,1514.43 478,1515.43 478.93,1516.43C479.85,1517.43 480.82,1518.43 481.69,1519.43C482.56,1520.43 483.4,1521.43 484.14,1522.43C484.88,1523.43 485.49,1524.43 486.14,1525.43C486.79,1526.43 487.43,1527.43 488.07,1528.43C488.71,1529.43 489.36,1530.43 490,1531.43C490.64,1532.43 491.29,1533.43 491.9,1534.43C492.52,1535.43 493.11,1536.43 493.69,1537.43C494.28,1538.43 494.84,1539.43 495.41,1540.43C495.98,1541.43 496.55,1542.43 497.13,1543.43C497.7,1544.43 498.25,1545.43 498.85,1546.43C499.44,1547.43 500.03,1548.43 500.68,1549.43C501.33,1550.43 502.05,1551.43 502.76,1552.43C503.46,1553.43 504.19,1554.43 504.9,1555.43C505.61,1556.43 506.33,1557.43 507.04,1558.43C507.75,1559.43 508.48,1560.43 509.17,1561.43C509.87,1562.43 510.54,1563.43 511.2,1564.43C511.86,1565.43 512.5,1566.43 513.14,1567.43C513.79,1568.43 514.43,1569.43 515.07,1570.43C515.71,1571.43 516.38,1572.43 516.99,1573.43C517.61,1574.43 518.26,1575.43 518.78,1576.43C519.3,1577.43 519.7,1578.43 520.12,1579.43C520.53,1580.43 520.89,1581.43 521.27,1582.43C521.66,1583.43 522.07,1584.43 522.42,1585.43C522.77,1586.43 523.15,1587.43 523.37,1588.43C523.58,1589.43 523.64,1590.43 523.72,1591.43C523.8,1592.43 523.87,1593.43 523.84,1594.43C523.8,1595.43 523.72,1596.43 523.51,1597.43C523.3,1598.43 522.91,1599.43 522.6,1600.43C522.28,1601.43 521.94,1602.43 521.6,1603.43C521.26,1604.43 520.97,1605.43 520.56,1606.43C520.14,1607.43 519.67,1608.43 519.1,1609.43C518.54,1610.43 517.82,1611.43 517.17,1612.43C516.51,1613.43 515.84,1614.43 515.17,1615.43C514.5,1616.43 513.85,1617.43 513.14,1618.43C512.43,1619.43 511.68,1620.43 510.9,1621.43C510.11,1622.43 509.25,1623.43 508.42,1624.43C507.59,1625.43 506.76,1626.43 505.92,1627.43C505.08,1628.43 504.28,1629.43 503.39,1630.43C502.51,1631.43 501.58,1632.43 500.63,1633.43C499.67,1634.43 498.65,1635.43 497.65,1636.43C496.65,1637.43 495.65,1638.43 494.65,1639.43C493.65,1640.43 492.65,1641.43 491.65,1642.43C490.65,1643.43 489.65,1644.43 488.65,1645.43C487.65,1646.43 486.65,1647.43 485.65,1648.43C484.65,1649.43 483.65,1650.43 482.65,1651.43C481.65,1652.43 480.65,1653.43 479.65,1654.43C478.65,1655.43 477.65,1656.43 476.65,1657.43C475.65,1658.43 474.65,1659.43 473.65,1660.43C472.65,1661.43 471.64,1662.43 470.65,1663.43C469.66,1664.43 468.64,1665.43 467.7,1666.43C466.76,1667.43 465.89,1668.43 465.02,1669.43C464.16,1670.43 463.34,1671.43 462.51,1672.43C461.68,1673.43 460.83,1674.43 460.01,1675.43C459.19,1676.43 458.34,1677.43 457.57,1678.43C456.8,1679.43 456.1,1680.43 455.41,1681.43C454.71,1682.43 454.07,1683.43 453.4,1684.43C452.73,1685.43 452.07,1686.43 451.4,1687.43C450.73,1688.43 450.07,1689.43 449.4,1690.43C448.73,1691.43 448.07,1692.43 447.4,1693.43C446.73,1694.43 446.06,1695.43 445.4,1696.43C444.73,1697.43 444.05,1698.43 443.4,1699.43C442.74,1700.43 442.07,1701.43 441.48,1702.43C440.88,1703.43 440.37,1704.43 439.84,1705.43C439.31,1706.43 438.83,1707.43 438.33,1708.43C437.82,1709.43 437.31,1710.43 436.82,1711.43C436.32,1712.43 435.82,1713.43 435.36,1714.43C434.9,1715.43 434.49,1716.43 434.06,1717.43C433.64,1718.43 433.23,1719.43 432.83,1720.43C432.42,1721.43 431.99,1722.43 431.64,1723.43C431.29,1724.43 431,1725.43 430.73,1726.43C430.46,1727.43 430.25,1728.43 430.02,1729.43C429.78,1730.43 429.54,1731.43 429.31,1732.43C429.09,1733.43 428.84,1734.43 428.65,1735.43C428.47,1736.43 428.33,1737.43 428.2,1738.43C428.08,1739.43 427.99,1740.43 427.89,1741.43C427.78,1742.43 427.67,1743.43 427.58,1744.43C427.48,1745.43 427.37,1746.43 427.31,1747.43C427.24,1748.43 427.22,1749.43 427.21,1750.43C427.19,1751.43 427.2,1752.43 427.2,1753.43C427.2,1754.43 427.2,1755.93 427.2,1756.43L427.2,1753.43C427.2,1752.93 427.21,1751.43 427.19,1750.43C427.18,1749.43 427.16,1748.43 427.09,1747.43C427.03,1746.43 426.92,1745.43 426.82,1744.43C426.73,1743.43 426.62,1742.43 426.51,1741.43C426.41,1740.43 426.32,1739.43 426.2,1738.43C426.07,1737.43 425.93,1736.43 425.75,1735.43C425.56,1734.43 425.31,1733.43 425.09,1732.43C424.86,1731.43 424.62,1730.43 424.38,1729.43C424.15,1728.43 423.94,1727.43 423.67,1726.43C423.4,1725.43 423.11,1724.43 422.76,1723.43C422.41,1722.43 421.98,1721.43 421.57,1720.43C421.17,1719.43 420.76,1718.43 420.34,1717.43C419.91,1716.43 419.5,1715.43 419.04,1714.43C418.58,1713.43 418.08,1712.43 417.58,1711.43C417.09,1710.43 416.58,1709.43 416.07,1708.43C415.57,1707.43 415.09,1706.43 414.56,1705.43C414.03,1704.43 413.52,1703.43 412.92,1702.43C412.33,1701.43 411.66,1700.43 411,1699.43C410.35,1698.43 409.67,1697.43 409,1696.43C408.34,1695.43 407.67,1694.43 407,1693.43C406.33,1692.43 405.67,1691.43 405,1690.43C404.33,1689.43 403.67,1688.43 403,1687.43C402.33,1686.43 401.67,1685.43 401,1684.43C400.33,1683.43 399.69,1682.43 398.99,1681.43C398.3,1680.43 397.6,1679.43 396.83,1678.43C396.06,1677.43 395.21,1676.43 394.39,1675.43C393.57,1674.43 392.72,1673.43 391.89,1672.43C391.06,1671.43 390.24,1670.43 389.38,1669.43C388.51,1668.43 387.64,1667.43 386.7,1666.43C385.76,1665.43 384.74,1664.43 383.75,1663.43C382.76,1662.43 381.75,1661.43 380.75,1660.43C379.75,1659.43 378.75,1658.43 377.75,1657.43C376.75,1656.43 375.75,1655.43 374.75,1654.43C373.75,1653.43 372.75,1652.43 371.75,1651.43C370.75,1650.43 369.75,1649.43 368.75,1648.43C367.75,1647.43 366.75,1646.43 365.75,1645.43C364.75,1644.43 363.75,1643.43 362.75,1642.43C361.75,1641.43 360.75,1640.43 359.75,1639.43C358.75,1638.43 357.75,1637.43 356.75,1636.43C355.75,1635.43 354.73,1634.43 353.77,1633.43C352.82,1632.43 351.89,1631.43 351.01,1630.43C350.12,1629.43 349.32,1628.43 348.48,1627.43C347.64,1626.43 346.81,1625.43 345.98,1624.43C345.15,1623.43 344.29,1622.43 343.5,1621.43C342.72,1620.43 341.97,1619.43 341.26,1618.43C340.55,1617.43 339.9,1616.43 339.23,1615.43C338.56,1614.43 337.89,1613.43 337.23,1612.43C336.58,1611.43 335.86,1610.43 335.3,1609.43C334.73,1608.43 334.26,1607.43 333.84,1606.43C333.43,1605.43 333.14,1604.43 332.8,1603.43C332.46,1602.43 332.12,1601.43 331.8,1600.43C331.49,1599.43 331.1,1598.43 330.89,1597.43C330.68,1596.43 330.6,1595.43 330.56,1594.43C330.53,1593.43 330.6,1592.43 330.68,1591.43C330.76,1590.43 330.82,1589.43 331.03,1588.43C331.25,1587.43 331.63,1586.43 331.98,1585.43C332.33,1584.43 332.74,1583.43 333.13,1582.43C333.51,1581.43 333.87,1580.43 334.28,1579.43C334.7,1578.43 335.1,1577.43 335.62,1576.43C336.14,1575.43 336.79,1574.43 337.41,1573.43C338.02,1572.43 338.69,1571.43 339.33,1570.43C339.97,1569.43 340.61,1568.43 341.26,1567.43C341.9,1566.43 342.54,1565.43 343.2,1564.43C343.86,1563.43 344.53,1562.43 345.23,1561.43C345.92,1560.43 346.65,1559.43 347.36,1558.43C348.07,1557.43 348.79,1556.43 349.5,1555.43C350.21,1554.43 350.94,1553.43 351.64,1552.43C352.35,1551.43 353.07,1550.43 353.72,1549.43C354.37,1548.43 354.96,1547.43 355.55,1546.43C356.15,1545.43 356.7,1544.43 357.27,1543.43C357.85,1542.43 358.42,1541.43 358.99,1540.43C359.56,1539.43 360.12,1538.43 360.71,1537.43C361.29,1536.43 361.88,1535.43 362.5,1534.43C363.11,1533.43 363.76,1532.43 364.4,1531.43C365.04,1530.43 365.69,1529.43 366.33,1528.43C366.97,1527.43 367.61,1526.43 368.26,1525.43C368.91,1524.43 369.52,1523.43 370.26,1522.43C371,1521.43 371.84,1520.43 372.71,1519.43C373.58,1518.43 374.55,1517.43 375.47,1516.43C376.4,1515.43 377.33,1514.43 378.26,1513.43C379.19,1512.43 380.11,1511.43 381.04,1510.43C381.98,1509.43 382.92,1508.43 383.88,1507.43C384.85,1506.43 385.85,1505.43 386.84,1504.43C387.84,1503.43 388.84,1502.43 389.84,1501.43C390.84,1500.43 391.84,1499.43 392.84,1498.43C393.84,1497.43 394.85,1496.43 395.83,1495.43C396.81,1494.43 397.78,1493.43 398.73,1492.43C399.68,1491.43 400.6,1490.43 401.53,1489.43C402.46,1488.43 403.39,1487.43 404.32,1486.43C405.24,1485.43 406.19,1484.43 407.1,1483.43C408.01,1482.43 408.95,1481.43 409.75,1480.43C410.56,1479.43 411.24,1478.43 411.93,1477.43C412.61,1476.43 413.23,1475.43 413.87,1474.43C414.52,1473.43 415.17,1472.43 415.81,1471.43C416.45,1470.43 417.13,1469.43 417.73,1468.43C418.34,1467.43 418.93,1466.43 419.44,1465.43C419.95,1464.43 420.36,1463.43 420.8,1462.43C421.24,1461.43 421.67,1460.43 422.1,1459.43C422.52,1458.43 422.98,1457.43 423.37,1456.43C423.77,1455.43 424.14,1454.43 424.45,1453.43C424.75,1452.43 424.97,1451.43 425.21,1450.43C425.46,1449.43 425.7,1448.43 425.94,1447.43C426.17,1446.43 426.45,1445.43 426.64,1444.43C426.82,1443.43 426.98,1442.43 427.06,1441.43C427.14,1440.43 427.11,1439.43 427.13,1438.43C427.14,1437.43 427.14,1436.43 427.15,1435.43C427.15,1434.43 427.16,1433.43 427.16,1432.43C427.17,1431.43 427.18,1430.43 427.18,1429.43C427.19,1428.43 427.2,1426.93 427.2,1426.43Z" fill="#ff9900" stroke="#000" stroke-width="1.35" stroke-linejoin="round"/>
<path d="M646.1,1425.62C646.1,1426.12 646.11,1427.62 646.12,1428.62C646.13,1429.62 646.14,1430.62 646.14,1431.62C646.15,1432.62 646.15,1433.62 646.16,1434.62C646.18,1435.62 646.15,1436.62 646.21,1437.62C646.27,1438.62 646.36,1439.62 646.51,1440.62C646.67,1441.62 646.92,1442.62 647.14,1443.62C647.35,1444.62 647.57,1445.62 647.8,1446.62C648.03,1447.62 648.21,1448.62 648.51,1449.62C648.81,1450.62 649.17,1451.62 649.6,1452.62C650.03,1453.62 650.59,1454.62 651.09,1455.62C651.6,1456.62 652.12,1457.62 652.64,1458.62C653.17,1459.62 653.64,1460.62 654.24,1461.62C654.85,1462.62 655.53,1463.62 656.28,1464.62C657.03,1465.62 657.92,1466.62 658.74,1467.62C659.57,1468.62 660.41,1469.62 661.25,1470.62C662.1,1471.62 662.89,1472.62 663.82,1473.62C664.76,1474.62 665.79,1475.62 666.88,1476.62C667.96,1477.62 669.18,1478.62 670.34,1479.62C671.5,1480.62 672.66,1481.62 673.84,1482.62C675.03,1483.62 676.12,1484.62 677.45,1485.62C678.77,1486.62 680.24,1487.62 681.78,1488.62C683.31,1489.62 685.01,1490.62 686.64,1491.62C688.27,1492.62 689.88,1493.62 691.56,1494.62C693.24,1495.62 694.88,1496.62 696.7,1497.62C698.52,1498.62 700.53,1499.62 702.49,1500.62C704.45,1501.62 706.5,1502.62 708.48,1503.62C710.47,1504.62 712.5,1505.62 714.41,1506.62C716.33,1507.62 718.16,1508.62 719.98,1509.62C721.8,1510.62 723.57,1511.62 725.32,1512.62C727.08,1513.62 728.9,1514.62 730.5,1515.62C732.1,1516.62 733.52,1517.62 734.93,1518.62C736.34,1519.62 737.65,1520.62 738.95,1521.62C740.25,1522.62 741.62,1523.62 742.73,1524.62C743.84,1525.62 744.73,1526.62 745.61,1527.62C746.49,1528.62 747.24,1529.62 748.03,1530.62C748.83,1531.62 749.68,1532.62 750.36,1533.62C751.05,1534.62 751.63,1535.62 752.13,1536.62C752.64,1537.62 752.98,1538.62 753.39,1539.62C753.79,1540.62 754.23,1541.62 754.57,1542.62C754.9,1543.62 755.22,1544.62 755.4,1545.62C755.59,1546.62 755.61,1547.62 755.67,1548.62C755.72,1549.62 755.81,1550.62 755.74,1551.62C755.67,1552.62 755.49,1553.62 755.26,1554.62C755.03,1555.62 754.67,1556.62 754.37,1557.62C754.06,1558.62 753.77,1559.62 753.43,1560.62C753.1,1561.62 752.78,1562.62 752.34,1563.62C751.89,1564.62 751.3,1565.62 750.75,1566.62C750.19,1567.62 749.58,1568.62 749,1569.62C748.42,1570.62 747.84,1571.62 747.25,1572.62C746.65,1573.62 746.07,1574.62 745.44,1575.62C744.81,1576.62 744.14,1577.62 743.48,1578.62C742.82,1579.62 742.15,1580.62 741.48,1581.62C740.82,1582.62 740.15,1583.62 739.48,1584.62C738.82,1585.62 738.15,1586.62 737.48,1587.62C736.82,1588.62 736.15,1589.62 735.48,1590.62C734.82,1591.62 734.15,1592.62 733.48,1593.62C732.81,1594.62 732.16,1595.62 731.48,1596.62C730.79,1597.62 730.11,1598.62 729.38,1599.62C728.66,1600.62 727.88,1601.62 727.12,1602.62C726.35,1603.62 725.58,1604.62 724.81,1605.62C724.04,1606.62 723.29,1607.62 722.5,1608.62C721.71,1609.62 720.95,1610.62 720.07,1611.62C719.2,1612.62 718.21,1613.62 717.24,1614.62C716.27,1615.62 715.25,1616.62 714.25,1617.62C713.25,1618.62 712.26,1619.62 711.25,1620.62C710.23,1621.62 709.23,1622.62 708.15,1623.62C707.07,1624.62 705.91,1625.62 704.76,1626.62C703.61,1627.62 702.43,1628.62 701.26,1629.62C700.1,1630.62 698.91,1631.62 697.76,1632.62C696.62,1633.62 695.46,1634.62 694.38,1635.62C693.29,1636.62 692.3,1637.62 691.28,1638.62C690.27,1639.62 689.28,1640.62 688.28,1641.62C687.28,1642.62 686.26,1643.62 685.28,1644.62C684.31,1645.62 683.32,1646.62 682.41,1647.62C681.5,1648.62 680.68,1649.62 679.83,1650.62C678.98,1651.62 678.16,1652.62 677.33,1653.62C676.49,1654.62 675.65,1655.62 674.83,1656.62C674.01,1657.62 673.19,1658.62 672.4,1659.62C671.61,1660.62 670.87,1661.62 670.11,1662.62C669.36,1663.62 668.61,1664.62 667.86,1665.62C667.11,1666.62 666.36,1667.62 665.61,1668.62C664.87,1669.62 664.12,1670.62 663.38,1671.62C662.65,1672.62 661.92,1673.62 661.19,1674.62C660.46,1675.62 659.72,1676.62 659,1677.62C658.28,1678.62 657.52,1679.62 656.86,1680.62C656.2,1681.62 655.6,1682.62 655.04,1683.62C654.48,1684.62 654,1685.62 653.49,1686.62C652.98,1687.62 652.45,1688.62 651.97,1689.62C651.5,1690.62 651.05,1691.62 650.66,1692.62C650.27,1693.62 649.98,1694.62 649.65,1695.62C649.32,1696.62 649,1697.62 648.7,1698.62C648.39,1699.62 648.08,1700.62 647.84,1701.62C647.6,1702.62 647.45,1703.62 647.27,1704.62C647.1,1705.62 646.95,1706.62 646.8,1707.62C646.65,1708.62 646.47,1709.62 646.37,1710.62C646.27,1711.62 646.22,1712.62 646.18,1713.62C646.14,1714.62 646.15,1715.62 646.14,1716.62C646.13,1717.62 646.11,1719.12 646.1,1719.62L646.06,1716.62C646.05,1716.12 646.06,1714.62 646.02,1713.62C645.98,1712.62 645.93,1711.62 645.83,1710.62C645.73,1709.62 645.55,1708.62 645.4,1707.62C645.25,1706.62 645.1,1705.62 644.93,1704.62C644.75,1703.62 644.6,1702.62 644.36,1701.62C644.12,1700.62 643.81,1699.62 643.5,1698.62C643.2,1697.62 642.88,1696.62 642.55,1695.62C642.22,1694.62 641.93,1693.62 641.54,1692.62C641.15,1691.62 640.7,1690.62 640.23,1689.62C639.75,1688.62 639.22,1687.62 638.71,1686.62C638.2,1685.62 637.72,1684.62 637.16,1683.62C636.6,1682.62 636,1681.62 635.34,1680.62C634.68,1679.62 633.92,1678.62 633.2,1677.62C632.48,1676.62 631.74,1675.62 631.01,1674.62C630.28,1673.62 629.55,1672.62 628.82,1671.62C628.08,1670.62 627.33,1669.62 626.59,1668.62C625.84,1667.62 625.09,1666.62 624.34,1665.62C623.59,1664.62 622.84,1663.62 622.09,1662.62C621.33,1661.62 620.59,1660.62 619.8,1659.62C619.01,1658.62 618.19,1657.62 617.37,1656.62C616.55,1655.62 615.71,1654.62 614.87,1653.62C614.04,1652.62 613.22,1651.62 612.37,1650.62C611.52,1649.62 610.7,1648.62 609.79,1647.62C608.88,1646.62 607.89,1645.62 606.92,1644.62C605.94,1643.62 604.92,1642.62 603.92,1641.62C602.92,1640.62 601.93,1639.62 600.92,1638.62C599.9,1637.62 598.91,1636.62 597.82,1635.62C596.74,1634.62 595.58,1633.62 594.44,1632.62C593.29,1631.62 592.1,1630.62 590.94,1629.62C589.77,1628.62 588.59,1627.62 587.44,1626.62C586.29,1625.62 585.13,1624.62 584.05,1623.62C582.97,1622.62 581.97,1621.62 580.95,1620.62C579.94,1619.62 578.95,1618.62 577.95,1617.62C576.95,1616.62 575.93,1615.62 574.96,1614.62C573.99,1613.62 573,1612.62 572.13,1611.62C571.25,1610.62 570.49,1609.62 569.7,1608.62C568.91,1607.62 568.16,1606.62 567.39,1605.62C566.62,1604.62 565.85,1603.62 565.08,1602.62C564.32,1601.62 563.54,1600.62 562.82,1599.62C562.09,1598.62 561.41,1597.62 560.72,1596.62C560.04,1595.62 559.39,1594.62 558.72,1593.62C558.05,1592.62 557.38,1591.62 556.72,1590.62C556.05,1589.62 555.38,1588.62 554.72,1587.62C554.05,1586.62 553.38,1585.62 552.72,1584.62C552.05,1583.62 551.38,1582.62 550.72,1581.62C550.05,1580.62 549.38,1579.62 548.72,1578.62C548.06,1577.62 547.39,1576.62 546.76,1575.62C546.13,1574.62 545.55,1573.62 544.95,1572.62C544.36,1571.62 543.78,1570.62 543.2,1569.62C542.62,1568.62 542.01,1567.62 541.45,1566.62C540.9,1565.62 540.31,1564.62 539.86,1563.62C539.42,1562.62 539.1,1561.62 538.77,1560.62C538.43,1559.62 538.14,1558.62 537.83,1557.62C537.53,1556.62 537.17,1555.62 536.94,1554.62C536.71,1553.62 536.53,1552.62 536.46,1551.62C536.39,1550.62 536.48,1549.62 536.53,1548.62C536.59,1547.62 536.61,1546.62 536.8,1545.62C536.98,1544.62 537.3,1543.62 537.63,1542.62C537.97,1541.62 538.41,1540.62 538.81,1539.62C539.22,1538.62 539.56,1537.62 540.07,1536.62C540.57,1535.62 541.15,1534.62 541.84,1533.62C542.52,1532.62 543.37,1531.62 544.17,1530.62C544.96,1529.62 545.71,1528.62 546.59,1527.62C547.47,1526.62 548.36,1525.62 549.47,1524.62C550.58,1523.62 551.95,1522.62 553.25,1521.62C554.55,1520.62 555.86,1519.62 557.27,1518.62C558.68,1517.62 560.1,1516.62 561.7,1515.62C563.3,1514.62 565.12,1513.62 566.88,1512.62C568.63,1511.62 570.4,1510.62 572.22,1509.62C574.04,1508.62 575.87,1507.62 577.79,1506.62C579.7,1505.62 581.73,1504.62 583.72,1503.62C585.7,1502.62 587.75,1501.62 589.71,1500.62C591.67,1499.62 593.68,1498.62 595.5,1497.62C597.32,1496.62 598.96,1495.62 600.64,1494.62C602.32,1493.62 603.93,1492.62 605.56,1491.62C607.19,1490.62 608.89,1489.62 610.42,1488.62C611.96,1487.62 613.43,1486.62 614.75,1485.62C616.08,1484.62 617.17,1483.62 618.36,1482.62C619.54,1481.62 620.7,1480.62 621.86,1479.62C623.02,1478.62 624.24,1477.62 625.32,1476.62C626.41,1475.62 627.44,1474.62 628.38,1473.62C629.31,1472.62 630.1,1471.62 630.95,1470.62C631.79,1469.62 632.63,1468.62 633.46,1467.62C634.28,1466.62 635.17,1465.62 635.92,1464.62C636.67,1463.62 637.35,1462.62 637.96,1461.62C638.56,1460.62 639.03,1459.62 639.56,1458.62C640.08,1457.62 640.6,1456.62 641.11,1455.62C641.61,1454.62 642.17,1453.62 642.6,1452.62C643.03,1451.62 643.39,1450.62 643.69,1449.62C643.99,1448.62 644.17,1447.62 644.4,1446.62C644.63,1445.62 644.85,1444.62 645.06,1443.62C645.28,1442.62 645.53,1441.62 645.69,1440.62C645.84,1439.62 645.93,1438.62 645.99,1437.62C646.05,1436.62 646.02,1435.62 646.04,1434.62C646.05,1433.62 646.05,1432.62 646.06,1431.62C646.06,1430.62 646.07,1429.62 646.08,1428.62C646.09,1427.62 646.1,1426.12 646.1,1425.62Z" fill="#ff0000" stroke="#000" stroke-width="1.35" stroke-linejoin="round"/>
<path d="M208.4,1482.5L208.4,1565.7M208.4,1636.3L208.4,1734.8" stroke="#000" stroke-width="1.35" fill="none"/>
<rect x="186.5" y="1565.7" width="44" height="70.6" fill="#fff" stroke="#000" stroke-width="1.35"/>
<line x1="186.5" y1="1597.8" x2="230.5" y2="1597.8" stroke="#000" stroke-width="2.6"/>
<path d="M427.2,1481L427.2,1554.3M427.2,1632L427.2,1703.7" stroke="#000" stroke-width="1.35" fill="none"/>
<rect x="405.3" y="1554.3" width="44.2" height="77.7" fill="#fff" stroke="#000" stroke-width="1.35"/>
<line x1="405.3" y1="1590.6" x2="449.5" y2="1590.6" stroke="#000" stroke-width="2.6"/>
<path d="M646.1,1479.4L646.1,1535.8M646.1,1601.2L646.1,1666.7" stroke="#000" stroke-width="1.35" fill="none"/>
<rect x="624.2" y="1535.8" width="44" height="65.4" fill="#fff" stroke="#000" stroke-width="1.35"/>
<line x1="624.2" y1="1562.2" x2="668.2" y2="1562.2" stroke="#000" stroke-width="2.6"/>
<path d="M208.4,1412.8L208.4,1405.1L646.1,1405.1L646.1,1412.8" fill="none" stroke="#333" stroke-width="1"/>
<text x="427.25" y="1399.6" font-size="14.5" text-anchor="middle" fill="#000">***</text>
<path d="M427.2,1443.3L427.2,1435.6L646.1,1435.6L646.1,1443.3" fill="none" stroke="#333" stroke-width="1"/>
<text x="536.65" y="1430.6" font-size="14.5" text-anchor="middle" fill="#000">**</text>
<path d="M208.4,1474.2L208.4,1466.5L427.2,1466.5L427.2,1474.2" fill="none" stroke="#333" stroke-width="1"/>
<text x="317.8" y="1463" font-size="14.5" text-anchor="middle" fill="#000">ns</text>
<path d="M77.2,1386L77.2,1800L777,1800" fill="none" stroke="#000" stroke-width="1.4"/>
<g stroke="#000" stroke-width="1.4">
<line x1="73.2" y1="1394.6" x2="77.2" y2="1394.6"/>
<line x1="73.2" y1="1502.6" x2="77.2" y2="1502.6"/>
<line x1="73.2" y1="1610.3" x2="77.2" y2="1610.3"/>
<line x1="73.2" y1="1718.3" x2="77.2" y2="1718.3"/>
<line x1="208.4" y1="1800" x2="208.4" y2="1804.2"/>
<line x1="427.2" y1="1800" x2="427.2" y2="1804.2"/>
<line x1="646.1" y1="1800" x2="646.1" y2="1804.2"/>
</g>
<text x="69.5" y="1400.9" font-size="15.8" text-anchor="end" fill="#000">1.2</text>
<text x="69.5" y="1508.9" font-size="15.8" text-anchor="end" fill="#000">0.9</text>
<text x="69.5" y="1616.6" font-size="15.8" text-anchor="end" fill="#000">0.6</text>
<text x="69.5" y="1724.6" font-size="15.8" text-anchor="end" fill="#000">0.3</text>
<text x="208.4" y="1818.8" font-size="15.8" text-anchor="middle" fill="#000">low</text>
<text x="427.2" y="1818.8" font-size="15.8" text-anchor="middle" fill="#000">medium</text>
<text x="646.1" y="1818.8" font-size="15.8" text-anchor="middle" fill="#000">high</text>
<text x="427.2" y="1838" font-size="15.8" text-anchor="middle" fill="#000">Risk Level</text>
<text transform="translate(35,1593) rotate(-90)" font-size="15.8" text-anchor="middle" fill="#000">TumorPurity</text>
<text x="287" y="1356.5" font-size="15.7" text-anchor="start" fill="#000">Risk Level</text>
<rect x="367.8" y="1340.2" width="21.5" height="21.3" fill="#0066ff" stroke="#000" stroke-width="1.3"/>
<text x="398.2" y="1355.9" font-size="13.33" text-anchor="start" fill="#000">low</text>
<rect x="426.2" y="1340.2" width="21.5" height="21.3" fill="#ff9900" stroke="#000" stroke-width="1.3"/>
<text x="456.6" y="1355.9" font-size="13.33" text-anchor="start" fill="#000">medium</text>
<rect x="512.3" y="1340.2" width="21.5" height="21.3" fill="#ff0000" stroke="#000" stroke-width="1.3"/>
<text x="542.7" y="1355.9" font-size="13.33" text-anchor="start" fill="#000">high</text>
<text transform="translate(15,1359) scale(1,1.045)" font-size="45" fill="#000">E</text>
<path d="M1212.2,1436.82C1212.2,1437.32 1212.21,1438.82 1212.22,1439.82C1212.23,1440.82 1212.24,1441.82 1212.24,1442.82C1212.25,1443.82 1212.25,1444.82 1212.26,1445.82C1212.27,1446.82 1212.25,1447.82 1212.31,1448.82C1212.36,1449.82 1212.43,1450.82 1212.57,1451.82C1212.7,1452.82 1212.92,1453.82 1213.1,1454.82C1213.29,1455.82 1213.48,1456.82 1213.67,1457.82C1213.86,1458.82 1214.04,1459.82 1214.25,1460.82C1214.45,1461.82 1214.63,1462.82 1214.89,1463.82C1215.16,1464.82 1215.51,1465.82 1215.86,1466.82C1216.21,1467.82 1216.61,1468.82 1216.99,1469.82C1217.37,1470.82 1217.74,1471.82 1218.14,1472.82C1218.54,1473.82 1218.9,1474.82 1219.38,1475.82C1219.86,1476.82 1220.44,1477.82 1221.01,1478.82C1221.58,1479.82 1222.2,1480.82 1222.82,1481.82C1223.43,1482.82 1224,1483.82 1224.67,1484.82C1225.35,1485.82 1226.09,1486.82 1226.87,1487.82C1227.64,1488.82 1228.51,1489.82 1229.34,1490.82C1230.17,1491.82 1230.99,1492.82 1231.84,1493.82C1232.7,1494.82 1233.45,1495.82 1234.47,1496.82C1235.49,1497.82 1236.7,1498.82 1237.97,1499.82C1239.25,1500.82 1240.73,1501.82 1242.12,1502.82C1243.52,1503.82 1244.9,1504.82 1246.34,1505.82C1247.78,1506.82 1249.25,1507.82 1250.78,1508.82C1252.31,1509.82 1253.94,1510.82 1255.54,1511.82C1257.13,1512.82 1258.77,1513.82 1260.32,1514.82C1261.87,1515.82 1263.45,1516.82 1264.84,1517.82C1266.23,1518.82 1267.42,1519.82 1268.65,1520.82C1269.89,1521.82 1271.07,1522.82 1272.25,1523.82C1273.44,1524.82 1274.66,1525.82 1275.75,1526.82C1276.83,1527.82 1277.8,1528.82 1278.76,1529.82C1279.72,1530.82 1280.59,1531.82 1281.5,1532.82C1282.42,1533.82 1283.3,1534.82 1284.24,1535.82C1285.17,1536.82 1286.11,1537.82 1287.13,1538.82C1288.14,1539.82 1289.24,1540.82 1290.32,1541.82C1291.4,1542.82 1292.51,1543.82 1293.59,1544.82C1294.68,1545.82 1295.79,1546.82 1296.85,1547.82C1297.91,1548.82 1298.95,1549.82 1299.98,1550.82C1301,1551.82 1301.99,1552.82 1302.99,1553.82C1303.99,1554.82 1305.03,1555.82 1305.97,1556.82C1306.91,1557.82 1307.84,1558.82 1308.65,1559.82C1309.46,1560.82 1310.13,1561.82 1310.84,1562.82C1311.56,1563.82 1312.28,1564.82 1312.94,1565.82C1313.6,1566.82 1314.3,1567.82 1314.81,1568.82C1315.31,1569.82 1315.61,1570.82 1315.96,1571.82C1316.3,1572.82 1316.58,1573.82 1316.86,1574.82C1317.15,1575.82 1317.49,1576.82 1317.68,1577.82C1317.87,1578.82 1317.96,1579.82 1318.01,1580.82C1318.06,1581.82 1318.09,1582.82 1317.99,1583.82C1317.89,1584.82 1317.71,1585.82 1317.41,1586.82C1317.1,1587.82 1316.61,1588.82 1316.16,1589.82C1315.72,1590.82 1315.35,1591.82 1314.76,1592.82C1314.18,1593.82 1313.49,1594.82 1312.66,1595.82C1311.82,1596.82 1310.74,1597.82 1309.76,1598.82C1308.77,1599.82 1307.8,1600.82 1306.74,1601.82C1305.68,1602.82 1304.62,1603.82 1303.39,1604.82C1302.16,1605.82 1300.73,1606.82 1299.36,1607.82C1297.99,1608.82 1296.57,1609.82 1295.17,1610.82C1293.77,1611.82 1292.37,1612.82 1290.97,1613.82C1289.57,1614.82 1288.17,1615.82 1286.77,1616.82C1285.37,1617.82 1283.96,1618.82 1282.57,1619.82C1281.17,1620.82 1279.74,1621.82 1278.41,1622.82C1277.07,1623.82 1275.79,1624.82 1274.54,1625.82C1273.3,1626.82 1272.12,1627.82 1270.92,1628.82C1269.72,1629.82 1268.49,1630.82 1267.33,1631.82C1266.17,1632.82 1265.03,1633.82 1263.96,1634.82C1262.89,1635.82 1261.91,1636.82 1260.91,1637.82C1259.9,1638.82 1258.9,1639.82 1257.91,1640.82C1256.92,1641.82 1255.92,1642.82 1254.96,1643.82C1254.01,1644.82 1253.1,1645.82 1252.18,1646.82C1251.27,1647.82 1250.36,1648.82 1249.46,1649.82C1248.55,1650.82 1247.63,1651.82 1246.74,1652.82C1245.85,1653.82 1244.98,1654.82 1244.13,1655.82C1243.28,1656.82 1242.48,1657.82 1241.66,1658.82C1240.84,1659.82 1240,1660.82 1239.21,1661.82C1238.41,1662.82 1237.56,1663.82 1236.87,1664.82C1236.18,1665.82 1235.62,1666.82 1235.07,1667.82C1234.51,1668.82 1234.05,1669.82 1233.55,1670.82C1233.05,1671.82 1232.55,1672.82 1232.05,1673.82C1231.56,1674.82 1231.05,1675.82 1230.59,1676.82C1230.12,1677.82 1229.7,1678.82 1229.27,1679.82C1228.84,1680.82 1228.43,1681.82 1228.01,1682.82C1227.59,1683.82 1227.18,1684.82 1226.76,1685.82C1226.34,1686.82 1225.93,1687.82 1225.51,1688.82C1225.09,1689.82 1224.67,1690.82 1224.25,1691.82C1223.83,1692.82 1223.41,1693.82 1222.99,1694.82C1222.57,1695.82 1222.15,1696.82 1221.74,1697.82C1221.32,1698.82 1220.9,1699.82 1220.48,1700.82C1220.07,1701.82 1219.66,1702.82 1219.25,1703.82C1218.83,1704.82 1218.42,1705.82 1218.01,1706.82C1217.61,1707.82 1217.18,1708.82 1216.83,1709.82C1216.49,1710.82 1216.22,1711.82 1215.97,1712.82C1215.72,1713.82 1215.53,1714.82 1215.32,1715.82C1215.1,1716.82 1214.88,1717.82 1214.69,1718.82C1214.5,1719.82 1214.32,1720.82 1214.18,1721.82C1214.04,1722.82 1213.94,1723.82 1213.82,1724.82C1213.71,1725.82 1213.6,1726.82 1213.49,1727.82C1213.38,1728.82 1213.26,1729.82 1213.16,1730.82C1213.05,1731.82 1212.93,1732.82 1212.85,1733.82C1212.77,1734.82 1212.71,1735.82 1212.66,1736.82C1212.61,1737.82 1212.58,1738.82 1212.54,1739.82C1212.5,1740.82 1212.46,1741.82 1212.42,1742.82C1212.38,1743.82 1212.33,1744.82 1212.3,1745.82C1212.26,1746.82 1212.23,1747.82 1212.22,1748.82C1212.2,1749.82 1212.2,1750.82 1212.2,1751.82C1212.2,1752.82 1212.2,1753.82 1212.2,1754.82C1212.2,1755.82 1212.2,1756.82 1212.2,1757.82C1212.2,1758.82 1212.2,1760.32 1212.2,1760.82L1212.2,1757.82C1212.2,1757.32 1212.2,1755.82 1212.2,1754.82C1212.2,1753.82 1212.2,1752.82 1212.2,1751.82C1212.2,1750.82 1212.2,1749.82 1212.18,1748.82C1212.17,1747.82 1212.14,1746.82 1212.1,1745.82C1212.07,1744.82 1212.02,1743.82 1211.98,1742.82C1211.94,1741.82 1211.9,1740.82 1211.86,1739.82C1211.82,1738.82 1211.79,1737.82 1211.74,1736.82C1211.69,1735.82 1211.63,1734.82 1211.55,1733.82C1211.47,1732.82 1211.35,1731.82 1211.24,1730.82C1211.14,1729.82 1211.02,1728.82 1210.91,1727.82C1210.8,1726.82 1210.69,1725.82 1210.58,1724.82C1210.46,1723.82 1210.36,1722.82 1210.22,1721.82C1210.08,1720.82 1209.9,1719.82 1209.71,1718.82C1209.52,1717.82 1209.3,1716.82 1209.08,1715.82C1208.87,1714.82 1208.68,1713.82 1208.43,1712.82C1208.18,1711.82 1207.91,1710.82 1207.57,1709.82C1207.22,1708.82 1206.79,1707.82 1206.39,1706.82C1205.98,1705.82 1205.57,1704.82 1205.15,1703.82C1204.74,1702.82 1204.33,1701.82 1203.92,1700.82C1203.5,1699.82 1203.08,1698.82 1202.66,1697.82C1202.25,1696.82 1201.83,1695.82 1201.41,1694.82C1200.99,1693.82 1200.57,1692.82 1200.15,1691.82C1199.73,1690.82 1199.31,1689.82 1198.89,1688.82C1198.47,1687.82 1198.06,1686.82 1197.64,1685.82C1197.22,1684.82 1196.81,1683.82 1196.39,1682.82C1195.97,1681.82 1195.56,1680.82 1195.13,1679.82C1194.7,1678.82 1194.28,1677.82 1193.81,1676.82C1193.35,1675.82 1192.84,1674.82 1192.35,1673.82C1191.85,1672.82 1191.35,1671.82 1190.85,1670.82C1190.35,1669.82 1189.89,1668.82 1189.33,1667.82C1188.78,1666.82 1188.22,1665.82 1187.53,1664.82C1186.84,1663.82 1185.99,1662.82 1185.19,1661.82C1184.4,1660.82 1183.56,1659.82 1182.74,1658.82C1181.92,1657.82 1181.12,1656.82 1180.27,1655.82C1179.42,1654.82 1178.55,1653.82 1177.66,1652.82C1176.77,1651.82 1175.85,1650.82 1174.94,1649.82C1174.04,1648.82 1173.13,1647.82 1172.22,1646.82C1171.3,1645.82 1170.39,1644.82 1169.44,1643.82C1168.48,1642.82 1167.48,1641.82 1166.49,1640.82C1165.5,1639.82 1164.5,1638.82 1163.49,1637.82C1162.49,1636.82 1161.51,1635.82 1160.44,1634.82C1159.37,1633.82 1158.23,1632.82 1157.07,1631.82C1155.91,1630.82 1154.68,1629.82 1153.48,1628.82C1152.28,1627.82 1151.1,1626.82 1149.86,1625.82C1148.61,1624.82 1147.33,1623.82 1145.99,1622.82C1144.66,1621.82 1143.23,1620.82 1141.83,1619.82C1140.44,1618.82 1139.03,1617.82 1137.63,1616.82C1136.23,1615.82 1134.83,1614.82 1133.43,1613.82C1132.03,1612.82 1130.63,1611.82 1129.23,1610.82C1127.83,1609.82 1126.41,1608.82 1125.04,1607.82C1123.67,1606.82 1122.24,1605.82 1121.01,1604.82C1119.78,1603.82 1118.72,1602.82 1117.66,1601.82C1116.6,1600.82 1115.63,1599.82 1114.64,1598.82C1113.66,1597.82 1112.58,1596.82 1111.74,1595.82C1110.91,1594.82 1110.22,1593.82 1109.64,1592.82C1109.05,1591.82 1108.68,1590.82 1108.24,1589.82C1107.79,1588.82 1107.3,1587.82 1106.99,1586.82C1106.69,1585.82 1106.51,1584.82 1106.41,1583.82C1106.31,1582.82 1106.34,1581.82 1106.39,1580.82C1106.44,1579.82 1106.53,1578.82 1106.72,1577.82C1106.91,1576.82 1107.25,1575.82 1107.54,1574.82C1107.82,1573.82 1108.1,1572.82 1108.44,1571.82C1108.79,1570.82 1109.09,1569.82 1109.59,1568.82C1110.1,1567.82 1110.8,1566.82 1111.46,1565.82C1112.12,1564.82 1112.84,1563.82 1113.56,1562.82C1114.27,1561.82 1114.94,1560.82 1115.75,1559.82C1116.56,1558.82 1117.49,1557.82 1118.43,1556.82C1119.37,1555.82 1120.41,1554.82 1121.41,1553.82C1122.41,1552.82 1123.4,1551.82 1124.42,1550.82C1125.45,1549.82 1126.49,1548.82 1127.55,1547.82C1128.61,1546.82 1129.72,1545.82 1130.81,1544.82C1131.89,1543.82 1133,1542.82 1134.08,1541.82C1135.16,1540.82 1136.26,1539.82 1137.27,1538.82C1138.29,1537.82 1139.23,1536.82 1140.16,1535.82C1141.1,1534.82 1141.98,1533.82 1142.9,1532.82C1143.81,1531.82 1144.68,1530.82 1145.64,1529.82C1146.6,1528.82 1147.57,1527.82 1148.65,1526.82C1149.74,1525.82 1150.96,1524.82 1152.15,1523.82C1153.33,1522.82 1154.51,1521.82 1155.75,1520.82C1156.98,1519.82 1158.17,1518.82 1159.56,1517.82C1160.95,1516.82 1162.53,1515.82 1164.08,1514.82C1165.63,1513.82 1167.27,1512.82 1168.86,1511.82C1170.46,1510.82 1172.09,1509.82 1173.62,1508.82C1175.15,1507.82 1176.62,1506.82 1178.06,1505.82C1179.5,1504.82 1180.88,1503.82 1182.28,1502.82C1183.67,1501.82 1185.15,1500.82 1186.43,1499.82C1187.7,1498.82 1188.91,1497.82 1189.93,1496.82C1190.95,1495.82 1191.7,1494.82 1192.56,1493.82C1193.41,1492.82 1194.23,1491.82 1195.06,1490.82C1195.89,1489.82 1196.76,1488.82 1197.53,1487.82C1198.31,1486.82 1199.05,1485.82 1199.73,1484.82C1200.4,1483.82 1200.97,1482.82 1201.58,1481.82C1202.2,1480.82 1202.82,1479.82 1203.39,1478.82C1203.96,1477.82 1204.54,1476.82 1205.02,1475.82C1205.5,1474.82 1205.86,1473.82 1206.26,1472.82C1206.66,1471.82 1207.03,1470.82 1207.41,1469.82C1207.79,1468.82 1208.19,1467.82 1208.54,1466.82C1208.89,1465.82 1209.24,1464.82 1209.51,1463.82C1209.77,1462.82 1209.95,1461.82 1210.15,1460.82C1210.36,1459.82 1210.54,1458.82 1210.73,1457.82C1210.92,1456.82 1211.11,1455.82 1211.3,1454.82C1211.48,1453.82 1211.7,1452.82 1211.83,1451.82C1211.97,1450.82 1212.04,1449.82 1212.09,1448.82C1212.15,1447.82 1212.13,1446.82 1212.14,1445.82C1212.15,1444.82 1212.15,1443.82 1212.16,1442.82C1212.16,1441.82 1212.17,1440.82 1212.18,1439.82C1212.19,1438.82 1212.2,1437.32 1212.2,1436.82Z" fill="#0066ff" stroke="#000" stroke-width="1.35" stroke-linejoin="round"/>
<path d="M1423.8,1449.04C1423.8,1449.54 1423.81,1451.04 1423.82,1452.04C1423.83,1453.04 1423.84,1454.04 1423.84,1455.04C1423.85,1456.04 1423.85,1457.04 1423.87,1458.04C1423.88,1459.04 1423.86,1460.04 1423.93,1461.04C1424,1462.04 1424.12,1463.04 1424.28,1464.04C1424.45,1465.04 1424.71,1466.04 1424.92,1467.04C1425.14,1468.04 1425.36,1469.04 1425.59,1470.04C1425.82,1471.04 1426.01,1472.04 1426.31,1473.04C1426.62,1474.04 1427,1475.04 1427.42,1476.04C1427.84,1477.04 1428.36,1478.04 1428.84,1479.04C1429.31,1480.04 1429.79,1481.04 1430.28,1482.04C1430.78,1483.04 1431.21,1484.04 1431.81,1485.04C1432.42,1486.04 1433.14,1487.04 1433.9,1488.04C1434.66,1489.04 1435.55,1490.04 1436.38,1491.04C1437.21,1492.04 1438.04,1493.04 1438.89,1494.04C1439.73,1495.04 1440.54,1496.04 1441.47,1497.04C1442.39,1498.04 1443.41,1499.04 1444.44,1500.04C1445.48,1501.04 1446.6,1502.04 1447.68,1503.04C1448.76,1504.04 1449.83,1505.04 1450.93,1506.04C1452.03,1507.04 1453.09,1508.04 1454.27,1509.04C1455.45,1510.04 1456.73,1511.04 1458.02,1512.04C1459.31,1513.04 1460.67,1514.04 1462,1515.04C1463.33,1516.04 1464.66,1517.04 1466,1518.04C1467.35,1519.04 1468.67,1520.04 1470.05,1521.04C1471.44,1522.04 1472.87,1523.04 1474.31,1524.04C1475.74,1525.04 1477.21,1526.04 1478.67,1527.04C1480.12,1528.04 1481.6,1529.04 1483.02,1530.04C1484.45,1531.04 1485.86,1532.04 1487.21,1533.04C1488.56,1534.04 1489.81,1535.04 1491.1,1536.04C1492.38,1537.04 1493.65,1538.04 1494.91,1539.04C1496.18,1540.04 1497.49,1541.04 1498.68,1542.04C1499.86,1543.04 1500.97,1544.04 1502.03,1545.04C1503.1,1546.04 1504.06,1547.04 1505.06,1548.04C1506.07,1549.04 1507.09,1550.04 1508.06,1551.04C1509.02,1552.04 1510.02,1553.04 1510.84,1554.04C1511.67,1555.04 1512.31,1556.04 1512.98,1557.04C1513.66,1558.04 1514.26,1559.04 1514.9,1560.04C1515.53,1561.04 1516.21,1562.04 1516.78,1563.04C1517.34,1564.04 1517.87,1565.04 1518.29,1566.04C1518.72,1567.04 1518.99,1568.04 1519.32,1569.04C1519.65,1570.04 1519.99,1571.04 1520.27,1572.04C1520.55,1573.04 1520.85,1574.04 1520.99,1575.04C1521.14,1576.04 1521.14,1577.04 1521.15,1578.04C1521.17,1579.04 1521.21,1580.04 1521.1,1581.04C1520.99,1582.04 1520.8,1583.04 1520.51,1584.04C1520.21,1585.04 1519.73,1586.04 1519.32,1587.04C1518.91,1588.04 1518.52,1589.04 1518.05,1590.04C1517.57,1591.04 1517.1,1592.04 1516.49,1593.04C1515.88,1594.04 1515.1,1595.04 1514.37,1596.04C1513.65,1597.04 1512.88,1598.04 1512.13,1599.04C1511.38,1600.04 1510.66,1601.04 1509.86,1602.04C1509.07,1603.04 1508.27,1604.04 1507.36,1605.04C1506.46,1606.04 1505.44,1607.04 1504.45,1608.04C1503.47,1609.04 1502.45,1610.04 1501.45,1611.04C1500.45,1612.04 1499.44,1613.04 1498.46,1614.04C1497.47,1615.04 1496.5,1616.04 1495.55,1617.04C1494.6,1618.04 1493.7,1619.04 1492.78,1620.04C1491.86,1621.04 1490.94,1622.04 1490.03,1623.04C1489.11,1624.04 1488.15,1625.04 1487.3,1626.04C1486.46,1627.04 1485.65,1628.04 1484.95,1629.04C1484.26,1630.04 1483.72,1631.04 1483.13,1632.04C1482.53,1633.04 1481.96,1634.04 1481.38,1635.04C1480.79,1636.04 1480.22,1637.04 1479.62,1638.04C1479.01,1639.04 1478.4,1640.04 1477.76,1641.04C1477.12,1642.04 1476.44,1643.04 1475.77,1644.04C1475.11,1645.04 1474.44,1646.04 1473.77,1647.04C1473.1,1648.04 1472.46,1649.04 1471.75,1650.04C1471.03,1651.04 1470.28,1652.04 1469.47,1653.04C1468.67,1654.04 1467.79,1655.04 1466.94,1656.04C1466.08,1657.04 1465.22,1658.04 1464.36,1659.04C1463.51,1660.04 1462.65,1661.04 1461.79,1662.04C1460.94,1663.04 1460.08,1664.04 1459.23,1665.04C1458.39,1666.04 1457.55,1667.04 1456.71,1668.04C1455.88,1669.04 1455.04,1670.04 1454.21,1671.04C1453.38,1672.04 1452.53,1673.04 1451.71,1674.04C1450.9,1675.04 1450.06,1676.04 1449.3,1677.04C1448.54,1678.04 1447.87,1679.04 1447.18,1680.04C1446.49,1681.04 1445.84,1682.04 1445.17,1683.04C1444.51,1684.04 1443.82,1685.04 1443.18,1686.04C1442.53,1687.04 1441.86,1688.04 1441.29,1689.04C1440.72,1690.04 1440.25,1691.04 1439.76,1692.04C1439.28,1693.04 1438.83,1694.04 1438.36,1695.04C1437.89,1696.04 1437.41,1697.04 1436.96,1698.04C1436.51,1699.04 1436.05,1700.04 1435.68,1701.04C1435.31,1702.04 1435.03,1703.04 1434.72,1704.04C1434.42,1705.04 1434.15,1706.04 1433.86,1707.04C1433.58,1708.04 1433.29,1709.04 1433.01,1710.04C1432.74,1711.04 1432.46,1712.04 1432.22,1713.04C1431.98,1714.04 1431.78,1715.04 1431.57,1716.04C1431.36,1717.04 1431.16,1718.04 1430.95,1719.04C1430.75,1720.04 1430.55,1721.04 1430.34,1722.04C1430.14,1723.04 1429.93,1724.04 1429.73,1725.04C1429.53,1726.04 1429.33,1727.04 1429.13,1728.04C1428.94,1729.04 1428.74,1730.04 1428.55,1731.04C1428.36,1732.04 1428.16,1733.04 1427.97,1734.04C1427.77,1735.04 1427.57,1736.04 1427.38,1737.04C1427.19,1738.04 1427,1739.04 1426.82,1740.04C1426.64,1741.04 1426.48,1742.04 1426.32,1743.04C1426.16,1744.04 1426,1745.04 1425.85,1746.04C1425.69,1747.04 1425.53,1748.04 1425.38,1749.04C1425.22,1750.04 1425.05,1751.04 1424.91,1752.04C1424.78,1753.04 1424.66,1754.04 1424.58,1755.04C1424.5,1756.04 1424.48,1757.04 1424.44,1758.04C1424.4,1759.04 1424.37,1760.04 1424.34,1761.04C1424.3,1762.04 1424.27,1763.04 1424.23,1764.04C1424.2,1765.04 1424.16,1766.04 1424.13,1767.04C1424.09,1768.04 1424.06,1769.04 1424.02,1770.04C1423.99,1771.04 1423.95,1772.04 1423.92,1773.04C1423.88,1774.04 1423.82,1775.54 1423.8,1776.04L1423.68,1773.04C1423.67,1772.54 1423.61,1771.04 1423.58,1770.04C1423.54,1769.04 1423.51,1768.04 1423.47,1767.04C1423.44,1766.04 1423.4,1765.04 1423.37,1764.04C1423.33,1763.04 1423.3,1762.04 1423.26,1761.04C1423.23,1760.04 1423.2,1759.04 1423.16,1758.04C1423.12,1757.04 1423.1,1756.04 1423.02,1755.04C1422.94,1754.04 1422.82,1753.04 1422.69,1752.04C1422.55,1751.04 1422.38,1750.04 1422.22,1749.04C1422.07,1748.04 1421.91,1747.04 1421.75,1746.04C1421.6,1745.04 1421.44,1744.04 1421.28,1743.04C1421.12,1742.04 1420.96,1741.04 1420.78,1740.04C1420.6,1739.04 1420.41,1738.04 1420.22,1737.04C1420.03,1736.04 1419.83,1735.04 1419.63,1734.04C1419.44,1733.04 1419.24,1732.04 1419.05,1731.04C1418.86,1730.04 1418.66,1729.04 1418.47,1728.04C1418.27,1727.04 1418.07,1726.04 1417.87,1725.04C1417.67,1724.04 1417.46,1723.04 1417.26,1722.04C1417.05,1721.04 1416.85,1720.04 1416.65,1719.04C1416.44,1718.04 1416.24,1717.04 1416.03,1716.04C1415.82,1715.04 1415.62,1714.04 1415.38,1713.04C1415.14,1712.04 1414.86,1711.04 1414.59,1710.04C1414.31,1709.04 1414.02,1708.04 1413.74,1707.04C1413.45,1706.04 1413.18,1705.04 1412.88,1704.04C1412.57,1703.04 1412.29,1702.04 1411.92,1701.04C1411.55,1700.04 1411.09,1699.04 1410.64,1698.04C1410.19,1697.04 1409.71,1696.04 1409.24,1695.04C1408.77,1694.04 1408.32,1693.04 1407.84,1692.04C1407.35,1691.04 1406.88,1690.04 1406.31,1689.04C1405.74,1688.04 1405.07,1687.04 1404.42,1686.04C1403.78,1685.04 1403.09,1684.04 1402.43,1683.04C1401.76,1682.04 1401.11,1681.04 1400.42,1680.04C1399.73,1679.04 1399.06,1678.04 1398.3,1677.04C1397.54,1676.04 1396.7,1675.04 1395.89,1674.04C1395.07,1673.04 1394.22,1672.04 1393.39,1671.04C1392.56,1670.04 1391.72,1669.04 1390.89,1668.04C1390.05,1667.04 1389.21,1666.04 1388.37,1665.04C1387.52,1664.04 1386.66,1663.04 1385.81,1662.04C1384.95,1661.04 1384.09,1660.04 1383.24,1659.04C1382.38,1658.04 1381.52,1657.04 1380.66,1656.04C1379.81,1655.04 1378.93,1654.04 1378.13,1653.04C1377.32,1652.04 1376.57,1651.04 1375.85,1650.04C1375.14,1649.04 1374.5,1648.04 1373.83,1647.04C1373.16,1646.04 1372.49,1645.04 1371.83,1644.04C1371.16,1643.04 1370.48,1642.04 1369.84,1641.04C1369.2,1640.04 1368.59,1639.04 1367.98,1638.04C1367.38,1637.04 1366.81,1636.04 1366.22,1635.04C1365.64,1634.04 1365.07,1633.04 1364.47,1632.04C1363.88,1631.04 1363.34,1630.04 1362.65,1629.04C1361.95,1628.04 1361.14,1627.04 1360.3,1626.04C1359.45,1625.04 1358.49,1624.04 1357.57,1623.04C1356.66,1622.04 1355.74,1621.04 1354.82,1620.04C1353.9,1619.04 1353,1618.04 1352.05,1617.04C1351.1,1616.04 1350.13,1615.04 1349.14,1614.04C1348.16,1613.04 1347.15,1612.04 1346.15,1611.04C1345.15,1610.04 1344.13,1609.04 1343.15,1608.04C1342.16,1607.04 1341.14,1606.04 1340.24,1605.04C1339.33,1604.04 1338.53,1603.04 1337.74,1602.04C1336.94,1601.04 1336.22,1600.04 1335.47,1599.04C1334.72,1598.04 1333.95,1597.04 1333.23,1596.04C1332.5,1595.04 1331.72,1594.04 1331.11,1593.04C1330.5,1592.04 1330.03,1591.04 1329.55,1590.04C1329.08,1589.04 1328.69,1588.04 1328.28,1587.04C1327.87,1586.04 1327.39,1585.04 1327.09,1584.04C1326.8,1583.04 1326.61,1582.04 1326.5,1581.04C1326.39,1580.04 1326.43,1579.04 1326.45,1578.04C1326.46,1577.04 1326.46,1576.04 1326.61,1575.04C1326.75,1574.04 1327.05,1573.04 1327.33,1572.04C1327.61,1571.04 1327.95,1570.04 1328.28,1569.04C1328.61,1568.04 1328.88,1567.04 1329.31,1566.04C1329.73,1565.04 1330.26,1564.04 1330.82,1563.04C1331.39,1562.04 1332.07,1561.04 1332.7,1560.04C1333.34,1559.04 1333.94,1558.04 1334.62,1557.04C1335.29,1556.04 1335.93,1555.04 1336.76,1554.04C1337.58,1553.04 1338.58,1552.04 1339.54,1551.04C1340.51,1550.04 1341.53,1549.04 1342.54,1548.04C1343.54,1547.04 1344.5,1546.04 1345.57,1545.04C1346.63,1544.04 1347.74,1543.04 1348.92,1542.04C1350.11,1541.04 1351.42,1540.04 1352.69,1539.04C1353.95,1538.04 1355.22,1537.04 1356.5,1536.04C1357.79,1535.04 1359.04,1534.04 1360.39,1533.04C1361.74,1532.04 1363.15,1531.04 1364.58,1530.04C1366,1529.04 1367.48,1528.04 1368.93,1527.04C1370.39,1526.04 1371.86,1525.04 1373.29,1524.04C1374.73,1523.04 1376.16,1522.04 1377.55,1521.04C1378.93,1520.04 1380.25,1519.04 1381.6,1518.04C1382.94,1517.04 1384.27,1516.04 1385.6,1515.04C1386.93,1514.04 1388.29,1513.04 1389.58,1512.04C1390.87,1511.04 1392.15,1510.04 1393.33,1509.04C1394.51,1508.04 1395.57,1507.04 1396.67,1506.04C1397.77,1505.04 1398.84,1504.04 1399.92,1503.04C1401,1502.04 1402.12,1501.04 1403.16,1500.04C1404.19,1499.04 1405.21,1498.04 1406.13,1497.04C1407.06,1496.04 1407.87,1495.04 1408.71,1494.04C1409.56,1493.04 1410.39,1492.04 1411.22,1491.04C1412.05,1490.04 1412.94,1489.04 1413.7,1488.04C1414.46,1487.04 1415.18,1486.04 1415.79,1485.04C1416.39,1484.04 1416.82,1483.04 1417.32,1482.04C1417.81,1481.04 1418.29,1480.04 1418.76,1479.04C1419.24,1478.04 1419.76,1477.04 1420.18,1476.04C1420.6,1475.04 1420.98,1474.04 1421.29,1473.04C1421.59,1472.04 1421.78,1471.04 1422.01,1470.04C1422.24,1469.04 1422.46,1468.04 1422.68,1467.04C1422.89,1466.04 1423.15,1465.04 1423.32,1464.04C1423.48,1463.04 1423.6,1462.04 1423.67,1461.04C1423.74,1460.04 1423.72,1459.04 1423.73,1458.04C1423.75,1457.04 1423.75,1456.04 1423.76,1455.04C1423.76,1454.04 1423.77,1453.04 1423.78,1452.04C1423.79,1451.04 1423.8,1449.54 1423.8,1449.04Z" fill="#ff9900" stroke="#000" stroke-width="1.35" stroke-linejoin="round"/>
<path d="M1635.9,1471.91C1635.9,1472.41 1635.91,1473.91 1635.92,1474.91C1635.93,1475.91 1635.93,1476.91 1635.94,1477.91C1635.95,1478.91 1635.95,1479.91 1635.96,1480.91C1635.97,1481.91 1635.95,1482.91 1636,1483.91C1636.04,1484.91 1636.1,1485.91 1636.25,1486.91C1636.39,1487.91 1636.64,1488.91 1636.85,1489.91C1637.06,1490.91 1637.29,1491.91 1637.52,1492.91C1637.74,1493.91 1637.92,1494.91 1638.2,1495.91C1638.49,1496.91 1638.8,1497.91 1639.21,1498.91C1639.63,1499.91 1640.19,1500.91 1640.69,1501.91C1641.19,1502.91 1641.72,1503.91 1642.24,1504.91C1642.76,1505.91 1643.23,1506.91 1643.82,1507.91C1644.41,1508.91 1645.04,1509.91 1645.78,1510.91C1646.51,1511.91 1647.39,1512.91 1648.22,1513.91C1649.04,1514.91 1649.88,1515.91 1650.72,1516.91C1651.57,1517.91 1652.35,1518.91 1653.27,1519.91C1654.19,1520.91 1655.17,1521.91 1656.24,1522.91C1657.31,1523.91 1658.52,1524.91 1659.68,1525.91C1660.84,1526.91 1662.01,1527.91 1663.18,1528.91C1664.35,1529.91 1665.49,1530.91 1666.71,1531.91C1667.92,1532.91 1669.17,1533.91 1670.46,1534.91C1671.75,1535.91 1673.1,1536.91 1674.43,1537.91C1675.76,1538.91 1677.1,1539.91 1678.43,1540.91C1679.77,1541.91 1681.1,1542.91 1682.43,1543.91C1683.77,1544.91 1685.1,1545.91 1686.43,1546.91C1687.77,1547.91 1689.1,1548.91 1690.43,1549.91C1691.77,1550.91 1693.11,1551.91 1694.43,1552.91C1695.76,1553.91 1697.12,1554.91 1698.38,1555.91C1699.63,1556.91 1700.81,1557.91 1701.96,1558.91C1703.1,1559.91 1704.16,1560.91 1705.25,1561.91C1706.35,1562.91 1707.47,1563.91 1708.52,1564.91C1709.57,1565.91 1710.66,1566.91 1711.55,1567.91C1712.44,1568.91 1713.13,1569.91 1713.86,1570.91C1714.59,1571.91 1715.25,1572.91 1715.95,1573.91C1716.64,1574.91 1717.34,1575.91 1718.02,1576.91C1718.7,1577.91 1719.42,1578.91 1720.04,1579.91C1720.66,1580.91 1721.2,1581.91 1721.74,1582.91C1722.27,1583.91 1722.75,1584.91 1723.25,1585.91C1723.75,1586.91 1724.26,1587.91 1724.75,1588.91C1725.24,1589.91 1725.75,1590.91 1726.17,1591.91C1726.58,1592.91 1726.9,1593.91 1727.22,1594.91C1727.54,1595.91 1727.8,1596.91 1728.08,1597.91C1728.37,1598.91 1728.66,1599.91 1728.93,1600.91C1729.2,1601.91 1729.5,1602.91 1729.7,1603.91C1729.9,1604.91 1730.01,1605.91 1730.13,1606.91C1730.25,1607.91 1730.32,1608.91 1730.41,1609.91C1730.5,1610.91 1730.62,1611.91 1730.67,1612.91C1730.73,1613.91 1730.77,1614.91 1730.73,1615.91C1730.68,1616.91 1730.53,1617.91 1730.42,1618.91C1730.3,1619.91 1730.18,1620.91 1730.04,1621.91C1729.9,1622.91 1729.82,1623.91 1729.59,1624.91C1729.37,1625.91 1729.06,1626.91 1728.7,1627.91C1728.35,1628.91 1727.89,1629.91 1727.48,1630.91C1727.07,1631.91 1726.66,1632.91 1726.23,1633.91C1725.8,1634.91 1725.43,1635.91 1724.89,1636.91C1724.36,1637.91 1723.71,1638.91 1723.02,1639.91C1722.34,1640.91 1721.54,1641.91 1720.8,1642.91C1720.05,1643.91 1719.31,1644.91 1718.54,1645.91C1717.78,1646.91 1717.06,1647.91 1716.21,1648.91C1715.37,1649.91 1714.43,1650.91 1713.47,1651.91C1712.52,1652.91 1711.49,1653.91 1710.49,1654.91C1709.49,1655.91 1708.51,1656.91 1707.49,1657.91C1706.46,1658.91 1705.49,1659.91 1704.36,1660.91C1703.22,1661.91 1701.95,1662.91 1700.67,1663.91C1699.39,1664.91 1698.02,1665.91 1696.69,1666.91C1695.35,1667.91 1694.04,1668.91 1692.68,1669.91C1691.33,1670.91 1690.01,1671.91 1688.56,1672.91C1687.11,1673.91 1685.55,1674.91 1683.99,1675.91C1682.43,1676.91 1680.79,1677.91 1679.2,1678.91C1677.61,1679.91 1675.98,1680.91 1674.44,1681.91C1672.9,1682.91 1671.42,1683.91 1669.97,1684.91C1668.52,1685.91 1667.14,1686.91 1665.74,1687.91C1664.34,1688.91 1662.87,1689.91 1661.58,1690.91C1660.28,1691.91 1659.02,1692.91 1657.95,1693.91C1656.89,1694.91 1656.05,1695.91 1655.18,1696.91C1654.3,1697.91 1653.36,1698.91 1652.7,1699.91C1652.04,1700.91 1651.6,1701.91 1651.23,1702.91C1650.86,1703.91 1650.71,1704.91 1650.46,1705.91C1650.22,1706.91 1649.96,1707.91 1649.76,1708.91C1649.56,1709.91 1649.38,1710.91 1649.27,1711.91C1649.15,1712.91 1649.11,1713.91 1649.05,1714.91C1648.98,1715.91 1648.93,1716.91 1648.86,1717.91C1648.8,1718.91 1648.74,1719.91 1648.65,1720.91C1648.57,1721.91 1648.47,1722.91 1648.37,1723.91C1648.28,1724.91 1648.18,1725.91 1648.07,1726.91C1647.96,1727.91 1647.87,1728.91 1647.69,1729.91C1647.51,1730.91 1647.24,1731.91 1646.97,1732.91C1646.7,1733.91 1646.38,1734.91 1646.07,1735.91C1645.77,1736.91 1645.48,1737.91 1645.15,1738.91C1644.82,1739.91 1644.46,1740.91 1644.08,1741.91C1643.7,1742.91 1643.27,1743.91 1642.87,1744.91C1642.46,1745.91 1642.04,1746.91 1641.65,1747.91C1641.26,1748.91 1640.87,1749.91 1640.51,1750.91C1640.16,1751.91 1639.85,1752.91 1639.52,1753.91C1639.2,1754.91 1638.87,1755.91 1638.56,1756.91C1638.26,1757.91 1637.94,1758.91 1637.69,1759.91C1637.45,1760.91 1637.29,1761.91 1637.11,1762.91C1636.93,1763.91 1636.78,1764.91 1636.63,1765.91C1636.48,1766.91 1636.3,1767.91 1636.19,1768.91C1636.09,1769.91 1636.03,1770.91 1635.99,1771.91C1635.95,1772.91 1635.97,1773.91 1635.96,1774.91C1635.95,1775.91 1635.94,1776.91 1635.93,1777.91C1635.92,1778.91 1635.91,1780.41 1635.9,1780.91L1635.87,1777.91C1635.86,1777.41 1635.85,1775.91 1635.84,1774.91C1635.83,1773.91 1635.85,1772.91 1635.81,1771.91C1635.77,1770.91 1635.71,1769.91 1635.61,1768.91C1635.5,1767.91 1635.32,1766.91 1635.17,1765.91C1635.02,1764.91 1634.87,1763.91 1634.69,1762.91C1634.51,1761.91 1634.35,1760.91 1634.11,1759.91C1633.86,1758.91 1633.54,1757.91 1633.24,1756.91C1632.93,1755.91 1632.6,1754.91 1632.28,1753.91C1631.95,1752.91 1631.64,1751.91 1631.29,1750.91C1630.93,1749.91 1630.54,1748.91 1630.15,1747.91C1629.76,1746.91 1629.34,1745.91 1628.93,1744.91C1628.53,1743.91 1628.1,1742.91 1627.72,1741.91C1627.34,1740.91 1626.98,1739.91 1626.65,1738.91C1626.32,1737.91 1626.03,1736.91 1625.73,1735.91C1625.42,1734.91 1625.1,1733.91 1624.83,1732.91C1624.56,1731.91 1624.29,1730.91 1624.11,1729.91C1623.93,1728.91 1623.84,1727.91 1623.73,1726.91C1623.62,1725.91 1623.52,1724.91 1623.43,1723.91C1623.33,1722.91 1623.23,1721.91 1623.15,1720.91C1623.06,1719.91 1623,1718.91 1622.94,1717.91C1622.87,1716.91 1622.82,1715.91 1622.75,1714.91C1622.69,1713.91 1622.65,1712.91 1622.53,1711.91C1622.42,1710.91 1622.24,1709.91 1622.04,1708.91C1621.84,1707.91 1621.58,1706.91 1621.34,1705.91C1621.09,1704.91 1620.94,1703.91 1620.57,1702.91C1620.2,1701.91 1619.76,1700.91 1619.1,1699.91C1618.44,1698.91 1617.5,1697.91 1616.62,1696.91C1615.75,1695.91 1614.91,1694.91 1613.85,1693.91C1612.78,1692.91 1611.52,1691.91 1610.22,1690.91C1608.93,1689.91 1607.46,1688.91 1606.06,1687.91C1604.66,1686.91 1603.28,1685.91 1601.83,1684.91C1600.38,1683.91 1598.9,1682.91 1597.36,1681.91C1595.82,1680.91 1594.19,1679.91 1592.6,1678.91C1591.01,1677.91 1589.37,1676.91 1587.81,1675.91C1586.25,1674.91 1584.69,1673.91 1583.24,1672.91C1581.79,1671.91 1580.47,1670.91 1579.12,1669.91C1577.76,1668.91 1576.45,1667.91 1575.11,1666.91C1573.78,1665.91 1572.41,1664.91 1571.13,1663.91C1569.85,1662.91 1568.58,1661.91 1567.44,1660.91C1566.31,1659.91 1565.34,1658.91 1564.31,1657.91C1563.29,1656.91 1562.31,1655.91 1561.31,1654.91C1560.31,1653.91 1559.28,1652.91 1558.33,1651.91C1557.37,1650.91 1556.43,1649.91 1555.59,1648.91C1554.74,1647.91 1554.02,1646.91 1553.26,1645.91C1552.49,1644.91 1551.75,1643.91 1551,1642.91C1550.26,1641.91 1549.46,1640.91 1548.78,1639.91C1548.09,1638.91 1547.44,1637.91 1546.91,1636.91C1546.37,1635.91 1546,1634.91 1545.57,1633.91C1545.14,1632.91 1544.73,1631.91 1544.32,1630.91C1543.91,1629.91 1543.45,1628.91 1543.1,1627.91C1542.74,1626.91 1542.43,1625.91 1542.21,1624.91C1541.98,1623.91 1541.9,1622.91 1541.76,1621.91C1541.62,1620.91 1541.5,1619.91 1541.38,1618.91C1541.27,1617.91 1541.12,1616.91 1541.07,1615.91C1541.03,1614.91 1541.07,1613.91 1541.13,1612.91C1541.18,1611.91 1541.3,1610.91 1541.39,1609.91C1541.48,1608.91 1541.55,1607.91 1541.67,1606.91C1541.79,1605.91 1541.9,1604.91 1542.1,1603.91C1542.3,1602.91 1542.6,1601.91 1542.87,1600.91C1543.14,1599.91 1543.43,1598.91 1543.72,1597.91C1544,1596.91 1544.26,1595.91 1544.58,1594.91C1544.9,1593.91 1545.22,1592.91 1545.63,1591.91C1546.05,1590.91 1546.56,1589.91 1547.05,1588.91C1547.54,1587.91 1548.05,1586.91 1548.55,1585.91C1549.05,1584.91 1549.53,1583.91 1550.06,1582.91C1550.6,1581.91 1551.14,1580.91 1551.76,1579.91C1552.38,1578.91 1553.1,1577.91 1553.78,1576.91C1554.46,1575.91 1555.16,1574.91 1555.85,1573.91C1556.55,1572.91 1557.21,1571.91 1557.94,1570.91C1558.67,1569.91 1559.36,1568.91 1560.25,1567.91C1561.14,1566.91 1562.23,1565.91 1563.28,1564.91C1564.33,1563.91 1565.45,1562.91 1566.55,1561.91C1567.64,1560.91 1568.7,1559.91 1569.84,1558.91C1570.99,1557.91 1572.17,1556.91 1573.42,1555.91C1574.68,1554.91 1576.04,1553.91 1577.37,1552.91C1578.69,1551.91 1580.03,1550.91 1581.37,1549.91C1582.7,1548.91 1584.03,1547.91 1585.37,1546.91C1586.7,1545.91 1588.03,1544.91 1589.37,1543.91C1590.7,1542.91 1592.03,1541.91 1593.37,1540.91C1594.7,1539.91 1596.04,1538.91 1597.37,1537.91C1598.7,1536.91 1600.05,1535.91 1601.34,1534.91C1602.63,1533.91 1603.88,1532.91 1605.09,1531.91C1606.31,1530.91 1607.45,1529.91 1608.62,1528.91C1609.79,1527.91 1610.96,1526.91 1612.12,1525.91C1613.28,1524.91 1614.49,1523.91 1615.56,1522.91C1616.63,1521.91 1617.61,1520.91 1618.53,1519.91C1619.45,1518.91 1620.23,1517.91 1621.08,1516.91C1621.92,1515.91 1622.76,1514.91 1623.58,1513.91C1624.41,1512.91 1625.29,1511.91 1626.02,1510.91C1626.76,1509.91 1627.39,1508.91 1627.98,1507.91C1628.57,1506.91 1629.04,1505.91 1629.56,1504.91C1630.08,1503.91 1630.61,1502.91 1631.11,1501.91C1631.61,1500.91 1632.17,1499.91 1632.59,1498.91C1633,1497.91 1633.31,1496.91 1633.6,1495.91C1633.88,1494.91 1634.06,1493.91 1634.28,1492.91C1634.51,1491.91 1634.74,1490.91 1634.95,1489.91C1635.16,1488.91 1635.41,1487.91 1635.55,1486.91C1635.7,1485.91 1635.76,1484.91 1635.8,1483.91C1635.85,1482.91 1635.83,1481.91 1635.84,1480.91C1635.85,1479.91 1635.85,1478.91 1635.86,1477.91C1635.87,1476.91 1635.87,1475.91 1635.88,1474.91C1635.89,1473.91 1635.9,1472.41 1635.9,1471.91Z" fill="#ff0000" stroke="#000" stroke-width="1.35" stroke-linejoin="round"/>
<path d="M1212.2,1477.8L1212.2,1549.2M1212.2,1609.5L1212.2,1697" stroke="#000" stroke-width="1.35" fill="none"/>
<rect x="1190.9" y="1549.2" width="42.8" height="60.3" fill="#fff" stroke="#000" stroke-width="1.35"/>
<line x1="1190.9" y1="1580.5" x2="1233.7" y2="1580.5" stroke="#000" stroke-width="2.6"/>
<circle cx="1212.2" cy="1721" r="3.2" fill="#000"/>
<path d="M1423.8,1499.5L1423.8,1552.7M1423.8,1621.1L1423.8,1720.6" stroke="#000" stroke-width="1.35" fill="none"/>
<rect x="1402.3" y="1552.7" width="43.2" height="68.4" fill="#fff" stroke="#000" stroke-width="1.35"/>
<line x1="1402.3" y1="1586.4" x2="1445.5" y2="1586.4" stroke="#000" stroke-width="2.6"/>
<circle cx="1423.8" cy="1726.5" r="3.2" fill="#000"/>
<path d="M1635.9,1526.5L1635.9,1577.7M1635.9,1640.4L1635.9,1727.1" stroke="#000" stroke-width="1.35" fill="none"/>
<rect x="1614.6" y="1577.7" width="42.6" height="62.7" fill="#fff" stroke="#000" stroke-width="1.35"/>
<line x1="1614.6" y1="1612" x2="1657.2" y2="1612" stroke="#000" stroke-width="2.6"/>
<path d="M1212.2,1412.7L1212.2,1405L1635.9,1405L1635.9,1412.7" fill="none" stroke="#333" stroke-width="1"/>
<text x="1424.05" y="1398.6" font-size="14.5" text-anchor="middle" fill="#000">***</text>
<path d="M1423.8,1443L1423.8,1435.3L1635.9,1435.3L1635.9,1443" fill="none" stroke="#333" stroke-width="1"/>
<text x="1529.85" y="1429" font-size="14.5" text-anchor="middle" fill="#000">**</text>
<path d="M1212.2,1472.8L1212.2,1465.1L1423.8,1465.1L1423.8,1472.8" fill="none" stroke="#333" stroke-width="1"/>
<text x="1318" y="1460.8" font-size="14.5" text-anchor="middle" fill="#000">ns</text>
<path d="M1085.1,1386L1085.1,1800L1763,1800" fill="none" stroke="#000" stroke-width="1.4"/>
<g stroke="#000" stroke-width="1.4">
<line x1="1081.1" y1="1471.9" x2="1085.1" y2="1471.9"/>
<line x1="1081.1" y1="1559.3" x2="1085.1" y2="1559.3"/>
<line x1="1081.1" y1="1646.7" x2="1085.1" y2="1646.7"/>
<line x1="1081.1" y1="1734" x2="1085.1" y2="1734"/>
<line x1="1212.2" y1="1800" x2="1212.2" y2="1804.2"/>
<line x1="1423.8" y1="1800" x2="1423.8" y2="1804.2"/>
<line x1="1635.9" y1="1800" x2="1635.9" y2="1804.2"/>
</g>
<text x="1077.4" y="1478.2" font-size="15.8" text-anchor="end" fill="#000">5000</text>
<text x="1077.4" y="1565.6" font-size="15.8" text-anchor="end" fill="#000">2500</text>
<text x="1077.4" y="1653" font-size="15.8" text-anchor="end" fill="#000">0</text>
<text x="1077.4" y="1740.3" font-size="15.8" text-anchor="end" fill="#000">−2500</text>
<text x="1212.2" y="1818.8" font-size="15.8" text-anchor="middle" fill="#000">low</text>
<text x="1423.8" y="1818.8" font-size="15.8" text-anchor="middle" fill="#000">medium</text>
<text x="1635.9" y="1818.8" font-size="15.8" text-anchor="middle" fill="#000">high</text>
<text x="1423.8" y="1838" font-size="15.8" text-anchor="middle" fill="#000">Risk Level</text>
<text transform="translate(1026.1,1592.9) rotate(-90)" font-size="15.8" text-anchor="middle" fill="#000">ESTIMATEScore</text>
<text x="1283.5" y="1356.5" font-size="15.7" text-anchor="start" fill="#000">Risk Level</text>
<rect x="1364.3" y="1340.2" width="21.5" height="21.3" fill="#0066ff" stroke="#000" stroke-width="1.3"/>
<text x="1394.7" y="1355.9" font-size="13.33" text-anchor="start" fill="#000">low</text>
<rect x="1422.7" y="1340.2" width="21.5" height="21.3" fill="#ff9900" stroke="#000" stroke-width="1.3"/>
<text x="1453.1" y="1355.9" font-size="13.33" text-anchor="start" fill="#000">medium</text>
<rect x="1508.8" y="1340.2" width="21.5" height="21.3" fill="#ff0000" stroke="#000" stroke-width="1.3"/>
<text x="1539.2" y="1355.9" font-size="13.33" text-anchor="start" fill="#000">high</text>
<text transform="translate(1016,1359) scale(1,1.045)" font-size="45" fill="#000">F</text>
</svg>
</body>
</html>
